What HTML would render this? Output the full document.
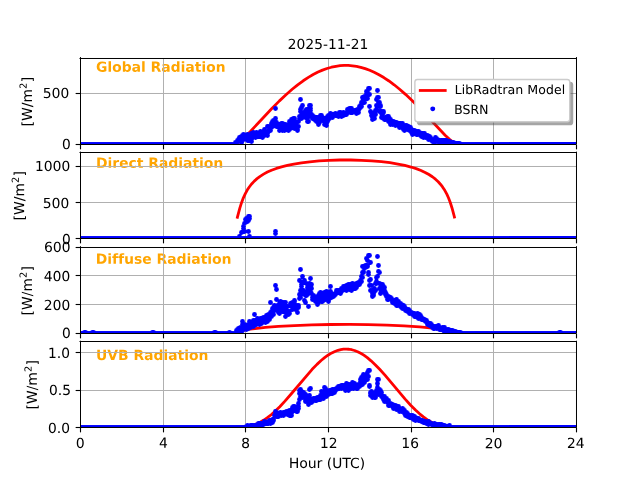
<!DOCTYPE html><html><head><meta charset="utf-8"><style>html,body{margin:0;padding:0;background:#fff;overflow:hidden}svg{display:block}</style></head><body><svg width="640" height="480" viewBox="0 0 460.8 345.6" version="1.1">
 
 <defs>
  <style type="text/css">*{stroke-linejoin: round; stroke-linecap: butt}</style>
 </defs>
 <g id="figure_1">
  <g id="patch_1">
   <path d="M 0 345.6 
L 460.8 345.6 
L 460.8 0 
L 0 0 
z
" style="fill: #ffffff"/>
  </g>
  <g id="axes_1">
   <g id="patch_2">
    <path d="M 57.6 103.358512 
L 414.72 103.358512 
L 414.72 41.472 
L 57.6 41.472 
z
" style="fill: #ffffff"/>
   </g>
   <g id="text_1">
    <!-- Global Radiation -->
    <g style="fill: #ffa500" transform="translate(69.1200 51.6600) scale(0.1 -0.1)">
     <defs>
      <path id="DejaVuSans-Bold-47" d="M 4781 347 
Q 4331 128 3847 18 
Q 3363 -91 2847 -91 
Q 1681 -91 1000 561 
Q 319 1213 319 2328 
Q 319 3456 1012 4103 
Q 1706 4750 2913 4750 
Q 3378 4750 3804 4662 
Q 4231 4575 4609 4403 
L 4609 3438 
Q 4219 3659 3833 3768 
Q 3447 3878 3059 3878 
Q 2341 3878 1952 3476 
Q 1563 3075 1563 2328 
Q 1563 1588 1938 1184 
Q 2313 781 3003 781 
Q 3191 781 3352 804 
Q 3513 828 3641 878 
L 3641 1784 
L 2906 1784 
L 2906 2591 
L 4781 2591 
L 4781 347 
z
" transform="scale(0.015625)"/>
      <path id="DejaVuSans-Bold-6c" d="M 538 4863 
L 1656 4863 
L 1656 0 
L 538 0 
L 538 4863 
z
" transform="scale(0.015625)"/>
      <path id="DejaVuSans-Bold-6f" d="M 2203 2784 
Q 1831 2784 1636 2517 
Q 1441 2250 1441 1747 
Q 1441 1244 1636 976 
Q 1831 709 2203 709 
Q 2569 709 2762 976 
Q 2956 1244 2956 1747 
Q 2956 2250 2762 2517 
Q 2569 2784 2203 2784 
z
M 2203 3584 
Q 3106 3584 3614 3096 
Q 4122 2609 4122 1747 
Q 4122 884 3614 396 
Q 3106 -91 2203 -91 
Q 1297 -91 786 396 
Q 275 884 275 1747 
Q 275 2609 786 3096 
Q 1297 3584 2203 3584 
z
" transform="scale(0.015625)"/>
      <path id="DejaVuSans-Bold-62" d="M 2400 722 
Q 2759 722 2948 984 
Q 3138 1247 3138 1747 
Q 3138 2247 2948 2509 
Q 2759 2772 2400 2772 
Q 2041 2772 1848 2508 
Q 1656 2244 1656 1747 
Q 1656 1250 1848 986 
Q 2041 722 2400 722 
z
M 1656 2988 
Q 1888 3294 2169 3439 
Q 2450 3584 2816 3584 
Q 3463 3584 3878 3070 
Q 4294 2556 4294 1747 
Q 4294 938 3878 423 
Q 3463 -91 2816 -91 
Q 2450 -91 2169 54 
Q 1888 200 1656 506 
L 1656 0 
L 538 0 
L 538 4863 
L 1656 4863 
L 1656 2988 
z
" transform="scale(0.015625)"/>
      <path id="DejaVuSans-Bold-61" d="M 2106 1575 
Q 1756 1575 1579 1456 
Q 1403 1338 1403 1106 
Q 1403 894 1545 773 
Q 1688 653 1941 653 
Q 2256 653 2472 879 
Q 2688 1106 2688 1447 
L 2688 1575 
L 2106 1575 
z
M 3816 1997 
L 3816 0 
L 2688 0 
L 2688 519 
Q 2463 200 2181 54 
Q 1900 -91 1497 -91 
Q 953 -91 614 226 
Q 275 544 275 1050 
Q 275 1666 698 1953 
Q 1122 2241 2028 2241 
L 2688 2241 
L 2688 2328 
Q 2688 2594 2478 2717 
Q 2269 2841 1825 2841 
Q 1466 2841 1156 2769 
Q 847 2697 581 2553 
L 581 3406 
Q 941 3494 1303 3539 
Q 1666 3584 2028 3584 
Q 2975 3584 3395 3211 
Q 3816 2838 3816 1997 
z
" transform="scale(0.015625)"/>
      <path id="DejaVuSans-Bold-20" transform="scale(0.015625)"/>
      <path id="DejaVuSans-Bold-52" d="M 2297 2597 
Q 2675 2597 2839 2737 
Q 3003 2878 3003 3200 
Q 3003 3519 2839 3656 
Q 2675 3794 2297 3794 
L 1791 3794 
L 1791 2597 
L 2297 2597 
z
M 1791 1766 
L 1791 0 
L 588 0 
L 588 4666 
L 2425 4666 
Q 3347 4666 3776 4356 
Q 4206 4047 4206 3378 
Q 4206 2916 3982 2619 
Q 3759 2322 3309 2181 
Q 3556 2125 3751 1926 
Q 3947 1728 4147 1325 
L 4800 0 
L 3519 0 
L 2950 1159 
Q 2778 1509 2601 1637 
Q 2425 1766 2131 1766 
L 1791 1766 
z
" transform="scale(0.015625)"/>
      <path id="DejaVuSans-Bold-64" d="M 2919 2988 
L 2919 4863 
L 4044 4863 
L 4044 0 
L 2919 0 
L 2919 506 
Q 2688 197 2409 53 
Q 2131 -91 1766 -91 
Q 1119 -91 703 423 
Q 288 938 288 1747 
Q 288 2556 703 3070 
Q 1119 3584 1766 3584 
Q 2128 3584 2408 3439 
Q 2688 3294 2919 2988 
z
M 2181 722 
Q 2541 722 2730 984 
Q 2919 1247 2919 1747 
Q 2919 2247 2730 2509 
Q 2541 2772 2181 2772 
Q 1825 2772 1636 2509 
Q 1447 2247 1447 1747 
Q 1447 1247 1636 984 
Q 1825 722 2181 722 
z
" transform="scale(0.015625)"/>
      <path id="DejaVuSans-Bold-69" d="M 538 3500 
L 1656 3500 
L 1656 0 
L 538 0 
L 538 3500 
z
M 538 4863 
L 1656 4863 
L 1656 3950 
L 538 3950 
L 538 4863 
z
" transform="scale(0.015625)"/>
      <path id="DejaVuSans-Bold-74" d="M 1759 4494 
L 1759 3500 
L 2913 3500 
L 2913 2700 
L 1759 2700 
L 1759 1216 
Q 1759 972 1856 886 
Q 1953 800 2241 800 
L 2816 800 
L 2816 0 
L 1856 0 
Q 1194 0 917 276 
Q 641 553 641 1216 
L 641 2700 
L 84 2700 
L 84 3500 
L 641 3500 
L 641 4494 
L 1759 4494 
z
" transform="scale(0.015625)"/>
      <path id="DejaVuSans-Bold-6e" d="M 4056 2131 
L 4056 0 
L 2931 0 
L 2931 347 
L 2931 1631 
Q 2931 2084 2911 2256 
Q 2891 2428 2841 2509 
Q 2775 2619 2662 2680 
Q 2550 2741 2406 2741 
Q 2056 2741 1856 2470 
Q 1656 2200 1656 1722 
L 1656 0 
L 538 0 
L 538 3500 
L 1656 3500 
L 1656 2988 
Q 1909 3294 2193 3439 
Q 2478 3584 2822 3584 
Q 3428 3584 3742 3212 
Q 4056 2841 4056 2131 
z
" transform="scale(0.015625)"/>
     </defs>
     <use href="#DejaVuSans-Bold-47"/>
     <use href="#DejaVuSans-Bold-6c" transform="translate(82.080078 0)"/>
     <use href="#DejaVuSans-Bold-6f" transform="translate(116.357422 0)"/>
     <use href="#DejaVuSans-Bold-62" transform="translate(185.058594 0)"/>
     <use href="#DejaVuSans-Bold-61" transform="translate(256.640625 0)"/>
     <use href="#DejaVuSans-Bold-6c" transform="translate(324.121094 0)"/>
     <use href="#DejaVuSans-Bold-20" transform="translate(358.398438 0)"/>
     <use href="#DejaVuSans-Bold-52" transform="translate(393.212891 0)"/>
     <use href="#DejaVuSans-Bold-61" transform="translate(470.214844 0)"/>
     <use href="#DejaVuSans-Bold-64" transform="translate(537.695312 0)"/>
     <use href="#DejaVuSans-Bold-69" transform="translate(609.277344 0)"/>
     <use href="#DejaVuSans-Bold-61" transform="translate(643.554688 0)"/>
     <use href="#DejaVuSans-Bold-74" transform="translate(711.035156 0)"/>
     <use href="#DejaVuSans-Bold-69" transform="translate(758.837891 0)"/>
     <use href="#DejaVuSans-Bold-6f" transform="translate(793.115234 0)"/>
     <use href="#DejaVuSans-Bold-6e" transform="translate(861.816406 0)"/>
    </g>
   </g>
   <g id="matplotlib.axis_1">
    <g id="xtick_1">
     <g id="line2d_1">
      <path d="M 57.9600 103.3585 L 57.9600 41.4720" clip-path="url(#p2f8685d507)" style="fill: none; stroke: #b0b0b0; stroke-width: 0.72; stroke-linecap: square"/>
     </g>
     <g id="line2d_2">
      <defs>
       <path id="m7a908d2771" d="M 0 0 
L 0 3.5 
" style="stroke: #000000; stroke-width: 0.8"/>
      </defs>
      <g>
       <use href="#m7a908d2771" x="57.9600" y="104.0400" style="stroke: #000000; stroke-width: 0.72"/>
      </g>
     </g>
    </g>
    <g id="xtick_2">
     <g id="line2d_3">
      <path d="M 117.7200 103.3585 L 117.7200 41.4720" clip-path="url(#p2f8685d507)" style="fill: none; stroke: #b0b0b0; stroke-width: 0.72; stroke-linecap: square"/>
     </g>
     <g id="line2d_4">
      <g>
       <use href="#m7a908d2771" x="117.7200" y="104.0400" style="stroke: #000000; stroke-width: 0.72"/>
      </g>
     </g>
    </g>
    <g id="xtick_3">
     <g id="line2d_5">
      <path d="M 176.7600 103.3585 L 176.7600 41.4720" clip-path="url(#p2f8685d507)" style="fill: none; stroke: #b0b0b0; stroke-width: 0.72; stroke-linecap: square"/>
     </g>
     <g id="line2d_6">
      <g>
       <use href="#m7a908d2771" x="176.7600" y="104.0400" style="stroke: #000000; stroke-width: 0.72"/>
      </g>
     </g>
    </g>
    <g id="xtick_4">
     <g id="line2d_7">
      <path d="M 236.5200 103.3585 L 236.5200 41.4720" clip-path="url(#p2f8685d507)" style="fill: none; stroke: #b0b0b0; stroke-width: 0.72; stroke-linecap: square"/>
     </g>
     <g id="line2d_8">
      <g>
       <use href="#m7a908d2771" x="236.5200" y="104.0400" style="stroke: #000000; stroke-width: 0.72"/>
      </g>
     </g>
    </g>
    <g id="xtick_5">
     <g id="line2d_9">
      <path d="M 296.2800 103.3585 L 296.2800 41.4720" clip-path="url(#p2f8685d507)" style="fill: none; stroke: #b0b0b0; stroke-width: 0.72; stroke-linecap: square"/>
     </g>
     <g id="line2d_10">
      <g>
       <use href="#m7a908d2771" x="296.2800" y="104.0400" style="stroke: #000000; stroke-width: 0.72"/>
      </g>
     </g>
    </g>
    <g id="xtick_6">
     <g id="line2d_11">
      <path d="M 355.3200 103.3585 L 355.3200 41.4720" clip-path="url(#p2f8685d507)" style="fill: none; stroke: #b0b0b0; stroke-width: 0.72; stroke-linecap: square"/>
     </g>
     <g id="line2d_12">
      <g>
       <use href="#m7a908d2771" x="355.3200" y="104.0400" style="stroke: #000000; stroke-width: 0.72"/>
      </g>
     </g>
    </g>
    <g id="xtick_7">
     <g id="line2d_13">
      <path d="M 415.0800 103.3585 L 415.0800 41.4720" clip-path="url(#p2f8685d507)" style="fill: none; stroke: #b0b0b0; stroke-width: 0.72; stroke-linecap: square"/>
     </g>
     <g id="line2d_14">
      <g>
       <use href="#m7a908d2771" x="415.0800" y="104.0400" style="stroke: #000000; stroke-width: 0.72"/>
      </g>
     </g>
    </g>
   </g>
   <g id="matplotlib.axis_2">
    <g id="ytick_1">
     <g id="line2d_15">
      <path d="M 57.6000 104.0400 L 414.7200 104.0400" clip-path="url(#p2f8685d507)" style="fill: none; stroke: #b0b0b0; stroke-width: 0.72; stroke-linecap: square"/>
     </g>
     <g id="line2d_16">
      <defs>
       <path id="m9e7ff585a2" d="M 0 0 
L -3.5 0 
" style="stroke: #000000; stroke-width: 0.8"/>
      </defs>
      <g>
       <use href="#m9e7ff585a2" x="57.9600" y="104.0400" style="stroke: #000000; stroke-width: 0.72"/>
      </g>
     </g>
     <g id="text_2">
      <!-- 0 -->
      <g transform="translate(44.5975 107.3377) scale(0.1 -0.1)">
       <defs>
        <path id="DejaVuSans-30" d="M 2034 4250 
Q 1547 4250 1301 3770 
Q 1056 3291 1056 2328 
Q 1056 1369 1301 889 
Q 1547 409 2034 409 
Q 2525 409 2770 889 
Q 3016 1369 3016 2328 
Q 3016 3291 2770 3770 
Q 2525 4250 2034 4250 
z
M 2034 4750 
Q 2819 4750 3233 4129 
Q 3647 3509 3647 2328 
Q 3647 1150 3233 529 
Q 2819 -91 2034 -91 
Q 1250 -91 836 529 
Q 422 1150 422 2328 
Q 422 3509 836 4129 
Q 1250 4750 2034 4750 
z
" transform="scale(0.015625)"/>
       </defs>
       <use href="#DejaVuSans-30"/>
      </g>
     </g>
    </g>
    <g id="ytick_2">
     <g id="line2d_17">
      <path d="M 57.6000 67.3200 L 414.7200 67.3200" clip-path="url(#p2f8685d507)" style="fill: none; stroke: #b0b0b0; stroke-width: 0.72; stroke-linecap: square"/>
     </g>
     <g id="line2d_18">
      <g>
       <use href="#m9e7ff585a2" x="57.9600" y="67.3200" style="stroke: #000000; stroke-width: 0.72"/>
      </g>
     </g>
     <g id="text_3">
      <!-- 500 -->
      <g transform="translate(30.7925 70.5739) scale(0.1 -0.1)">
       <defs>
        <path id="DejaVuSans-35" d="M 691 4666 
L 3169 4666 
L 3169 4134 
L 1269 4134 
L 1269 2991 
Q 1406 3038 1543 3061 
Q 1681 3084 1819 3084 
Q 2600 3084 3056 2656 
Q 3513 2228 3513 1497 
Q 3513 744 3044 326 
Q 2575 -91 1722 -91 
Q 1428 -91 1123 -41 
Q 819 9 494 109 
L 494 744 
Q 775 591 1075 516 
Q 1375 441 1709 441 
Q 2250 441 2565 725 
Q 2881 1009 2881 1497 
Q 2881 1984 2565 2268 
Q 2250 2553 1709 2553 
Q 1456 2553 1204 2497 
Q 953 2441 691 2322 
L 691 4666 
z
" transform="scale(0.015625)"/>
       </defs>
       <use href="#DejaVuSans-35"/>
       <use href="#DejaVuSans-30" transform="translate(63.623047 0)"/>
       <use href="#DejaVuSans-30" transform="translate(127.246094 0)"/>
      </g>
     </g>
    </g>
    <g id="text_4">
     <!-- [W/m$^2$] -->
     <g transform="translate(23.0928 90.9853) rotate(-90) scale(0.1 -0.1)">
      <defs>
       <path id="DejaVuSans-5b" d="M 550 4863 
L 1875 4863 
L 1875 4416 
L 1125 4416 
L 1125 -397 
L 1875 -397 
L 1875 -844 
L 550 -844 
L 550 4863 
z
" transform="scale(0.015625)"/>
       <path id="DejaVuSans-57" d="M 213 4666 
L 850 4666 
L 1831 722 
L 2809 4666 
L 3519 4666 
L 4500 722 
L 5478 4666 
L 6119 4666 
L 4947 0 
L 4153 0 
L 3169 4050 
L 2175 0 
L 1381 0 
L 213 4666 
z
" transform="scale(0.015625)"/>
       <path id="DejaVuSans-2f" d="M 1625 4666 
L 2156 4666 
L 531 -594 
L 0 -594 
L 1625 4666 
z
" transform="scale(0.015625)"/>
       <path id="DejaVuSans-6d" d="M 3328 2828 
Q 3544 3216 3844 3400 
Q 4144 3584 4550 3584 
Q 5097 3584 5394 3201 
Q 5691 2819 5691 2113 
L 5691 0 
L 5113 0 
L 5113 2094 
Q 5113 2597 4934 2840 
Q 4756 3084 4391 3084 
Q 3944 3084 3684 2787 
Q 3425 2491 3425 1978 
L 3425 0 
L 2847 0 
L 2847 2094 
Q 2847 2600 2669 2842 
Q 2491 3084 2119 3084 
Q 1678 3084 1418 2786 
Q 1159 2488 1159 1978 
L 1159 0 
L 581 0 
L 581 3500 
L 1159 3500 
L 1159 2956 
Q 1356 3278 1631 3431 
Q 1906 3584 2284 3584 
Q 2666 3584 2933 3390 
Q 3200 3197 3328 2828 
z
" transform="scale(0.015625)"/>
       <path id="DejaVuSans-32" d="M 1228 531 
L 3431 531 
L 3431 0 
L 469 0 
L 469 531 
Q 828 903 1448 1529 
Q 2069 2156 2228 2338 
Q 2531 2678 2651 2914 
Q 2772 3150 2772 3378 
Q 2772 3750 2511 3984 
Q 2250 4219 1831 4219 
Q 1534 4219 1204 4116 
Q 875 4013 500 3803 
L 500 4441 
Q 881 4594 1212 4672 
Q 1544 4750 1819 4750 
Q 2544 4750 2975 4387 
Q 3406 4025 3406 3419 
Q 3406 3131 3298 2873 
Q 3191 2616 2906 2266 
Q 2828 2175 2409 1742 
Q 1991 1309 1228 531 
z
" transform="scale(0.015625)"/>
       <path id="DejaVuSans-5d" d="M 1947 4863 
L 1947 -844 
L 622 -844 
L 622 -397 
L 1369 -397 
L 1369 4416 
L 622 4416 
L 622 4863 
L 1947 4863 
z
" transform="scale(0.015625)"/>
      </defs>
      <use href="#DejaVuSans-5b" transform="translate(0 0.765625)"/>
      <use href="#DejaVuSans-57" transform="translate(39.013672 0.765625)"/>
      <use href="#DejaVuSans-2f" transform="translate(137.890625 0.765625)"/>
      <use href="#DejaVuSans-6d" transform="translate(171.582031 0.765625)"/>
      <use href="#DejaVuSans-32" transform="translate(269.951172 39.046875) scale(0.7)"/>
      <use href="#DejaVuSans-5d" transform="translate(317.22168 0.765625)"/>
     </g>
    </g>
   </g>
   <g id="line2d_19">
    <path d="M 170.936 103.176347 
L 171.68 102.557696 
L 174.16 100.612525 
L 176.64 98.33925 
L 180.112 94.829046 
L 186.312 88.186726 
L 195.736 78.133249 
L 201.192 72.636111 
L 205.904 68.18443 
L 210.368 64.270851 
L 214.336 61.071815 
L 218.304 58.160273 
L 222.024 55.709861 
L 225.496 53.679732 
L 228.968 51.90821 
L 232.192 50.502513 
L 235.416 49.333373 
L 238.64 48.4057 
L 241.864 47.723361 
L 244.84 47.313724 
L 247.816 47.116992 
L 250.792 47.133854 
L 253.768 47.36425 
L 256.744 47.807369 
L 259.72 48.461647 
L 262.944 49.406034 
L 266.168 50.59157 
L 269.392 52.013272 
L 272.864 53.801506 
L 276.336 55.847712 
L 280.056 58.314534 
L 283.776 61.050907 
L 287.744 64.247898 
L 291.96 67.933874 
L 296.672 72.367361 
L 301.88 77.591679 
L 308.328 84.402733 
L 320.48 97.336294 
L 323.456 100.154672 
L 325.688 101.986572 
L 327.176 103.141476 
L 327.176 103.141476 
" clip-path="url(#p2f8685d507)" style="fill: none; stroke: #ff0000; stroke-width: 2; stroke-linecap: square"/>
   </g>
   <g id="line2d_20">
    <defs>
     <path id="m066507d8de" d="M 0 1.25 
C 0.331504 1.25 0.649475 1.118292 0.883883 0.883883 
C 1.118292 0.649475 1.25 0.331504 1.25 0 
C 1.25 -0.331504 1.118292 -0.649475 0.883883 -0.883883 
C 0.649475 -1.118292 0.331504 -1.25 0 -1.25 
C -0.331504 -1.25 -0.649475 -1.118292 -0.883883 -0.883883 
C -1.118292 -0.649475 -1.25 -0.331504 -1.25 0 
C -1.25 0.331504 -1.118292 0.649475 -0.883883 0.883883 
C -0.649475 1.118292 -0.331504 1.25 0 1.25 
z
" style="stroke: #0000ff"/>
    </defs>
    <g clip-path="url(#p2f8685d507)">
     <path d="M57.960 104.040h0M57.960 104.040h0M58.680 104.040h0M58.680 104.040h0M58.680 104.040h0M59.400 104.040h0M59.400 104.040h0M59.400 104.040h0M60.120 104.040h0M60.120 104.040h0M60.120 104.040h0M60.840 104.040h0M60.840 104.040h0M60.840 104.040h0M61.560 104.040h0M61.560 104.040h0M62.280 104.040h0M62.280 104.040h0M62.280 104.040h0M63.000 104.040h0M63.000 104.040h0M63.000 104.040h0M63.720 104.040h0M63.720 104.040h0M63.720 104.040h0M64.440 104.040h0M64.440 104.040h0M64.440 104.040h0M65.160 104.040h0M65.160 104.040h0M65.160 104.040h0M65.880 104.040h0M65.880 104.040h0M65.880 104.040h0M66.600 104.040h0M66.600 104.040h0M66.600 104.040h0M67.320 104.040h0M67.320 104.040h0M67.320 104.040h0M68.040 104.040h0M68.040 104.040h0M68.040 104.040h0M68.760 104.040h0M68.760 104.040h0M69.480 104.040h0M69.480 104.040h0M69.480 104.040h0M70.200 104.040h0M70.200 104.040h0M70.200 104.040h0M70.920 104.040h0M70.920 104.040h0M70.920 104.040h0M71.640 104.040h0M71.640 104.040h0M71.640 104.040h0M72.360 104.040h0M72.360 104.040h0M72.360 104.040h0M73.080 104.040h0M73.080 104.040h0M73.080 104.040h0M73.800 104.040h0M73.800 104.040h0M73.800 104.040h0M74.520 104.040h0M74.520 104.040h0M74.520 104.040h0M75.240 104.040h0M75.240 104.040h0M75.240 104.040h0M75.960 104.040h0M75.960 104.040h0M75.960 104.040h0M76.680 104.040h0M76.680 104.040h0M77.400 104.040h0M77.400 104.040h0M77.400 104.040h0M78.120 104.040h0M78.120 104.040h0M78.120 104.040h0M78.840 104.040h0M78.840 104.040h0M78.840 104.040h0M79.560 104.040h0M79.560 104.040h0M79.560 104.040h0M80.280 104.040h0M80.280 104.040h0M80.280 104.040h0M81.000 104.040h0M81.000 104.040h0M81.000 104.040h0M81.720 104.040h0M81.720 104.040h0M81.720 104.040h0M82.440 104.040h0M82.440 104.040h0M82.440 104.040h0M83.160 104.040h0M83.160 104.040h0M83.160 104.040h0M83.880 104.040h0M83.880 104.040h0M84.600 104.040h0M84.600 104.040h0M84.600 104.040h0M85.320 104.040h0M85.320 104.040h0M85.320 104.040h0M86.040 104.040h0M86.040 104.040h0M86.040 104.040h0M86.760 104.040h0M86.760 104.040h0M86.760 104.040h0M87.480 104.040h0M87.480 104.040h0M87.480 104.040h0M88.200 104.040h0M88.200 104.040h0M88.200 104.040h0M88.920 104.040h0M88.920 104.040h0M88.920 104.040h0M89.640 104.040h0M89.640 104.040h0M89.640 104.040h0M90.360 104.040h0M90.360 104.040h0M90.360 104.040h0M91.080 104.040h0M91.080 104.040h0M91.800 104.040h0M91.800 104.040h0M91.800 104.040h0M92.520 104.040h0M92.520 104.040h0M92.520 104.040h0M93.240 104.040h0M93.240 104.040h0M93.240 104.040h0M93.960 104.040h0M93.960 104.040h0M93.960 104.040h0M94.680 104.040h0M94.680 104.040h0M94.680 104.040h0M95.400 104.040h0M95.400 104.040h0M95.400 104.040h0M96.120 104.040h0M96.120 104.040h0M96.120 104.040h0M96.840 104.040h0M96.840 104.040h0M96.840 104.040h0M97.560 104.040h0M97.560 104.040h0M97.560 104.040h0M98.280 104.040h0M98.280 104.040h0M98.280 104.040h0M99.000 104.040h0M99.000 104.040h0M99.720 104.040h0M99.720 104.040h0M99.720 104.040h0M100.440 104.040h0M100.440 104.040h0M100.440 104.040h0M101.160 104.040h0M101.160 104.040h0M101.160 104.040h0M101.880 104.040h0M101.880 104.040h0M101.880 104.040h0M102.600 104.040h0M102.600 104.040h0M102.600 104.040h0M103.320 104.040h0M103.320 104.040h0M103.320 104.040h0M104.040 104.040h0M104.040 104.040h0M104.040 104.040h0M104.760 104.040h0M104.760 104.040h0M104.760 104.040h0M105.480 104.040h0M105.480 104.040h0M105.480 104.040h0M106.200 104.040h0M106.200 104.040h0M106.920 104.040h0M106.920 104.040h0M106.920 104.040h0M107.640 104.040h0M107.640 104.040h0M107.640 104.040h0M108.360 104.040h0M108.360 104.040h0M108.360 104.040h0M109.080 104.040h0M109.080 104.040h0M109.080 104.040h0M109.800 104.040h0M109.800 104.040h0M109.800 104.040h0M110.520 104.040h0M110.520 104.040h0M110.520 104.040h0M111.240 104.040h0M111.240 104.040h0M111.240 104.040h0M111.960 104.040h0M111.960 104.040h0M111.960 104.040h0M112.680 104.040h0M112.680 104.040h0M112.680 104.040h0M113.400 104.040h0M113.400 104.040h0M114.120 104.040h0M114.120 104.040h0M114.120 104.040h0M114.840 104.040h0M114.840 104.040h0M114.840 104.040h0M115.560 104.040h0M115.560 104.040h0M115.560 104.040h0M116.280 104.040h0M116.280 104.040h0M116.280 104.040h0M117.000 104.040h0M117.000 104.040h0M117.000 104.040h0M117.720 104.040h0M117.720 104.040h0M117.720 104.040h0M118.440 104.040h0M118.440 104.040h0M118.440 104.040h0M119.160 104.040h0M119.160 104.040h0M119.160 104.040h0M119.880 104.040h0M119.880 104.040h0M119.880 104.040h0M120.600 104.040h0M120.600 104.040h0M120.600 104.040h0M121.320 104.040h0M121.320 104.040h0M122.040 104.040h0M122.040 104.040h0M122.040 104.040h0M122.760 104.040h0M122.760 104.040h0M122.760 104.040h0M123.480 104.040h0M123.480 104.040h0M123.480 104.040h0M124.200 104.040h0M124.200 104.040h0M124.200 104.040h0M124.920 104.040h0M124.920 104.040h0M124.920 104.040h0M125.640 104.040h0M125.640 104.040h0M125.640 104.040h0M126.360 104.040h0M126.360 104.040h0M126.360 104.040h0M127.080 104.040h0M127.080 104.040h0M127.080 104.040h0M127.800 104.040h0M127.800 104.040h0M127.800 104.040h0M128.520 104.040h0M128.520 104.040h0M129.240 104.040h0M129.240 104.040h0M129.240 104.040h0M129.960 104.040h0M129.960 104.040h0M129.960 104.040h0M130.680 104.040h0M130.680 104.040h0M130.680 104.040h0M131.400 104.040h0M131.400 104.040h0M131.400 104.040h0M132.120 104.040h0M132.120 104.040h0M132.120 104.040h0M132.840 104.040h0M132.840 104.040h0M132.840 104.040h0M133.560 104.040h0M133.560 104.040h0M133.560 104.040h0M134.280 104.040h0M134.280 104.040h0M134.280 104.040h0M135.000 104.040h0M135.000 104.040h0M135.000 104.040h0M135.720 104.040h0M135.720 104.040h0M136.440 104.040h0M136.440 104.040h0M136.440 104.040h0M137.160 104.040h0M137.160 104.040h0M137.160 104.040h0M137.880 104.040h0M137.880 104.040h0M137.880 104.040h0M138.600 104.040h0M138.600 104.040h0M138.600 104.040h0M139.320 104.040h0M139.320 104.040h0M139.320 104.040h0M140.040 104.040h0M140.040 104.040h0M140.040 104.040h0M140.760 104.040h0M140.760 104.040h0M140.760 104.040h0M141.480 104.040h0M141.480 104.040h0M141.480 104.040h0M142.200 104.040h0M142.200 104.040h0M142.200 104.040h0M142.920 104.040h0M142.920 104.040h0M142.920 104.040h0M143.640 104.040h0M143.640 104.040h0M144.360 104.040h0M144.360 104.040h0M144.360 104.040h0M145.080 104.040h0M145.080 104.040h0M145.080 104.040h0M145.800 104.040h0M145.800 104.040h0M145.800 104.040h0M146.520 104.040h0M146.520 104.040h0M146.520 104.040h0M147.240 104.040h0M147.240 104.040h0M147.240 104.040h0M147.960 104.040h0M147.960 104.040h0M147.960 104.040h0M148.680 104.040h0M148.680 104.040h0M148.680 104.040h0M149.400 104.040h0M149.400 104.040h0M149.400 104.040h0M150.120 104.040h0M150.120 104.040h0M150.120 104.040h0M150.840 104.040h0M150.840 104.040h0M151.560 104.040h0M151.560 104.040h0M151.560 104.040h0M152.280 104.040h0M152.280 104.040h0M152.280 104.040h0M153.000 104.040h0M153.000 104.040h0M153.000 104.040h0M153.720 104.040h0M153.720 104.040h0M153.720 104.040h0M154.440 104.040h0M154.440 104.040h0M154.440 104.040h0M155.160 104.040h0M155.160 104.040h0M155.160 104.040h0M155.880 104.040h0M155.880 104.040h0M155.880 104.040h0M156.600 104.040h0M156.600 104.040h0M156.600 104.040h0M157.320 104.040h0M157.320 104.040h0M157.320 104.040h0M158.040 104.040h0M158.040 104.040h0M158.040 104.040h0M158.760 104.040h0M158.760 104.040h0M159.480 104.040h0M159.480 104.040h0M159.480 104.040h0M160.200 104.040h0M160.200 104.040h0M160.200 104.040h0M160.920 104.040h0M160.920 104.040h0M160.920 104.040h0M161.640 104.040h0M161.640 104.040h0M161.640 104.040h0M162.360 104.040h0M162.360 104.040h0M162.360 104.040h0M163.080 104.040h0M163.080 104.040h0M163.080 104.040h0M163.800 104.040h0M163.800 104.040h0M163.800 104.040h0M164.520 104.040h0M164.520 104.040h0M164.520 104.040h0M165.240 104.040h0M165.240 104.040h0M165.240 104.040h0M165.960 104.040h0M165.960 104.040h0M166.680 104.040h0M166.680 104.040h0M166.680 104.040h0M167.400 104.040h0M167.400 104.040h0M167.400 104.040h0M168.120 104.040h0M168.120 104.040h0M168.120 104.040h0M168.840 104.040h0M168.840 104.040h0M168.840 104.040h0M169.560 104.040h0M169.560 104.040h0M169.560 102.600h0M170.280 102.600h0M170.280 102.600h0M170.280 102.600h0M171.000 101.160h0M171.000 101.880h0M171.000 101.160h0M171.720 100.440h0M171.720 100.440h0M171.720 100.440h0M172.440 99.720h0M172.440 101.160h0M172.440 99.000h0M173.160 101.880h0M173.160 99.720h0M173.880 99.720h0M173.880 102.600h0M173.880 98.280h0M174.600 101.160h0M174.600 97.560h0M174.600 100.440h0M175.320 100.440h0M175.320 100.440h0M175.320 96.840h0M176.040 97.560h0M176.040 97.560h0M176.040 98.280h0M176.760 98.280h0M176.760 98.280h0M176.760 98.280h0M177.480 97.560h0M177.480 97.560h0M177.480 98.280h0M178.200 101.160h0M178.200 99.000h0M178.200 96.840h0M178.920 99.720h0M178.920 97.560h0M178.920 98.280h0M179.640 101.160h0M179.640 100.440h0M179.640 100.440h0M180.360 99.720h0M180.360 99.000h0M181.080 96.120h0M181.080 100.440h0M181.080 101.880h0M181.800 97.560h0M181.800 99.000h0M181.800 98.280h0M182.520 96.120h0M182.520 95.400h0M182.520 97.560h0M183.240 96.840h0M183.240 97.560h0M183.240 96.840h0M183.960 99.000h0M183.960 98.280h0M183.960 98.280h0M184.680 95.400h0M184.680 96.120h0M184.680 98.280h0M185.400 96.840h0M185.400 98.280h0M185.400 96.840h0M186.120 98.280h0M186.120 96.120h0M186.120 98.280h0M186.840 98.280h0M186.840 97.560h0M186.840 97.560h0M187.560 97.560h0M187.560 98.280h0M187.560 94.680h0M188.280 96.840h0M188.280 98.280h0M189.000 99.000h0M189.000 99.000h0M189.000 97.560h0M189.720 94.680h0M189.720 97.560h0M189.720 96.120h0M190.440 97.560h0M190.440 93.240h0M190.440 95.400h0M191.160 96.120h0M191.160 94.680h0M191.160 94.680h0M191.880 94.680h0M191.880 96.120h0M191.880 96.840h0M192.600 96.120h0M192.600 97.560h0M192.600 91.080h0M193.320 94.680h0M193.320 94.680h0M193.320 94.680h0M194.040 91.080h0M194.040 93.960h0M194.040 91.080h0M194.760 91.800h0M194.760 91.800h0M194.760 93.960h0M195.480 88.920h0M195.480 91.800h0M196.200 91.080h0M196.200 87.480h0M196.200 88.200h0M196.920 86.760h0M196.920 88.920h0M196.920 88.200h0M197.640 86.760h0M197.640 88.920h0M197.640 86.760h0M198.360 89.640h0M198.360 85.320h0M198.360 78.120h0M199.080 91.080h0M199.080 89.640h0M199.080 88.200h0M199.800 91.080h0M199.800 91.080h0M199.800 91.080h0M200.520 90.360h0M200.520 91.080h0M200.520 91.080h0M201.240 93.960h0M201.240 89.640h0M201.240 90.360h0M201.960 91.800h0M201.960 89.640h0M201.960 90.360h0M202.680 88.920h0M202.680 93.240h0M203.400 88.920h0M203.400 90.360h0M203.400 93.960h0M204.120 90.360h0M204.120 92.520h0M204.120 93.240h0M204.840 91.800h0M204.840 93.960h0M204.840 91.080h0M205.560 91.800h0M205.560 91.800h0M205.560 89.640h0M206.280 91.800h0M206.280 93.240h0M206.280 92.520h0M207.000 91.800h0M207.000 90.360h0M207.000 92.520h0M207.720 93.960h0M207.720 89.640h0M207.720 90.360h0M208.440 91.080h0M208.440 87.480h0M208.440 93.240h0M209.160 90.360h0M209.160 92.520h0M209.160 87.480h0M209.880 87.480h0M209.880 86.040h0M209.880 91.080h0M210.600 86.040h0M210.600 87.480h0M211.320 88.200h0M211.320 85.320h0M211.320 88.200h0M212.040 88.920h0M212.040 85.320h0M212.040 92.520h0M212.760 87.480h0M212.760 87.480h0M212.760 91.800h0M213.480 90.360h0M213.480 90.360h0M213.480 88.920h0M214.200 91.800h0M214.200 93.240h0M214.200 93.960h0M214.920 91.080h0M214.920 91.080h0M214.920 87.480h0M215.640 85.320h0M215.640 85.320h0M215.640 83.880h0M216.360 78.840h0M216.360 80.280h0M216.360 71.640h0M217.080 77.400h0M217.080 82.440h0M217.080 85.320h0M217.800 75.960h0M217.800 81.720h0M218.520 83.160h0M218.520 81.000h0M218.520 81.720h0M219.240 83.160h0M219.240 82.440h0M219.240 81.000h0M219.960 81.000h0M219.960 79.560h0M219.960 84.600h0M220.680 83.880h0M220.680 78.840h0M220.680 82.440h0M221.400 79.560h0M221.400 85.320h0M221.400 87.480h0M222.120 82.440h0M222.120 87.480h0M222.120 81.000h0M222.840 75.960h0M222.840 77.400h0M222.840 81.720h0M223.560 78.120h0M223.560 79.560h0M223.560 75.960h0M224.280 83.880h0M224.280 82.440h0M224.280 82.440h0M225.000 83.160h0M225.000 85.320h0M225.720 83.880h0M225.720 83.880h0M225.720 84.600h0M226.440 85.320h0M226.440 86.040h0M226.440 85.320h0M227.160 84.600h0M227.160 85.320h0M227.160 86.760h0M227.880 87.480h0M227.880 87.480h0M227.880 84.600h0M228.600 86.040h0M228.600 84.600h0M228.600 85.320h0M229.320 86.040h0M229.320 87.480h0M229.320 89.640h0M230.040 88.200h0M230.040 86.760h0M230.040 86.040h0M230.760 86.040h0M230.760 85.320h0M230.760 83.160h0M231.480 83.160h0M231.480 83.880h0M231.480 84.600h0M232.200 84.600h0M232.200 86.760h0M232.200 85.320h0M232.920 86.760h0M232.920 85.320h0M233.640 89.640h0M233.640 87.480h0M233.640 85.320h0M234.360 86.040h0M234.360 85.320h0M234.360 85.320h0M235.080 90.360h0M235.080 86.760h0M235.080 88.920h0M235.800 83.880h0M235.800 87.480h0M235.800 85.320h0M236.520 83.160h0M236.520 86.040h0M236.520 85.320h0M237.240 84.600h0M237.240 85.320h0M237.240 83.160h0M237.960 83.160h0M237.960 81.720h0M237.960 83.160h0M238.680 83.160h0M238.680 83.880h0M238.680 83.880h0M239.400 84.600h0M239.400 83.160h0M239.400 82.440h0M240.120 82.440h0M240.120 83.160h0M240.840 82.440h0M240.840 82.440h0M240.840 82.440h0M241.560 81.720h0M241.560 83.160h0M241.560 82.440h0M242.280 82.440h0M242.280 82.440h0M242.280 83.160h0M243.000 83.160h0M243.000 83.160h0M243.000 82.440h0M243.720 81.720h0M243.720 83.880h0M243.720 82.440h0M244.440 81.000h0M244.440 81.000h0M244.440 81.720h0M245.160 81.000h0M245.160 81.000h0M245.160 82.440h0M245.880 81.720h0M245.880 83.880h0M245.880 83.160h0M246.600 82.440h0M246.600 82.440h0M246.600 81.720h0M247.320 81.000h0M247.320 83.160h0M248.040 81.720h0M248.040 81.720h0M248.040 81.720h0M248.760 81.720h0M248.760 81.720h0M248.760 82.440h0M249.480 82.440h0M249.480 82.440h0M249.480 81.000h0M250.200 81.000h0M250.200 78.840h0M250.200 80.280h0M250.920 78.840h0M250.920 81.000h0M250.920 81.000h0M251.640 79.560h0M251.640 78.120h0M251.640 80.280h0M252.360 78.120h0M252.360 81.000h0M252.360 81.000h0M253.080 81.000h0M253.080 78.120h0M253.080 78.840h0M253.800 80.280h0M253.800 81.000h0M253.800 79.560h0M254.520 80.280h0M254.520 79.560h0M254.520 79.560h0M255.240 80.280h0M255.240 80.280h0M255.960 79.560h0M255.960 80.280h0M255.960 80.280h0M256.680 81.000h0M256.680 81.720h0M256.680 81.000h0M257.400 79.560h0M257.400 78.840h0M257.400 80.280h0M258.120 78.840h0M258.120 79.560h0M258.120 81.000h0M258.840 77.400h0M258.840 76.680h0M258.840 78.120h0M259.560 77.400h0M259.560 75.960h0M259.560 75.960h0M260.280 76.680h0M260.280 75.240h0M260.280 73.800h0M261.000 73.080h0M261.000 70.200h0M261.000 70.200h0M261.720 71.640h0M261.720 70.920h0M261.720 73.800h0M262.440 69.480h0M262.440 73.800h0M263.160 71.640h0M263.160 70.200h0M263.160 69.480h0M263.880 68.760h0M263.880 67.320h0M263.880 65.880h0M264.600 70.920h0M264.600 66.600h0M264.600 67.320h0M265.320 68.040h0M265.320 64.440h0M265.320 63.720h0M266.040 63.720h0M266.040 68.040h0M266.040 76.680h0M266.760 80.280h0M266.760 80.280h0M266.760 80.280h0M267.480 83.160h0M267.480 81.720h0M267.480 81.720h0M268.200 84.600h0M268.200 81.720h0M268.200 86.040h0M268.920 82.440h0M268.920 82.440h0M268.920 82.440h0M269.640 85.320h0M269.640 81.000h0M269.640 83.160h0M270.360 82.440h0M270.360 79.560h0M271.080 78.840h0M271.080 75.960h0M271.080 71.640h0M271.800 70.200h0M271.800 65.160h0M271.800 65.160h0M272.520 70.200h0M272.520 73.800h0M272.520 74.520h0M273.240 73.800h0M273.240 76.680h0M273.240 80.280h0M273.960 75.960h0M273.960 76.680h0M273.960 80.280h0M274.680 84.600h0M274.680 80.280h0M274.680 81.720h0M275.400 83.880h0M275.400 82.440h0M275.400 81.000h0M276.120 81.000h0M276.120 85.320h0M276.120 80.280h0M276.840 86.040h0M276.840 85.320h0M276.840 84.600h0M277.560 85.320h0M277.560 86.040h0M278.280 84.600h0M278.280 84.600h0M278.280 84.600h0M279.000 83.880h0M279.000 84.600h0M279.000 85.320h0M279.720 83.880h0M279.720 87.480h0M279.720 85.320h0M280.440 85.320h0M280.440 85.320h0M280.440 86.040h0M281.160 86.040h0M281.160 89.640h0M281.160 88.200h0M281.880 88.200h0M281.880 87.480h0M281.880 88.200h0M282.600 88.920h0M282.600 89.640h0M282.600 88.920h0M283.320 88.920h0M283.320 87.480h0M283.320 88.920h0M284.040 88.920h0M284.040 88.200h0M284.040 88.920h0M284.760 88.200h0M284.760 90.360h0M285.480 89.640h0M285.480 88.920h0M285.480 88.200h0M286.200 88.920h0M286.200 89.640h0M286.200 88.920h0M286.920 90.360h0M286.920 88.920h0M286.920 89.640h0M287.640 90.360h0M287.640 88.920h0M287.640 91.800h0M288.360 91.080h0M288.360 90.360h0M288.360 88.920h0M289.080 90.360h0M289.080 91.800h0M289.080 90.360h0M289.800 90.360h0M289.800 88.920h0M289.800 89.640h0M290.520 91.080h0M290.520 93.240h0M290.520 91.800h0M291.240 93.960h0M291.240 91.800h0M291.240 90.360h0M291.960 91.800h0M291.960 91.080h0M291.960 91.800h0M292.680 91.800h0M292.680 90.360h0M293.400 91.800h0M293.400 93.240h0M293.400 93.240h0M294.120 92.520h0M294.120 92.520h0M294.120 91.080h0M294.840 91.800h0M294.840 91.800h0M294.840 93.960h0M295.560 91.800h0M295.560 93.240h0M295.560 93.240h0M296.280 93.240h0M296.280 95.400h0M296.280 94.680h0M297.000 95.400h0M297.000 93.960h0M297.000 96.840h0M297.720 96.120h0M297.720 93.960h0M297.720 94.680h0M298.440 95.400h0M298.440 93.960h0M298.440 96.120h0M299.160 94.680h0M299.160 95.400h0M299.160 94.680h0M299.880 96.120h0M299.880 96.840h0M300.600 95.400h0M300.600 96.840h0M300.600 94.680h0M301.320 96.120h0M301.320 94.680h0M301.320 95.400h0M302.040 96.120h0M302.040 96.120h0M302.040 95.400h0M302.760 97.560h0M302.760 96.120h0M302.760 96.120h0M303.480 98.280h0M303.480 98.280h0M303.480 96.120h0M304.200 96.840h0M304.200 96.120h0M304.200 96.120h0M304.920 97.560h0M304.920 98.280h0M304.920 99.000h0M305.640 98.280h0M305.640 98.280h0M305.640 96.120h0M306.360 97.560h0M306.360 99.000h0M306.360 97.560h0M307.080 98.280h0M307.080 98.280h0M307.800 97.560h0M307.800 98.280h0M307.800 99.000h0M308.520 100.440h0M308.520 99.720h0M308.520 99.720h0M309.240 99.720h0M309.240 99.720h0M309.240 98.280h0M309.960 99.720h0M309.960 99.000h0M309.960 100.440h0M310.680 100.440h0M310.680 101.160h0M310.680 100.440h0M311.400 101.160h0M311.400 101.880h0M311.400 101.160h0M312.120 101.160h0M312.120 100.440h0M312.120 100.440h0M312.840 101.160h0M312.840 101.160h0M312.840 102.600h0M313.560 101.160h0M313.560 99.720h0M313.560 99.000h0M314.280 99.720h0M314.280 100.440h0M314.280 100.440h0M315.000 100.440h0M315.000 101.880h0M315.720 101.880h0M315.720 101.160h0M315.720 101.160h0M316.440 101.880h0M316.440 101.880h0M316.440 101.880h0M317.160 101.160h0M317.160 101.880h0M317.160 102.600h0M317.880 101.160h0M317.880 102.600h0M317.880 102.600h0M318.600 101.160h0M318.600 101.880h0M318.600 102.600h0M319.320 101.880h0M319.320 102.600h0M319.320 101.160h0M320.040 101.160h0M320.040 101.880h0M320.040 101.160h0M320.760 101.160h0M320.760 101.880h0M320.760 102.600h0M321.480 101.160h0M321.480 101.880h0M321.480 101.880h0M322.200 102.600h0M322.200 101.880h0M322.920 102.600h0M322.920 101.880h0M322.920 102.600h0M323.640 102.600h0M323.640 101.880h0M323.640 102.600h0M324.360 103.320h0M324.360 103.320h0M324.360 103.320h0M325.080 103.320h0M325.080 103.320h0M325.080 103.320h0M325.800 102.600h0M325.800 102.600h0M325.800 103.320h0M326.520 102.600h0M326.520 102.600h0M326.520 103.320h0M327.240 103.320h0M327.240 103.320h0M327.240 103.320h0M327.960 103.320h0M327.960 103.320h0M327.960 103.320h0M328.680 103.320h0M328.680 103.320h0M328.680 103.320h0M329.400 103.320h0M329.400 103.320h0M330.120 103.320h0M330.120 103.320h0M330.120 104.040h0M330.840 103.320h0M330.840 104.040h0M330.840 104.040h0M331.560 104.040h0M331.560 104.040h0M331.560 104.040h0M332.280 104.040h0M332.280 104.040h0M332.280 104.040h0M333.000 104.040h0M333.000 104.040h0M333.000 104.040h0M333.720 104.040h0M333.720 104.040h0M333.720 104.040h0M334.440 104.040h0M334.440 104.040h0M334.440 104.040h0M335.160 104.040h0M335.160 104.040h0M335.160 104.040h0M335.880 104.040h0M335.880 104.040h0M335.880 104.040h0M336.600 104.040h0M336.600 104.040h0M337.320 104.040h0M337.320 104.040h0M337.320 104.040h0M338.040 104.040h0M338.040 104.040h0M338.040 104.040h0M338.760 104.040h0M338.760 104.040h0M338.760 104.040h0M339.480 104.040h0M339.480 104.040h0M339.480 104.040h0M340.200 104.040h0M340.200 104.040h0M340.200 104.040h0M340.920 104.040h0M340.920 104.040h0M340.920 104.040h0M341.640 104.040h0M341.640 104.040h0M341.640 104.040h0M342.360 104.040h0M342.360 104.040h0M342.360 104.040h0M343.080 104.040h0M343.080 104.040h0M343.080 104.040h0M343.800 104.040h0M343.800 104.040h0M343.800 104.040h0M344.520 104.040h0M344.520 104.040h0M345.240 104.040h0M345.240 104.040h0M345.240 104.040h0M345.960 104.040h0M345.960 104.040h0M345.960 104.040h0M346.680 104.040h0M346.680 104.040h0M346.680 104.040h0M347.400 104.040h0M347.400 104.040h0M347.400 104.040h0M348.120 104.040h0M348.120 104.040h0M348.120 104.040h0M348.840 104.040h0M348.840 104.040h0M348.840 104.040h0M349.560 104.040h0M349.560 104.040h0M349.560 104.040h0M350.280 104.040h0M350.280 104.040h0M350.280 104.040h0M351.000 104.040h0M351.000 104.040h0M351.000 104.040h0M351.720 104.040h0M351.720 104.040h0M352.440 104.040h0M352.440 104.040h0M352.440 104.040h0M353.160 104.040h0M353.160 104.040h0M353.160 104.040h0M353.880 104.040h0M353.880 104.040h0M353.880 104.040h0M354.600 104.040h0M354.600 104.040h0M354.600 104.040h0M355.320 104.040h0M355.320 104.040h0M355.320 104.040h0M356.040 104.040h0M356.040 104.040h0M356.040 104.040h0M356.760 104.040h0M356.760 104.040h0M356.760 104.040h0M357.480 104.040h0M357.480 104.040h0M357.480 104.040h0M358.200 104.040h0M358.200 104.040h0M358.200 104.040h0M358.920 104.040h0M358.920 104.040h0M359.640 104.040h0M359.640 104.040h0M359.640 104.040h0M360.360 104.040h0M360.360 104.040h0M360.360 104.040h0M361.080 104.040h0M361.080 104.040h0M361.080 104.040h0M361.800 104.040h0M361.800 104.040h0M361.800 104.040h0M362.520 104.040h0M362.520 104.040h0M362.520 104.040h0M363.240 104.040h0M363.240 104.040h0M363.240 104.040h0M363.960 104.040h0M363.960 104.040h0M363.960 104.040h0M364.680 104.040h0M364.680 104.040h0M364.680 104.040h0M365.400 104.040h0M365.400 104.040h0M365.400 104.040h0M366.120 104.040h0M366.120 104.040h0M366.120 104.040h0M366.840 104.040h0M366.840 104.040h0M367.560 104.040h0M367.560 104.040h0M367.560 104.040h0M368.280 104.040h0M368.280 104.040h0M368.280 104.040h0M369.000 104.040h0M369.000 104.040h0M369.000 104.040h0M369.720 104.040h0M369.720 104.040h0M369.720 104.040h0M370.440 104.040h0M370.440 104.040h0M370.440 104.040h0M371.160 104.040h0M371.160 104.040h0M371.160 104.040h0M371.880 104.040h0M371.880 104.040h0M371.880 104.040h0M372.600 104.040h0M372.600 104.040h0M372.600 104.040h0M373.320 104.040h0M373.320 104.040h0M373.320 104.040h0M374.040 104.040h0M374.040 104.040h0M374.760 104.040h0M374.760 104.040h0M374.760 104.040h0M375.480 104.040h0M375.480 104.040h0M375.480 104.040h0M376.200 104.040h0M376.200 104.040h0M376.200 104.040h0M376.920 104.040h0M376.920 104.040h0M376.920 104.040h0M377.640 104.040h0M377.640 104.040h0M377.640 104.040h0M378.360 104.040h0M378.360 104.040h0M378.360 104.040h0M379.080 104.040h0M379.080 104.040h0M379.080 104.040h0M379.800 104.040h0M379.800 104.040h0M379.800 104.040h0M380.520 104.040h0M380.520 104.040h0M380.520 104.040h0M381.240 104.040h0M381.240 104.040h0M381.960 104.040h0M381.960 104.040h0M381.960 104.040h0M382.680 104.040h0M382.680 104.040h0M382.680 104.040h0M383.400 104.040h0M383.400 104.040h0M383.400 104.040h0M384.120 104.040h0M384.120 104.040h0M384.120 104.040h0M384.840 104.040h0M384.840 104.040h0M384.840 104.040h0M385.560 104.040h0M385.560 104.040h0M385.560 104.040h0M386.280 104.040h0M386.280 104.040h0M386.280 104.040h0M387.000 104.040h0M387.000 104.040h0M387.000 104.040h0M387.720 104.040h0M387.720 104.040h0M387.720 104.040h0M388.440 104.040h0M388.440 104.040h0M388.440 104.040h0M389.160 104.040h0M389.160 104.040h0M389.880 104.040h0M389.880 104.040h0M389.880 104.040h0M390.600 104.040h0M390.600 104.040h0M390.600 104.040h0M391.320 104.040h0M391.320 104.040h0M391.320 104.040h0M392.040 104.040h0M392.040 104.040h0M392.040 104.040h0M392.760 104.040h0M392.760 104.040h0M392.760 104.040h0M393.480 104.040h0M393.480 104.040h0M393.480 104.040h0M394.200 104.040h0M394.200 104.040h0M394.200 104.040h0M394.920 104.040h0M394.920 104.040h0M394.920 104.040h0M395.640 104.040h0M395.640 104.040h0M395.640 104.040h0M396.360 104.040h0M396.360 104.040h0M397.080 104.040h0M397.080 104.040h0M397.080 104.040h0M397.800 104.040h0M397.800 104.040h0M397.800 104.040h0M398.520 104.040h0M398.520 104.040h0M398.520 104.040h0M399.240 104.040h0M399.240 104.040h0M399.240 104.040h0M399.960 104.040h0M399.960 104.040h0M399.960 104.040h0M400.680 104.040h0M400.680 104.040h0M400.680 104.040h0M401.400 104.040h0M401.400 104.040h0M401.400 104.040h0M402.120 104.040h0M402.120 104.040h0M402.120 104.040h0M402.840 104.040h0M402.840 104.040h0M402.840 104.040h0M403.560 104.040h0M403.560 104.040h0M404.280 104.040h0M404.280 104.040h0M404.280 104.040h0M405.000 104.040h0M405.000 104.040h0M405.000 104.040h0M405.720 104.040h0M405.720 104.040h0M405.720 104.040h0M406.440 104.040h0M406.440 104.040h0M406.440 104.040h0M407.160 104.040h0M407.160 104.040h0M407.160 104.040h0M407.880 104.040h0M407.880 104.040h0M407.880 104.040h0M408.600 104.040h0M408.600 104.040h0M408.600 104.040h0M409.320 104.040h0M409.320 104.040h0M409.320 104.040h0M410.040 104.040h0M410.040 104.040h0M410.040 104.040h0M410.760 104.040h0M410.760 104.040h0M410.760 104.040h0M411.480 104.040h0M411.480 104.040h0M412.200 104.040h0M412.200 104.040h0M412.200 104.040h0M412.920 104.040h0M412.920 104.040h0M412.920 104.040h0M413.640 104.040h0M413.640 104.040h0M413.640 104.040h0M414.360 104.040h0M414.360 104.040h0M414.360 104.040h0M415.080 104.040h0" style="fill:none;stroke:#0000ff;stroke-width:3.500;stroke-linecap:round"/></g>
   </g>
   <g id="patch_3">
    <path d="M 57.9600 103.3585 L 57.9600 41.4720" style="fill: none; stroke: #000000; stroke-width: 0.72; stroke-linejoin: miter; stroke-linecap: square"/>
   </g>
   <g id="patch_4">
    <path d="M 415.0800 103.3585 L 415.0800 41.4720" style="fill: none; stroke: #000000; stroke-width: 0.72; stroke-linejoin: miter; stroke-linecap: square"/>
   </g>
   <g id="patch_5">
    <path d="M 57.6000 104.0400 L 414.7200 104.0400" style="fill: none; stroke: #000000; stroke-width: 0.72; stroke-linejoin: miter; stroke-linecap: square"/>
   </g>
   <g id="patch_6">
    <path d="M 57.6000 42.1200 L 414.7200 42.1200" style="fill: none; stroke: #000000; stroke-width: 0.72; stroke-linejoin: miter; stroke-linecap: square"/>
   </g>
   <g id="text_5">
    <!-- 2025-11-21 -->
    <g transform="translate(207.1022 35.2920) scale(0.1 -0.1)">
     <defs>
      <path id="DejaVuSans-2d" d="M 313 2009 
L 1997 2009 
L 1997 1497 
L 313 1497 
L 313 2009 
z
" transform="scale(0.015625)"/>
      <path id="DejaVuSans-31" d="M 794 531 
L 1825 531 
L 1825 4091 
L 703 3866 
L 703 4441 
L 1819 4666 
L 2450 4666 
L 2450 531 
L 3481 531 
L 3481 0 
L 794 0 
L 794 531 
z
" transform="scale(0.015625)"/>
     </defs>
     <use href="#DejaVuSans-32"/>
     <use href="#DejaVuSans-30" transform="translate(63.623047 0)"/>
     <use href="#DejaVuSans-32" transform="translate(127.246094 0)"/>
     <use href="#DejaVuSans-35" transform="translate(190.869141 0)"/>
     <use href="#DejaVuSans-2d" transform="translate(254.492188 0)"/>
     <use href="#DejaVuSans-31" transform="translate(290.576172 0)"/>
     <use href="#DejaVuSans-31" transform="translate(354.199219 0)"/>
     <use href="#DejaVuSans-2d" transform="translate(417.822266 0)"/>
     <use href="#DejaVuSans-32" transform="translate(453.90625 0)"/>
     <use href="#DejaVuSans-31" transform="translate(517.529297 0)"/>
    </g>
   </g>
   <g id="legend_1">
    <g id="patch_7" transform="matrix(1.00243 0 0 1.04462 -0.9957 -3.2312)">
     <path d="M 302.78 88.975568 
L 410.42 88.975568 
Q 412.22 88.975568 412.22 87.175568 
L 412.22 61.654943 
Q 412.22 59.854943 410.42 59.854943 
L 302.78 59.854943 
Q 300.98 59.854943 300.98 61.654943 
L 300.98 87.175568 
Q 300.98 88.975568 302.78 88.975568 
z
" style="fill: #4d4d4d; opacity: 0.5; stroke: #4d4d4d; stroke-linejoin: miter"/>
    </g>
    <g id="patch_8" transform="matrix(1.00243 0 0 1.04462 -0.9957 -3.2312)">
     <path d="M 300.78 86.975568 
L 408.42 86.975568 
Q 410.22 86.975568 410.22 85.175568 
L 410.22 59.654943 
Q 410.22 57.854943 408.42 57.854943 
L 300.78 57.854943 
Q 298.98 57.854943 298.98 59.654943 
L 298.98 85.175568 
Q 298.98 86.975568 300.78 86.975568 
z
" style="fill: #ffffff; stroke: #cccccc; stroke-linejoin: miter"/>
    </g>
    <g id="line2d_21">
     <path d="M 302.58 65.143537 
L 311.58 65.143537 
L 320.58 65.143537 
" style="fill: none; stroke: #ff0000; stroke-width: 2; stroke-linecap: square"/>
    </g>
    <g id="text_6">
     <!-- LibRadtran Model -->
     <g transform="translate(327.3480 67.6815) scale(0.09 -0.09)">
      <defs>
       <path id="DejaVuSans-4c" d="M 628 4666 
L 1259 4666 
L 1259 531 
L 3531 531 
L 3531 0 
L 628 0 
L 628 4666 
z
" transform="scale(0.015625)"/>
       <path id="DejaVuSans-69" d="M 603 3500 
L 1178 3500 
L 1178 0 
L 603 0 
L 603 3500 
z
M 603 4863 
L 1178 4863 
L 1178 4134 
L 603 4134 
L 603 4863 
z
" transform="scale(0.015625)"/>
       <path id="DejaVuSans-62" d="M 3116 1747 
Q 3116 2381 2855 2742 
Q 2594 3103 2138 3103 
Q 1681 3103 1420 2742 
Q 1159 2381 1159 1747 
Q 1159 1113 1420 752 
Q 1681 391 2138 391 
Q 2594 391 2855 752 
Q 3116 1113 3116 1747 
z
M 1159 2969 
Q 1341 3281 1617 3432 
Q 1894 3584 2278 3584 
Q 2916 3584 3314 3078 
Q 3713 2572 3713 1747 
Q 3713 922 3314 415 
Q 2916 -91 2278 -91 
Q 1894 -91 1617 61 
Q 1341 213 1159 525 
L 1159 0 
L 581 0 
L 581 4863 
L 1159 4863 
L 1159 2969 
z
" transform="scale(0.015625)"/>
       <path id="DejaVuSans-52" d="M 2841 2188 
Q 3044 2119 3236 1894 
Q 3428 1669 3622 1275 
L 4263 0 
L 3584 0 
L 2988 1197 
Q 2756 1666 2539 1819 
Q 2322 1972 1947 1972 
L 1259 1972 
L 1259 0 
L 628 0 
L 628 4666 
L 2053 4666 
Q 2853 4666 3247 4331 
Q 3641 3997 3641 3322 
Q 3641 2881 3436 2590 
Q 3231 2300 2841 2188 
z
M 1259 4147 
L 1259 2491 
L 2053 2491 
Q 2509 2491 2742 2702 
Q 2975 2913 2975 3322 
Q 2975 3731 2742 3939 
Q 2509 4147 2053 4147 
L 1259 4147 
z
" transform="scale(0.015625)"/>
       <path id="DejaVuSans-61" d="M 2194 1759 
Q 1497 1759 1228 1600 
Q 959 1441 959 1056 
Q 959 750 1161 570 
Q 1363 391 1709 391 
Q 2188 391 2477 730 
Q 2766 1069 2766 1631 
L 2766 1759 
L 2194 1759 
z
M 3341 1997 
L 3341 0 
L 2766 0 
L 2766 531 
Q 2569 213 2275 61 
Q 1981 -91 1556 -91 
Q 1019 -91 701 211 
Q 384 513 384 1019 
Q 384 1609 779 1909 
Q 1175 2209 1959 2209 
L 2766 2209 
L 2766 2266 
Q 2766 2663 2505 2880 
Q 2244 3097 1772 3097 
Q 1472 3097 1187 3025 
Q 903 2953 641 2809 
L 641 3341 
Q 956 3463 1253 3523 
Q 1550 3584 1831 3584 
Q 2591 3584 2966 3190 
Q 3341 2797 3341 1997 
z
" transform="scale(0.015625)"/>
       <path id="DejaVuSans-64" d="M 2906 2969 
L 2906 4863 
L 3481 4863 
L 3481 0 
L 2906 0 
L 2906 525 
Q 2725 213 2448 61 
Q 2172 -91 1784 -91 
Q 1150 -91 751 415 
Q 353 922 353 1747 
Q 353 2572 751 3078 
Q 1150 3584 1784 3584 
Q 2172 3584 2448 3432 
Q 2725 3281 2906 2969 
z
M 947 1747 
Q 947 1113 1208 752 
Q 1469 391 1925 391 
Q 2381 391 2643 752 
Q 2906 1113 2906 1747 
Q 2906 2381 2643 2742 
Q 2381 3103 1925 3103 
Q 1469 3103 1208 2742 
Q 947 2381 947 1747 
z
" transform="scale(0.015625)"/>
       <path id="DejaVuSans-74" d="M 1172 4494 
L 1172 3500 
L 2356 3500 
L 2356 3053 
L 1172 3053 
L 1172 1153 
Q 1172 725 1289 603 
Q 1406 481 1766 481 
L 2356 481 
L 2356 0 
L 1766 0 
Q 1100 0 847 248 
Q 594 497 594 1153 
L 594 3053 
L 172 3053 
L 172 3500 
L 594 3500 
L 594 4494 
L 1172 4494 
z
" transform="scale(0.015625)"/>
       <path id="DejaVuSans-72" d="M 2631 2963 
Q 2534 3019 2420 3045 
Q 2306 3072 2169 3072 
Q 1681 3072 1420 2755 
Q 1159 2438 1159 1844 
L 1159 0 
L 581 0 
L 581 3500 
L 1159 3500 
L 1159 2956 
Q 1341 3275 1631 3429 
Q 1922 3584 2338 3584 
Q 2397 3584 2469 3576 
Q 2541 3569 2628 3553 
L 2631 2963 
z
" transform="scale(0.015625)"/>
       <path id="DejaVuSans-6e" d="M 3513 2113 
L 3513 0 
L 2938 0 
L 2938 2094 
Q 2938 2591 2744 2837 
Q 2550 3084 2163 3084 
Q 1697 3084 1428 2787 
Q 1159 2491 1159 1978 
L 1159 0 
L 581 0 
L 581 3500 
L 1159 3500 
L 1159 2956 
Q 1366 3272 1645 3428 
Q 1925 3584 2291 3584 
Q 2894 3584 3203 3211 
Q 3513 2838 3513 2113 
z
" transform="scale(0.015625)"/>
       <path id="DejaVuSans-20" transform="scale(0.015625)"/>
       <path id="DejaVuSans-4d" d="M 628 4666 
L 1569 4666 
L 2759 1491 
L 3956 4666 
L 4897 4666 
L 4897 0 
L 4281 0 
L 4281 4097 
L 3078 897 
L 2444 897 
L 1241 4097 
L 1241 0 
L 628 0 
L 628 4666 
z
" transform="scale(0.015625)"/>
       <path id="DejaVuSans-6f" d="M 1959 3097 
Q 1497 3097 1228 2736 
Q 959 2375 959 1747 
Q 959 1119 1226 758 
Q 1494 397 1959 397 
Q 2419 397 2687 759 
Q 2956 1122 2956 1747 
Q 2956 2369 2687 2733 
Q 2419 3097 1959 3097 
z
M 1959 3584 
Q 2709 3584 3137 3096 
Q 3566 2609 3566 1747 
Q 3566 888 3137 398 
Q 2709 -91 1959 -91 
Q 1206 -91 779 398 
Q 353 888 353 1747 
Q 353 2609 779 3096 
Q 1206 3584 1959 3584 
z
" transform="scale(0.015625)"/>
       <path id="DejaVuSans-65" d="M 3597 1894 
L 3597 1613 
L 953 1613 
Q 991 1019 1311 708 
Q 1631 397 2203 397 
Q 2534 397 2845 478 
Q 3156 559 3463 722 
L 3463 178 
Q 3153 47 2828 -22 
Q 2503 -91 2169 -91 
Q 1331 -91 842 396 
Q 353 884 353 1716 
Q 353 2575 817 3079 
Q 1281 3584 2069 3584 
Q 2775 3584 3186 3129 
Q 3597 2675 3597 1894 
z
M 3022 2063 
Q 3016 2534 2758 2815 
Q 2500 3097 2075 3097 
Q 1594 3097 1305 2825 
Q 1016 2553 972 2059 
L 3022 2063 
z
" transform="scale(0.015625)"/>
       <path id="DejaVuSans-6c" d="M 603 4863 
L 1178 4863 
L 1178 0 
L 603 0 
L 603 4863 
z
" transform="scale(0.015625)"/>
      </defs>
      <use href="#DejaVuSans-4c"/>
      <use href="#DejaVuSans-69" transform="translate(56.2700 0)"/>
      <use href="#DejaVuSans-62" transform="translate(84.3311 0)"/>
      <use href="#DejaVuSans-52" transform="translate(148.4424 0)"/>
      <use href="#DejaVuSans-61" transform="translate(216.3471 0)"/>
      <use href="#DejaVuSans-64" transform="translate(278.2392 0)"/>
      <use href="#DejaVuSans-74" transform="translate(342.3505 0)"/>
      <use href="#DejaVuSans-72" transform="translate(381.9516 0)"/>
      <use href="#DejaVuSans-61" transform="translate(423.4760 0)"/>
      <use href="#DejaVuSans-6e" transform="translate(485.3681 0)"/>
      <use href="#DejaVuSans-20" transform="translate(549.3808 0)"/>
      <use href="#DejaVuSans-4d" transform="translate(581.4858 0)"/>
      <use href="#DejaVuSans-6f" transform="translate(668.6279 0)"/>
      <use href="#DejaVuSans-64" transform="translate(730.4213 0)"/>
      <use href="#DejaVuSans-65" transform="translate(794.5327 0)"/>
      <use href="#DejaVuSans-6c" transform="translate(856.6713 0)"/>
     </g>
    </g>
    <g id="line2d_22">
     <g>
      <use href="#m066507d8de" x="311.58" y="78.35385" style="fill: #0000ff; stroke: #0000ff"/>
     </g>
    </g>
    <g id="text_7">
     <!-- BSRN -->
     <g transform="translate(326.9880 82.0438) scale(0.09 -0.09)">
      <defs>
       <path id="DejaVuSans-42" d="M 1259 2228 
L 1259 519 
L 2272 519 
Q 2781 519 3026 730 
Q 3272 941 3272 1375 
Q 3272 1813 3026 2020 
Q 2781 2228 2272 2228 
L 1259 2228 
z
M 1259 4147 
L 1259 2741 
L 2194 2741 
Q 2656 2741 2882 2914 
Q 3109 3088 3109 3444 
Q 3109 3797 2882 3972 
Q 2656 4147 2194 4147 
L 1259 4147 
z
M 628 4666 
L 2241 4666 
Q 2963 4666 3353 4366 
Q 3744 4066 3744 3513 
Q 3744 3084 3544 2831 
Q 3344 2578 2956 2516 
Q 3422 2416 3680 2098 
Q 3938 1781 3938 1306 
Q 3938 681 3513 340 
Q 3088 0 2303 0 
L 628 0 
L 628 4666 
z
" transform="scale(0.015625)"/>
       <path id="DejaVuSans-53" d="M 3425 4513 
L 3425 3897 
Q 3066 4069 2747 4153 
Q 2428 4238 2131 4238 
Q 1616 4238 1336 4038 
Q 1056 3838 1056 3469 
Q 1056 3159 1242 3001 
Q 1428 2844 1947 2747 
L 2328 2669 
Q 3034 2534 3370 2195 
Q 3706 1856 3706 1288 
Q 3706 609 3251 259 
Q 2797 -91 1919 -91 
Q 1588 -91 1214 -16 
Q 841 59 441 206 
L 441 856 
Q 825 641 1194 531 
Q 1563 422 1919 422 
Q 2459 422 2753 634 
Q 3047 847 3047 1241 
Q 3047 1584 2836 1778 
Q 2625 1972 2144 2069 
L 1759 2144 
Q 1053 2284 737 2584 
Q 422 2884 422 3419 
Q 422 4038 858 4394 
Q 1294 4750 2059 4750 
Q 2388 4750 2728 4690 
Q 3069 4631 3425 4513 
z
" transform="scale(0.015625)"/>
       <path id="DejaVuSans-4e" d="M 628 4666 
L 1478 4666 
L 3547 763 
L 3547 4666 
L 4159 4666 
L 4159 0 
L 3309 0 
L 1241 3903 
L 1241 0 
L 628 0 
L 628 4666 
z
" transform="scale(0.015625)"/>
      </defs>
      <use href="#DejaVuSans-42"/>
      <use href="#DejaVuSans-53" transform="translate(66.853516 0)"/>
      <use href="#DejaVuSans-52" transform="translate(130.330078 0)"/>
      <use href="#DejaVuSans-4e" transform="translate(199.8125 0)"/>
     </g>
    </g>
   </g>
  </g>
  <g id="axes_2">
   <g id="patch_9">
    <path d="M 57.6 171.433674 
L 414.72 171.433674 
L 414.72 109.547163 
L 57.6 109.547163 
z
" style="fill: #ffffff"/>
   </g>
   <g id="text_8">
    <!-- Direct Radiation -->
    <g style="fill: #ffa500" transform="translate(69.1200 120.7800) scale(0.1 -0.1)">
     <defs>
      <path id="DejaVuSans-Bold-44" d="M 1791 3756 
L 1791 909 
L 2222 909 
Q 2959 909 3348 1275 
Q 3738 1641 3738 2338 
Q 3738 3031 3350 3393 
Q 2963 3756 2222 3756 
L 1791 3756 
z
M 588 4666 
L 1856 4666 
Q 2919 4666 3439 4514 
Q 3959 4363 4331 4000 
Q 4659 3684 4818 3271 
Q 4978 2859 4978 2338 
Q 4978 1809 4818 1395 
Q 4659 981 4331 666 
Q 3956 303 3431 151 
Q 2906 0 1856 0 
L 588 0 
L 588 4666 
z
" transform="scale(0.015625)"/>
      <path id="DejaVuSans-Bold-72" d="M 3138 2547 
Q 2991 2616 2845 2648 
Q 2700 2681 2553 2681 
Q 2122 2681 1889 2404 
Q 1656 2128 1656 1613 
L 1656 0 
L 538 0 
L 538 3500 
L 1656 3500 
L 1656 2925 
Q 1872 3269 2151 3426 
Q 2431 3584 2822 3584 
Q 2878 3584 2943 3579 
Q 3009 3575 3134 3559 
L 3138 2547 
z
" transform="scale(0.015625)"/>
      <path id="DejaVuSans-Bold-65" d="M 4031 1759 
L 4031 1441 
L 1416 1441 
Q 1456 1047 1700 850 
Q 1944 653 2381 653 
Q 2734 653 3104 758 
Q 3475 863 3866 1075 
L 3866 213 
Q 3469 63 3072 -14 
Q 2675 -91 2278 -91 
Q 1328 -91 801 392 
Q 275 875 275 1747 
Q 275 2603 792 3093 
Q 1309 3584 2216 3584 
Q 3041 3584 3536 3087 
Q 4031 2591 4031 1759 
z
M 2881 2131 
Q 2881 2450 2695 2645 
Q 2509 2841 2209 2841 
Q 1884 2841 1681 2658 
Q 1478 2475 1428 2131 
L 2881 2131 
z
" transform="scale(0.015625)"/>
      <path id="DejaVuSans-Bold-63" d="M 3366 3391 
L 3366 2478 
Q 3138 2634 2908 2709 
Q 2678 2784 2431 2784 
Q 1963 2784 1702 2511 
Q 1441 2238 1441 1747 
Q 1441 1256 1702 982 
Q 1963 709 2431 709 
Q 2694 709 2930 787 
Q 3166 866 3366 1019 
L 3366 103 
Q 3103 6 2833 -42 
Q 2563 -91 2291 -91 
Q 1344 -91 809 395 
Q 275 881 275 1747 
Q 275 2613 809 3098 
Q 1344 3584 2291 3584 
Q 2566 3584 2833 3536 
Q 3100 3488 3366 3391 
z
" transform="scale(0.015625)"/>
     </defs>
     <use href="#DejaVuSans-Bold-44"/>
     <use href="#DejaVuSans-Bold-69" transform="translate(83.007812 0)"/>
     <use href="#DejaVuSans-Bold-72" transform="translate(117.285156 0)"/>
     <use href="#DejaVuSans-Bold-65" transform="translate(166.601562 0)"/>
     <use href="#DejaVuSans-Bold-63" transform="translate(234.423828 0)"/>
     <use href="#DejaVuSans-Bold-74" transform="translate(293.701172 0)"/>
     <use href="#DejaVuSans-Bold-20" transform="translate(341.503906 0)"/>
     <use href="#DejaVuSans-Bold-52" transform="translate(376.318359 0)"/>
     <use href="#DejaVuSans-Bold-61" transform="translate(453.320312 0)"/>
     <use href="#DejaVuSans-Bold-64" transform="translate(520.800781 0)"/>
     <use href="#DejaVuSans-Bold-69" transform="translate(592.382812 0)"/>
     <use href="#DejaVuSans-Bold-61" transform="translate(626.660156 0)"/>
     <use href="#DejaVuSans-Bold-74" transform="translate(694.140625 0)"/>
     <use href="#DejaVuSans-Bold-69" transform="translate(741.943359 0)"/>
     <use href="#DejaVuSans-Bold-6f" transform="translate(776.220703 0)"/>
     <use href="#DejaVuSans-Bold-6e" transform="translate(844.921875 0)"/>
    </g>
   </g>
   <g id="matplotlib.axis_3">
    <g id="xtick_8">
     <g id="line2d_23">
      <path d="M 57.9600 171.4337 L 57.9600 109.5472" clip-path="url(#p28a8ff1680)" style="fill: none; stroke: #b0b0b0; stroke-width: 0.72; stroke-linecap: square"/>
     </g>
     <g id="line2d_24">
      <g>
       <use href="#m7a908d2771" x="57.9600" y="171.7200" style="stroke: #000000; stroke-width: 0.72"/>
      </g>
     </g>
    </g>
    <g id="xtick_9">
     <g id="line2d_25">
      <path d="M 117.7200 171.4337 L 117.7200 109.5472" clip-path="url(#p28a8ff1680)" style="fill: none; stroke: #b0b0b0; stroke-width: 0.72; stroke-linecap: square"/>
     </g>
     <g id="line2d_26">
      <g>
       <use href="#m7a908d2771" x="117.7200" y="171.7200" style="stroke: #000000; stroke-width: 0.72"/>
      </g>
     </g>
    </g>
    <g id="xtick_10">
     <g id="line2d_27">
      <path d="M 176.7600 171.4337 L 176.7600 109.5472" clip-path="url(#p28a8ff1680)" style="fill: none; stroke: #b0b0b0; stroke-width: 0.72; stroke-linecap: square"/>
     </g>
     <g id="line2d_28">
      <g>
       <use href="#m7a908d2771" x="176.7600" y="171.7200" style="stroke: #000000; stroke-width: 0.72"/>
      </g>
     </g>
    </g>
    <g id="xtick_11">
     <g id="line2d_29">
      <path d="M 236.5200 171.4337 L 236.5200 109.5472" clip-path="url(#p28a8ff1680)" style="fill: none; stroke: #b0b0b0; stroke-width: 0.72; stroke-linecap: square"/>
     </g>
     <g id="line2d_30">
      <g>
       <use href="#m7a908d2771" x="236.5200" y="171.7200" style="stroke: #000000; stroke-width: 0.72"/>
      </g>
     </g>
    </g>
    <g id="xtick_12">
     <g id="line2d_31">
      <path d="M 296.2800 171.4337 L 296.2800 109.5472" clip-path="url(#p28a8ff1680)" style="fill: none; stroke: #b0b0b0; stroke-width: 0.72; stroke-linecap: square"/>
     </g>
     <g id="line2d_32">
      <g>
       <use href="#m7a908d2771" x="296.2800" y="171.7200" style="stroke: #000000; stroke-width: 0.72"/>
      </g>
     </g>
    </g>
    <g id="xtick_13">
     <g id="line2d_33">
      <path d="M 355.3200 171.4337 L 355.3200 109.5472" clip-path="url(#p28a8ff1680)" style="fill: none; stroke: #b0b0b0; stroke-width: 0.72; stroke-linecap: square"/>
     </g>
     <g id="line2d_34">
      <g>
       <use href="#m7a908d2771" x="355.3200" y="171.7200" style="stroke: #000000; stroke-width: 0.72"/>
      </g>
     </g>
    </g>
    <g id="xtick_14">
     <g id="line2d_35">
      <path d="M 415.0800 171.4337 L 415.0800 109.5472" clip-path="url(#p28a8ff1680)" style="fill: none; stroke: #b0b0b0; stroke-width: 0.72; stroke-linecap: square"/>
     </g>
     <g id="line2d_36">
      <g>
       <use href="#m7a908d2771" x="415.0800" y="171.7200" style="stroke: #000000; stroke-width: 0.72"/>
      </g>
     </g>
    </g>
   </g>
   <g id="matplotlib.axis_4">
    <g id="ytick_3">
     <g id="line2d_37">
      <path d="M 57.6000 171.7200 L 414.7200 171.7200" clip-path="url(#p28a8ff1680)" style="fill: none; stroke: #b0b0b0; stroke-width: 0.72; stroke-linecap: square"/>
     </g>
     <g id="line2d_38">
      <g>
       <use href="#m9e7ff585a2" x="57.9600" y="171.7200" style="stroke: #000000; stroke-width: 0.72"/>
      </g>
     </g>
     <g id="text_9">
      <!-- 0 -->
      <g transform="translate(44.5975 175.7729) scale(0.1 -0.1)">
       <use href="#DejaVuSans-30"/>
      </g>
     </g>
    </g>
    <g id="ytick_4">
     <g id="line2d_39">
      <path d="M 57.6000 145.8000 L 414.7200 145.8000" clip-path="url(#p28a8ff1680)" style="fill: none; stroke: #b0b0b0; stroke-width: 0.72; stroke-linecap: square"/>
     </g>
     <g id="line2d_40">
      <g>
       <use href="#m9e7ff585a2" x="57.9600" y="145.8000" style="stroke: #000000; stroke-width: 0.72"/>
      </g>
     </g>
     <g id="text_10">
      <!-- 500 -->
      <g transform="translate(30.7925 149.8138) scale(0.1 -0.1)">
       <use href="#DejaVuSans-35"/>
       <use href="#DejaVuSans-30" transform="translate(63.623047 0)"/>
       <use href="#DejaVuSans-30" transform="translate(127.246094 0)"/>
      </g>
     </g>
    </g>
    <g id="ytick_5">
     <g id="line2d_41">
      <path d="M 57.6000 119.8800 L 414.7200 119.8800" clip-path="url(#p28a8ff1680)" style="fill: none; stroke: #b0b0b0; stroke-width: 0.72; stroke-linecap: square"/>
     </g>
     <g id="line2d_42">
      <g>
       <use href="#m9e7ff585a2" x="57.9600" y="119.8800" style="stroke: #000000; stroke-width: 0.72"/>
      </g>
     </g>
     <g id="text_11">
      <!-- 1000 -->
      <g transform="translate(25.1500 123.1347) scale(0.1 -0.1)">
       <use href="#DejaVuSans-31"/>
       <use href="#DejaVuSans-30" transform="translate(63.623047 0)"/>
       <use href="#DejaVuSans-30" transform="translate(127.246094 0)"/>
       <use href="#DejaVuSans-30" transform="translate(190.869141 0)"/>
      </g>
     </g>
    </g>
    <g id="text_12">
     <!-- [W/m$^2$] -->
     <g transform="translate(17.4503 158.7004) rotate(-90) scale(0.1 -0.1)">
      <use href="#DejaVuSans-5b" transform="translate(0 0.765625)"/>
      <use href="#DejaVuSans-57" transform="translate(39.013672 0.765625)"/>
      <use href="#DejaVuSans-2f" transform="translate(137.890625 0.765625)"/>
      <use href="#DejaVuSans-6d" transform="translate(171.582031 0.765625)"/>
      <use href="#DejaVuSans-32" transform="translate(269.951172 39.046875) scale(0.7)"/>
      <use href="#DejaVuSans-5d" transform="translate(317.22168 0.765625)"/>
     </g>
    </g>
   </g>
   <g id="line2d_43">
    <path d="M 170.936 156.387563 
L 172.672 149.832484 
L 173.912 145.908223 
L 175.152 142.624139 
L 176.64 139.369459 
L 178.128 136.6919 
L 179.616 134.452194 
L 181.352 132.259793 
L 183.088 130.414156 
L 185.072 128.629388 
L 187.304 126.938909 
L 189.784 125.361633 
L 192.512 123.906313 
L 195.488 122.575103 
L 198.96 121.281675 
L 202.68 120.135107 
L 206.896 119.066895 
L 211.608 118.099474 
L 217.064 117.21293 
L 223.016 116.472251 
L 229.712 115.866874 
L 236.904 115.440719 
L 244.592 115.20897 
L 252.528 115.194534 
L 260.216 115.397254 
L 267.656 115.810754 
L 274.6 116.416895 
L 280.8 117.173894 
L 286.504 118.094469 
L 291.464 119.117585 
L 295.928 120.267849 
L 299.648 121.442176 
L 303.12 122.769278 
L 306.096 124.138114 
L 308.824 125.638363 
L 311.304 127.269161 
L 313.536 129.022945 
L 315.52 130.881568 
L 317.256 132.811437 
L 318.744 134.758401 
L 320.232 137.055224 
L 321.72 139.80765 
L 322.96 142.553106 
L 324.2 145.823097 
L 325.44 149.730869 
L 326.928 155.284658 
L 327.176 156.269616 
L 327.176 156.269616 
" clip-path="url(#p28a8ff1680)" style="fill: none; stroke: #ff0000; stroke-width: 2; stroke-linecap: square"/>
   </g>
   <g id="line2d_44">
    <g clip-path="url(#p28a8ff1680)">
     <path d="M57.960 171.720h0M57.960 171.720h0M58.680 171.720h0M58.680 171.720h0M58.680 171.720h0M59.400 171.720h0M59.400 171.720h0M59.400 171.720h0M60.120 171.720h0M60.120 171.720h0M60.120 171.720h0M60.840 171.720h0M60.840 171.720h0M60.840 171.720h0M61.560 171.720h0M61.560 171.720h0M62.280 171.720h0M62.280 171.720h0M62.280 171.720h0M63.000 171.720h0M63.000 171.720h0M63.000 171.720h0M63.720 171.720h0M63.720 171.720h0M63.720 171.720h0M64.440 171.720h0M64.440 171.720h0M64.440 171.720h0M65.160 171.720h0M65.160 171.720h0M65.160 171.720h0M65.880 171.720h0M65.880 171.720h0M65.880 171.720h0M66.600 171.720h0M66.600 171.720h0M66.600 171.720h0M67.320 171.720h0M67.320 171.720h0M67.320 171.720h0M68.040 171.720h0M68.040 171.720h0M68.040 171.720h0M68.760 171.720h0M68.760 171.720h0M69.480 171.720h0M69.480 171.720h0M69.480 171.720h0M70.200 171.720h0M70.200 171.720h0M70.200 171.720h0M70.920 171.720h0M70.920 171.720h0M70.920 171.720h0M71.640 171.720h0M71.640 171.720h0M71.640 171.720h0M72.360 171.720h0M72.360 171.720h0M72.360 171.720h0M73.080 171.720h0M73.080 171.720h0M73.080 171.720h0M73.800 171.720h0M73.800 171.720h0M73.800 171.720h0M74.520 171.720h0M74.520 171.720h0M74.520 171.720h0M75.240 171.720h0M75.240 171.720h0M75.240 171.720h0M75.960 171.720h0M75.960 171.720h0M75.960 171.720h0M76.680 171.720h0M76.680 171.720h0M77.400 171.720h0M77.400 171.720h0M77.400 171.720h0M78.120 171.720h0M78.120 171.720h0M78.120 171.720h0M78.840 171.720h0M78.840 171.720h0M78.840 171.720h0M79.560 171.720h0M79.560 171.720h0M79.560 171.720h0M80.280 171.720h0M80.280 171.720h0M80.280 171.720h0M81.000 171.720h0M81.000 171.720h0M81.000 171.720h0M81.720 171.720h0M81.720 171.720h0M81.720 171.720h0M82.440 171.720h0M82.440 171.720h0M82.440 171.720h0M83.160 171.720h0M83.160 171.720h0M83.160 171.720h0M83.880 171.720h0M83.880 171.720h0M84.600 171.720h0M84.600 171.720h0M84.600 171.720h0M85.320 171.720h0M85.320 171.720h0M85.320 171.720h0M86.040 171.720h0M86.040 171.720h0M86.040 171.720h0M86.760 171.720h0M86.760 171.720h0M86.760 171.720h0M87.480 171.720h0M87.480 171.720h0M87.480 171.720h0M88.200 171.720h0M88.200 171.720h0M88.200 171.720h0M88.920 171.720h0M88.920 171.720h0M88.920 171.720h0M89.640 171.720h0M89.640 171.720h0M89.640 171.720h0M90.360 171.720h0M90.360 171.720h0M90.360 171.720h0M91.080 171.720h0M91.080 171.720h0M91.800 171.720h0M91.800 171.720h0M91.800 171.720h0M92.520 171.720h0M92.520 171.720h0M92.520 171.720h0M93.240 171.720h0M93.240 171.720h0M93.240 171.720h0M93.960 171.720h0M93.960 171.720h0M93.960 171.720h0M94.680 171.720h0M94.680 171.720h0M94.680 171.720h0M95.400 171.720h0M95.400 171.720h0M95.400 171.720h0M96.120 171.720h0M96.120 171.720h0M96.120 171.720h0M96.840 171.720h0M96.840 171.720h0M96.840 171.720h0M97.560 171.720h0M97.560 171.720h0M97.560 171.720h0M98.280 171.720h0M98.280 171.720h0M98.280 171.720h0M99.000 171.720h0M99.000 171.720h0M99.720 171.720h0M99.720 171.720h0M99.720 171.720h0M100.440 171.720h0M100.440 171.720h0M100.440 171.720h0M101.160 171.720h0M101.160 171.720h0M101.160 171.720h0M101.880 171.720h0M101.880 171.720h0M101.880 171.720h0M102.600 171.720h0M102.600 171.720h0M102.600 171.720h0M103.320 171.720h0M103.320 171.720h0M103.320 171.720h0M104.040 171.720h0M104.040 171.720h0M104.040 171.720h0M104.760 171.720h0M104.760 171.720h0M104.760 171.720h0M105.480 171.720h0M105.480 171.720h0M105.480 171.720h0M106.200 171.720h0M106.200 171.720h0M106.920 171.720h0M106.920 171.720h0M106.920 171.720h0M107.640 171.720h0M107.640 171.720h0M107.640 171.720h0M108.360 171.720h0M108.360 171.720h0M108.360 171.720h0M109.080 171.720h0M109.080 171.720h0M109.080 171.720h0M109.800 171.720h0M109.800 171.720h0M109.800 171.720h0M110.520 171.720h0M110.520 171.720h0M110.520 171.720h0M111.240 171.720h0M111.240 171.720h0M111.240 171.720h0M111.960 171.720h0M111.960 171.720h0M111.960 171.720h0M112.680 171.720h0M112.680 171.720h0M112.680 171.720h0M113.400 171.720h0M113.400 171.720h0M114.120 171.720h0M114.120 171.720h0M114.120 171.720h0M114.840 171.720h0M114.840 171.720h0M114.840 171.720h0M115.560 171.720h0M115.560 171.720h0M115.560 171.720h0M116.280 171.720h0M116.280 171.720h0M116.280 171.720h0M117.000 171.720h0M117.000 171.720h0M117.000 171.720h0M117.720 171.720h0M117.720 171.720h0M117.720 171.720h0M118.440 171.720h0M118.440 171.720h0M118.440 171.720h0M119.160 171.720h0M119.160 171.720h0M119.160 171.720h0M119.880 171.720h0M119.880 171.720h0M119.880 171.720h0M120.600 171.720h0M120.600 171.720h0M120.600 171.720h0M121.320 171.720h0M121.320 171.720h0M122.040 171.720h0M122.040 171.720h0M122.040 171.720h0M122.760 171.720h0M122.760 171.720h0M122.760 171.720h0M123.480 171.720h0M123.480 171.720h0M123.480 171.720h0M124.200 171.720h0M124.200 171.720h0M124.200 171.720h0M124.920 171.720h0M124.920 171.720h0M124.920 171.720h0M125.640 171.720h0M125.640 171.720h0M125.640 171.720h0M126.360 171.720h0M126.360 171.720h0M126.360 171.720h0M127.080 171.720h0M127.080 171.720h0M127.080 171.720h0M127.800 171.720h0M127.800 171.720h0M127.800 171.720h0M128.520 171.720h0M128.520 171.720h0M129.240 171.720h0M129.240 171.720h0M129.240 171.720h0M129.960 171.720h0M129.960 171.720h0M129.960 171.720h0M130.680 171.720h0M130.680 171.720h0M130.680 171.720h0M131.400 171.720h0M131.400 171.720h0M131.400 171.720h0M132.120 171.720h0M132.120 171.720h0M132.120 171.720h0M132.840 171.720h0M132.840 171.720h0M132.840 171.720h0M133.560 171.720h0M133.560 171.720h0M133.560 171.720h0M134.280 171.720h0M134.280 171.720h0M134.280 171.720h0M135.000 171.720h0M135.000 171.720h0M135.000 171.720h0M135.720 171.720h0M135.720 171.720h0M136.440 171.720h0M136.440 171.720h0M136.440 171.720h0M137.160 171.720h0M137.160 171.720h0M137.160 171.720h0M137.880 171.720h0M137.880 171.720h0M137.880 171.720h0M138.600 171.720h0M138.600 171.720h0M138.600 171.720h0M139.320 171.720h0M139.320 171.720h0M139.320 171.720h0M140.040 171.720h0M140.040 171.720h0M140.040 171.720h0M140.760 171.720h0M140.760 171.720h0M140.760 171.720h0M141.480 171.720h0M141.480 171.720h0M141.480 171.720h0M142.200 171.720h0M142.200 171.720h0M142.200 171.720h0M142.920 171.720h0M142.920 171.720h0M142.920 171.720h0M143.640 171.720h0M143.640 171.720h0M144.360 171.720h0M144.360 171.720h0M144.360 171.720h0M145.080 171.720h0M145.080 171.720h0M145.080 171.720h0M145.800 171.720h0M145.800 171.720h0M145.800 171.720h0M146.520 171.720h0M146.520 171.720h0M146.520 171.720h0M147.240 171.720h0M147.240 171.720h0M147.240 171.720h0M147.960 171.720h0M147.960 171.720h0M147.960 171.720h0M148.680 171.720h0M148.680 171.720h0M148.680 171.720h0M149.400 171.720h0M149.400 171.720h0M149.400 171.720h0M150.120 171.720h0M150.120 171.720h0M150.120 171.720h0M150.840 171.720h0M150.840 171.720h0M151.560 171.720h0M151.560 171.720h0M151.560 171.720h0M152.280 171.720h0M152.280 171.720h0M152.280 171.720h0M153.000 171.720h0M153.000 171.720h0M153.000 171.720h0M153.720 171.720h0M153.720 171.720h0M153.720 171.720h0M154.440 171.720h0M154.440 171.720h0M154.440 171.720h0M155.160 171.720h0M155.160 171.720h0M155.160 171.720h0M155.880 171.720h0M155.880 171.720h0M155.880 171.720h0M156.600 171.720h0M156.600 171.720h0M156.600 171.720h0M157.320 171.720h0M157.320 171.720h0M157.320 171.720h0M158.040 171.720h0M158.040 171.720h0M158.040 171.720h0M158.760 171.720h0M158.760 171.720h0M159.480 171.720h0M159.480 171.720h0M159.480 171.720h0M160.200 171.720h0M160.200 171.720h0M160.200 171.720h0M160.920 171.720h0M160.920 171.720h0M160.920 171.720h0M161.640 171.720h0M161.640 171.720h0M161.640 171.720h0M162.360 171.720h0M162.360 171.720h0M162.360 171.720h0M163.080 171.720h0M163.080 171.720h0M163.080 171.720h0M163.800 171.720h0M163.800 171.720h0M163.800 171.720h0M164.520 171.720h0M164.520 171.720h0M164.520 171.720h0M165.240 171.720h0M165.240 171.720h0M165.240 171.720h0M165.960 171.720h0M165.960 171.720h0M166.680 171.720h0M166.680 171.720h0M166.680 171.720h0M167.400 171.720h0M167.400 171.720h0M167.400 171.720h0M168.120 171.720h0M168.120 171.720h0M168.120 171.720h0M168.840 171.720h0M168.840 171.720h0M168.840 171.720h0M169.560 171.720h0M169.560 171.720h0M169.560 171.720h0M170.280 171.720h0M170.280 171.720h0M170.280 171.720h0M171.000 171.720h0M171.000 171.720h0M171.000 171.720h0M171.720 171.720h0M171.720 171.720h0M171.720 171.720h0M172.440 171.720h0M172.440 170.280h0M172.440 171.720h0M173.160 171.720h0M173.160 171.720h0M173.880 171.720h0M173.880 171.720h0M173.880 167.400h0M174.600 171.720h0M174.600 171.720h0M174.600 171.720h0M175.320 171.720h0M175.320 164.520h0M175.320 163.080h0M176.040 171.720h0M176.040 166.680h0M176.040 160.920h0M176.760 160.200h0M176.760 171.720h0M176.760 158.040h0M177.480 171.720h0M177.480 171.720h0M177.480 157.320h0M178.200 171.720h0M178.200 159.480h0M178.200 171.720h0M178.920 155.880h0M178.920 158.760h0M178.920 166.680h0M179.640 155.880h0M179.640 157.320h0M179.640 170.280h0M180.360 171.720h0M180.360 171.720h0M181.080 171.720h0M181.080 171.720h0M181.080 171.720h0M181.800 171.720h0M181.800 171.720h0M181.800 171.720h0M182.520 171.720h0M182.520 171.720h0M182.520 171.720h0M183.240 171.720h0M183.240 171.720h0M183.240 171.720h0M183.960 171.720h0M183.960 171.720h0M183.960 171.720h0M184.680 171.720h0M184.680 171.720h0M184.680 171.720h0M185.400 171.720h0M185.400 171.720h0M185.400 171.720h0M186.120 171.720h0M186.120 171.720h0M186.120 171.720h0M186.840 171.720h0M186.840 171.720h0M186.840 171.720h0M187.560 171.720h0M187.560 171.720h0M187.560 171.720h0M188.280 171.720h0M188.280 171.720h0M189.000 171.720h0M189.000 171.720h0M189.000 171.720h0M189.720 171.720h0M189.720 171.720h0M189.720 171.720h0M190.440 171.720h0M190.440 171.720h0M190.440 171.720h0M191.160 171.720h0M191.160 171.720h0M191.160 171.720h0M191.880 171.720h0M191.880 171.720h0M191.880 171.720h0M192.600 171.720h0M192.600 171.720h0M192.600 171.720h0M193.320 171.720h0M193.320 171.720h0M193.320 171.720h0M194.040 171.720h0M194.040 171.720h0M194.040 171.720h0M194.760 171.720h0M194.760 171.720h0M194.760 171.720h0M195.480 171.720h0M195.480 171.720h0M196.200 171.720h0M196.200 171.720h0M196.200 171.720h0M196.920 171.720h0M196.920 171.720h0M196.920 171.720h0M197.640 171.720h0M197.640 171.720h0M197.640 171.720h0M198.360 166.680h0M198.360 168.120h0M198.360 171.720h0M199.080 171.720h0M199.080 171.720h0M199.080 171.720h0M199.800 171.720h0M199.800 171.720h0M199.800 171.720h0M200.520 171.720h0M200.520 171.720h0M200.520 171.720h0M201.240 171.720h0M201.240 171.720h0M201.240 171.720h0M201.960 171.720h0M201.960 171.720h0M201.960 171.720h0M202.680 171.720h0M202.680 171.720h0M203.400 171.720h0M203.400 171.720h0M203.400 171.720h0M204.120 171.720h0M204.120 171.720h0M204.120 171.720h0M204.840 171.720h0M204.840 171.720h0M204.840 171.720h0M205.560 171.720h0M205.560 171.720h0M205.560 171.720h0M206.280 171.720h0M206.280 171.720h0M206.280 171.720h0M207.000 171.720h0M207.000 171.720h0M207.000 171.720h0M207.720 171.720h0M207.720 171.720h0M207.720 171.720h0M208.440 171.720h0M208.440 171.720h0M208.440 171.720h0M209.160 171.720h0M209.160 171.720h0M209.160 171.720h0M209.880 171.720h0M209.880 171.720h0M209.880 171.720h0M210.600 171.720h0M210.600 171.720h0M211.320 171.720h0M211.320 171.720h0M211.320 171.720h0M212.040 171.720h0M212.040 171.720h0M212.040 171.720h0M212.760 171.720h0M212.760 171.720h0M212.760 171.720h0M213.480 171.720h0M213.480 171.720h0M213.480 171.720h0M214.200 171.720h0M214.200 171.720h0M214.200 171.720h0M214.920 171.720h0M214.920 171.720h0M214.920 171.720h0M215.640 171.720h0M215.640 171.720h0M215.640 171.720h0M216.360 171.720h0M216.360 171.720h0M216.360 171.720h0M217.080 171.720h0M217.080 171.720h0M217.080 171.720h0M217.800 171.720h0M217.800 171.720h0M218.520 171.720h0M218.520 171.720h0M218.520 171.720h0M219.240 171.720h0M219.240 171.720h0M219.240 171.720h0M219.960 171.720h0M219.960 171.720h0M219.960 171.720h0M220.680 171.720h0M220.680 171.720h0M220.680 171.720h0M221.400 171.720h0M221.400 171.720h0M221.400 171.720h0M222.120 171.720h0M222.120 171.720h0M222.120 171.720h0M222.840 171.720h0M222.840 171.720h0M222.840 171.720h0M223.560 171.720h0M223.560 171.720h0M223.560 171.720h0M224.280 171.720h0M224.280 171.720h0M224.280 171.720h0M225.000 171.720h0M225.000 171.720h0M225.720 171.720h0M225.720 171.720h0M225.720 171.720h0M226.440 171.720h0M226.440 171.720h0M226.440 171.720h0M227.160 171.720h0M227.160 171.720h0M227.160 171.720h0M227.880 171.720h0M227.880 171.720h0M227.880 171.720h0M228.600 171.720h0M228.600 171.720h0M228.600 171.720h0M229.320 171.720h0M229.320 171.720h0M229.320 171.720h0M230.040 171.720h0M230.040 171.720h0M230.040 171.720h0M230.760 171.720h0M230.760 171.720h0M230.760 171.720h0M231.480 171.720h0M231.480 171.720h0M231.480 171.720h0M232.200 171.720h0M232.200 171.720h0M232.200 171.720h0M232.920 171.720h0M232.920 171.720h0M233.640 171.720h0M233.640 171.720h0M233.640 171.720h0M234.360 171.720h0M234.360 171.720h0M234.360 171.720h0M235.080 171.720h0M235.080 171.720h0M235.080 171.720h0M235.800 171.720h0M235.800 171.720h0M235.800 171.720h0M236.520 171.720h0M236.520 171.720h0M236.520 171.720h0M237.240 171.720h0M237.240 171.720h0M237.240 171.720h0M237.960 171.720h0M237.960 171.720h0M237.960 171.720h0M238.680 171.720h0M238.680 171.720h0M238.680 171.720h0M239.400 171.720h0M239.400 171.720h0M239.400 171.720h0M240.120 171.720h0M240.120 171.720h0M240.840 171.720h0M240.840 171.720h0M240.840 171.720h0M241.560 171.720h0M241.560 171.720h0M241.560 171.720h0M242.280 171.720h0M242.280 171.720h0M242.280 171.720h0M243.000 171.720h0M243.000 171.720h0M243.000 171.720h0M243.720 171.720h0M243.720 171.720h0M243.720 171.720h0M244.440 171.720h0M244.440 171.720h0M244.440 171.720h0M245.160 171.720h0M245.160 171.720h0M245.160 171.720h0M245.880 171.720h0M245.880 171.720h0M245.880 171.720h0M246.600 171.720h0M246.600 171.720h0M246.600 171.720h0M247.320 171.720h0M247.320 171.720h0M248.040 171.720h0M248.040 171.720h0M248.040 171.720h0M248.760 171.720h0M248.760 171.720h0M248.760 171.720h0M249.480 171.720h0M249.480 171.720h0M249.480 171.720h0M250.200 171.720h0M250.200 171.720h0M250.200 171.720h0M250.920 171.720h0M250.920 171.720h0M250.920 171.720h0M251.640 171.720h0M251.640 171.720h0M251.640 171.720h0M252.360 171.720h0M252.360 171.720h0M252.360 171.720h0M253.080 171.720h0M253.080 171.720h0M253.080 171.720h0M253.800 171.720h0M253.800 171.720h0M253.800 171.720h0M254.520 171.720h0M254.520 171.720h0M254.520 171.720h0M255.240 171.720h0M255.240 171.720h0M255.960 171.720h0M255.960 171.720h0M255.960 171.720h0M256.680 171.720h0M256.680 171.720h0M256.680 171.720h0M257.400 171.720h0M257.400 171.720h0M257.400 171.720h0M258.120 171.720h0M258.120 171.720h0M258.120 171.720h0M258.840 171.720h0M258.840 171.720h0M258.840 171.720h0M259.560 171.720h0M259.560 171.720h0M259.560 171.720h0M260.280 171.720h0M260.280 171.720h0M260.280 171.720h0M261.000 171.720h0M261.000 171.720h0M261.000 171.720h0M261.720 171.720h0M261.720 171.720h0M261.720 171.720h0M262.440 171.720h0M262.440 171.720h0M263.160 171.720h0M263.160 171.720h0M263.160 171.720h0M263.880 171.720h0M263.880 171.720h0M263.880 171.720h0M264.600 171.720h0M264.600 171.720h0M264.600 171.720h0M265.320 171.720h0M265.320 171.720h0M265.320 171.720h0M266.040 171.720h0M266.040 171.720h0M266.040 171.720h0M266.760 171.720h0M266.760 171.720h0M266.760 171.720h0M267.480 171.720h0M267.480 171.720h0M267.480 171.720h0M268.200 171.720h0M268.200 171.720h0M268.200 171.720h0M268.920 171.720h0M268.920 171.720h0M268.920 171.720h0M269.640 171.720h0M269.640 171.720h0M269.640 171.720h0M270.360 171.720h0M270.360 171.720h0M271.080 171.720h0M271.080 171.720h0M271.080 171.720h0M271.800 171.720h0M271.800 171.720h0M271.800 171.720h0M272.520 171.720h0M272.520 171.720h0M272.520 171.720h0M273.240 171.720h0M273.240 171.720h0M273.240 171.720h0M273.960 171.720h0M273.960 171.720h0M273.960 171.720h0M274.680 171.720h0M274.680 171.720h0M274.680 171.720h0M275.400 171.720h0M275.400 171.720h0M275.400 171.720h0M276.120 171.720h0M276.120 171.720h0M276.120 171.720h0M276.840 171.720h0M276.840 171.720h0M276.840 171.720h0M277.560 171.720h0M277.560 171.720h0M278.280 171.720h0M278.280 171.720h0M278.280 171.720h0M279.000 171.720h0M279.000 171.720h0M279.000 171.720h0M279.720 171.720h0M279.720 171.720h0M279.720 171.720h0M280.440 171.720h0M280.440 171.720h0M280.440 171.720h0M281.160 171.720h0M281.160 171.720h0M281.160 171.720h0M281.880 171.720h0M281.880 171.720h0M281.880 171.720h0M282.600 171.720h0M282.600 171.720h0M282.600 171.720h0M283.320 171.720h0M283.320 171.720h0M283.320 171.720h0M284.040 171.720h0M284.040 171.720h0M284.040 171.720h0M284.760 171.720h0M284.760 171.720h0M285.480 171.720h0M285.480 171.720h0M285.480 171.720h0M286.200 171.720h0M286.200 171.720h0M286.200 171.720h0M286.920 171.720h0M286.920 171.720h0M286.920 171.720h0M287.640 171.720h0M287.640 171.720h0M287.640 171.720h0M288.360 171.720h0M288.360 171.720h0M288.360 171.720h0M289.080 171.720h0M289.080 171.720h0M289.080 171.720h0M289.800 171.720h0M289.800 171.720h0M289.800 171.720h0M290.520 171.720h0M290.520 171.720h0M290.520 171.720h0M291.240 171.720h0M291.240 171.720h0M291.240 171.720h0M291.960 171.720h0M291.960 171.720h0M291.960 171.720h0M292.680 171.720h0M292.680 171.720h0M293.400 171.720h0M293.400 171.720h0M293.400 171.720h0M294.120 171.720h0M294.120 171.720h0M294.120 171.720h0M294.840 171.720h0M294.840 171.720h0M294.840 171.720h0M295.560 171.720h0M295.560 171.720h0M295.560 171.720h0M296.280 171.720h0M296.280 171.720h0M296.280 171.720h0M297.000 171.720h0M297.000 171.720h0M297.000 171.720h0M297.720 171.720h0M297.720 171.720h0M297.720 171.720h0M298.440 171.720h0M298.440 171.720h0M298.440 171.720h0M299.160 171.720h0M299.160 171.720h0M299.160 171.720h0M299.880 171.720h0M299.880 171.720h0M300.600 171.720h0M300.600 171.720h0M300.600 171.720h0M301.320 171.720h0M301.320 171.720h0M301.320 171.720h0M302.040 171.720h0M302.040 171.720h0M302.040 171.720h0M302.760 171.720h0M302.760 171.720h0M302.760 171.720h0M303.480 171.720h0M303.480 171.720h0M303.480 171.720h0M304.200 171.720h0M304.200 171.720h0M304.200 171.720h0M304.920 171.720h0M304.920 171.720h0M304.920 171.720h0M305.640 171.720h0M305.640 171.720h0M305.640 171.720h0M306.360 171.720h0M306.360 171.720h0M306.360 171.720h0M307.080 171.720h0M307.080 171.720h0M307.800 171.720h0M307.800 171.720h0M307.800 171.720h0M308.520 171.720h0M308.520 171.720h0M308.520 171.720h0M309.240 171.720h0M309.240 171.720h0M309.240 171.720h0M309.960 171.720h0M309.960 171.720h0M309.960 171.720h0M310.680 171.720h0M310.680 171.720h0M310.680 171.720h0M311.400 171.720h0M311.400 171.720h0M311.400 171.720h0M312.120 171.720h0M312.120 171.720h0M312.120 171.720h0M312.840 171.720h0M312.840 171.720h0M312.840 171.720h0M313.560 171.720h0M313.560 171.720h0M313.560 171.720h0M314.280 171.720h0M314.280 171.720h0M314.280 171.720h0M315.000 171.720h0M315.000 171.720h0M315.720 171.720h0M315.720 171.720h0M315.720 171.720h0M316.440 171.720h0M316.440 171.720h0M316.440 171.720h0M317.160 171.720h0M317.160 171.720h0M317.160 171.720h0M317.880 171.720h0M317.880 171.720h0M317.880 171.720h0M318.600 171.720h0M318.600 171.720h0M318.600 171.720h0M319.320 171.720h0M319.320 171.720h0M319.320 171.720h0M320.040 171.720h0M320.040 171.720h0M320.040 171.720h0M320.760 171.720h0M320.760 171.720h0M320.760 171.720h0M321.480 171.720h0M321.480 171.720h0M321.480 171.720h0M322.200 171.720h0M322.200 171.720h0M322.920 171.720h0M322.920 171.720h0M322.920 171.720h0M323.640 171.720h0M323.640 171.720h0M323.640 171.720h0M324.360 171.720h0M324.360 171.720h0M324.360 171.720h0M325.080 171.720h0M325.080 171.720h0M325.080 171.720h0M325.800 171.720h0M325.800 171.720h0M325.800 171.720h0M326.520 171.720h0M326.520 171.720h0M326.520 171.720h0M327.240 171.720h0M327.240 171.720h0M327.240 171.720h0M327.960 171.720h0M327.960 171.720h0M327.960 171.720h0M328.680 171.720h0M328.680 171.720h0M328.680 171.720h0M329.400 171.720h0M329.400 171.720h0M330.120 171.720h0M330.120 171.720h0M330.120 171.720h0M330.840 171.720h0M330.840 171.720h0M330.840 171.720h0M331.560 171.720h0M331.560 171.720h0M331.560 171.720h0M332.280 171.720h0M332.280 171.720h0M332.280 171.720h0M333.000 171.720h0M333.000 171.720h0M333.000 171.720h0M333.720 171.720h0M333.720 171.720h0M333.720 171.720h0M334.440 171.720h0M334.440 171.720h0M334.440 171.720h0M335.160 171.720h0M335.160 171.720h0M335.160 171.720h0M335.880 171.720h0M335.880 171.720h0M335.880 171.720h0M336.600 171.720h0M336.600 171.720h0M337.320 171.720h0M337.320 171.720h0M337.320 171.720h0M338.040 171.720h0M338.040 171.720h0M338.040 171.720h0M338.760 171.720h0M338.760 171.720h0M338.760 171.720h0M339.480 171.720h0M339.480 171.720h0M339.480 171.720h0M340.200 171.720h0M340.200 171.720h0M340.200 171.720h0M340.920 171.720h0M340.920 171.720h0M340.920 171.720h0M341.640 171.720h0M341.640 171.720h0M341.640 171.720h0M342.360 171.720h0M342.360 171.720h0M342.360 171.720h0M343.080 171.720h0M343.080 171.720h0M343.080 171.720h0M343.800 171.720h0M343.800 171.720h0M343.800 171.720h0M344.520 171.720h0M344.520 171.720h0M345.240 171.720h0M345.240 171.720h0M345.240 171.720h0M345.960 171.720h0M345.960 171.720h0M345.960 171.720h0M346.680 171.720h0M346.680 171.720h0M346.680 171.720h0M347.400 171.720h0M347.400 171.720h0M347.400 171.720h0M348.120 171.720h0M348.120 171.720h0M348.120 171.720h0M348.840 171.720h0M348.840 171.720h0M348.840 171.720h0M349.560 171.720h0M349.560 171.720h0M349.560 171.720h0M350.280 171.720h0M350.280 171.720h0M350.280 171.720h0M351.000 171.720h0M351.000 171.720h0M351.000 171.720h0M351.720 171.720h0M351.720 171.720h0M352.440 171.720h0M352.440 171.720h0M352.440 171.720h0M353.160 171.720h0M353.160 171.720h0M353.160 171.720h0M353.880 171.720h0M353.880 171.720h0M353.880 171.720h0M354.600 171.720h0M354.600 171.720h0M354.600 171.720h0M355.320 171.720h0M355.320 171.720h0M355.320 171.720h0M356.040 171.720h0M356.040 171.720h0M356.040 171.720h0M356.760 171.720h0M356.760 171.720h0M356.760 171.720h0M357.480 171.720h0M357.480 171.720h0M357.480 171.720h0M358.200 171.720h0M358.200 171.720h0M358.200 171.720h0M358.920 171.720h0M358.920 171.720h0M359.640 171.720h0M359.640 171.720h0M359.640 171.720h0M360.360 171.720h0M360.360 171.720h0M360.360 171.720h0M361.080 171.720h0M361.080 171.720h0M361.080 171.720h0M361.800 171.720h0M361.800 171.720h0M361.800 171.720h0M362.520 171.720h0M362.520 171.720h0M362.520 171.720h0M363.240 171.720h0M363.240 171.720h0M363.240 171.720h0M363.960 171.720h0M363.960 171.720h0M363.960 171.720h0M364.680 171.720h0M364.680 171.720h0M364.680 171.720h0M365.400 171.720h0M365.400 171.720h0M365.400 171.720h0M366.120 171.720h0M366.120 171.720h0M366.120 171.720h0M366.840 171.720h0M366.840 171.720h0M367.560 171.720h0M367.560 171.720h0M367.560 171.720h0M368.280 171.720h0M368.280 171.720h0M368.280 171.720h0M369.000 171.720h0M369.000 171.720h0M369.000 171.720h0M369.720 171.720h0M369.720 171.720h0M369.720 171.720h0M370.440 171.720h0M370.440 171.720h0M370.440 171.720h0M371.160 171.720h0M371.160 171.720h0M371.160 171.720h0M371.880 171.720h0M371.880 171.720h0M371.880 171.720h0M372.600 171.720h0M372.600 171.720h0M372.600 171.720h0M373.320 171.720h0M373.320 171.720h0M373.320 171.720h0M374.040 171.720h0M374.040 171.720h0M374.760 171.720h0M374.760 171.720h0M374.760 171.720h0M375.480 171.720h0M375.480 171.720h0M375.480 171.720h0M376.200 171.720h0M376.200 171.720h0M376.200 171.720h0M376.920 171.720h0M376.920 171.720h0M376.920 171.720h0M377.640 171.720h0M377.640 171.720h0M377.640 171.720h0M378.360 171.720h0M378.360 171.720h0M378.360 171.720h0M379.080 171.720h0M379.080 171.720h0M379.080 171.720h0M379.800 171.720h0M379.800 171.720h0M379.800 171.720h0M380.520 171.720h0M380.520 171.720h0M380.520 171.720h0M381.240 171.720h0M381.240 171.720h0M381.960 171.720h0M381.960 171.720h0M381.960 171.720h0M382.680 171.720h0M382.680 171.720h0M382.680 171.720h0M383.400 171.720h0M383.400 171.720h0M383.400 171.720h0M384.120 171.720h0M384.120 171.720h0M384.120 171.720h0M384.840 171.720h0M384.840 171.720h0M384.840 171.720h0M385.560 171.720h0M385.560 171.720h0M385.560 171.720h0M386.280 171.720h0M386.280 171.720h0M386.280 171.720h0M387.000 171.720h0M387.000 171.720h0M387.000 171.720h0M387.720 171.720h0M387.720 171.720h0M387.720 171.720h0M388.440 171.720h0M388.440 171.720h0M388.440 171.720h0M389.160 171.720h0M389.160 171.720h0M389.880 171.720h0M389.880 171.720h0M389.880 171.720h0M390.600 171.720h0M390.600 171.720h0M390.600 171.720h0M391.320 171.720h0M391.320 171.720h0M391.320 171.720h0M392.040 171.720h0M392.040 171.720h0M392.040 171.720h0M392.760 171.720h0M392.760 171.720h0M392.760 171.720h0M393.480 171.720h0M393.480 171.720h0M393.480 171.720h0M394.200 171.720h0M394.200 171.720h0M394.200 171.720h0M394.920 171.720h0M394.920 171.720h0M394.920 171.720h0M395.640 171.720h0M395.640 171.720h0M395.640 171.720h0M396.360 171.720h0M396.360 171.720h0M397.080 171.720h0M397.080 171.720h0M397.080 171.720h0M397.800 171.720h0M397.800 171.720h0M397.800 171.720h0M398.520 171.720h0M398.520 171.720h0M398.520 171.720h0M399.240 171.720h0M399.240 171.720h0M399.240 171.720h0M399.960 171.720h0M399.960 171.720h0M399.960 171.720h0M400.680 171.720h0M400.680 171.720h0M400.680 171.720h0M401.400 171.720h0M401.400 171.720h0M401.400 171.720h0M402.120 171.720h0M402.120 171.720h0M402.120 171.720h0M402.840 171.720h0M402.840 171.720h0M402.840 171.720h0M403.560 171.720h0M403.560 171.720h0M404.280 171.720h0M404.280 171.720h0M404.280 171.720h0M405.000 171.720h0M405.000 171.720h0M405.000 171.720h0M405.720 171.720h0M405.720 171.720h0M405.720 171.720h0M406.440 171.720h0M406.440 171.720h0M406.440 171.720h0M407.160 171.720h0M407.160 171.720h0M407.160 171.720h0M407.880 171.720h0M407.880 171.720h0M407.880 171.720h0M408.600 171.720h0M408.600 171.720h0M408.600 171.720h0M409.320 171.720h0M409.320 171.720h0M409.320 171.720h0M410.040 171.720h0M410.040 171.720h0M410.040 171.720h0M410.760 171.720h0M410.760 171.720h0M410.760 171.720h0M411.480 171.720h0M411.480 171.720h0M412.200 171.720h0M412.200 171.720h0M412.200 171.720h0M412.920 171.720h0M412.920 171.720h0M412.920 171.720h0M413.640 171.720h0M413.640 171.720h0M413.640 171.720h0M414.360 171.720h0M414.360 171.720h0M414.360 171.720h0M415.080 171.720h0" style="fill:none;stroke:#0000ff;stroke-width:3.500;stroke-linecap:round"/></g>
   </g>
   <g id="patch_10">
    <path d="M 57.9600 171.4337 L 57.9600 109.5472" style="fill: none; stroke: #000000; stroke-width: 0.72; stroke-linejoin: miter; stroke-linecap: square"/>
   </g>
   <g id="patch_11">
    <path d="M 415.0800 171.4337 L 415.0800 109.5472" style="fill: none; stroke: #000000; stroke-width: 0.72; stroke-linejoin: miter; stroke-linecap: square"/>
   </g>
   <g id="patch_12">
    <path d="M 57.6000 171.7200 L 414.7200 171.7200" style="fill: none; stroke: #000000; stroke-width: 0.72; stroke-linejoin: miter; stroke-linecap: square"/>
   </g>
   <g id="patch_13">
    <path d="M 57.6000 109.8000 L 414.7200 109.8000" style="fill: none; stroke: #000000; stroke-width: 0.72; stroke-linejoin: miter; stroke-linecap: square"/>
   </g>
  </g>
  <g id="axes_3">
   <g id="patch_14">
    <path d="M 57.6 239.508837 
L 414.72 239.508837 
L 414.72 177.622326 
L 57.6 177.622326 
z
" style="fill: #ffffff"/>
   </g>
   <g id="text_13">
    <!-- Diffuse Radiation -->
    <g style="fill: #ffa500" transform="translate(68.9400 189.9000) scale(0.1 -0.1)">
     <defs>
      <path id="DejaVuSans-Bold-66" d="M 2841 4863 
L 2841 4128 
L 2222 4128 
Q 1984 4128 1890 4042 
Q 1797 3956 1797 3744 
L 1797 3500 
L 2753 3500 
L 2753 2700 
L 1797 2700 
L 1797 0 
L 678 0 
L 678 2700 
L 122 2700 
L 122 3500 
L 678 3500 
L 678 3744 
Q 678 4316 997 4589 
Q 1316 4863 1984 4863 
L 2841 4863 
z
" transform="scale(0.015625)"/>
      <path id="DejaVuSans-Bold-75" d="M 500 1363 
L 500 3500 
L 1625 3500 
L 1625 3150 
Q 1625 2866 1622 2436 
Q 1619 2006 1619 1863 
Q 1619 1441 1641 1255 
Q 1663 1069 1716 984 
Q 1784 875 1895 815 
Q 2006 756 2150 756 
Q 2500 756 2700 1025 
Q 2900 1294 2900 1772 
L 2900 3500 
L 4019 3500 
L 4019 0 
L 2900 0 
L 2900 506 
Q 2647 200 2364 54 
Q 2081 -91 1741 -91 
Q 1134 -91 817 281 
Q 500 653 500 1363 
z
" transform="scale(0.015625)"/>
      <path id="DejaVuSans-Bold-73" d="M 3272 3391 
L 3272 2541 
Q 2913 2691 2578 2766 
Q 2244 2841 1947 2841 
Q 1628 2841 1473 2761 
Q 1319 2681 1319 2516 
Q 1319 2381 1436 2309 
Q 1553 2238 1856 2203 
L 2053 2175 
Q 2913 2066 3209 1816 
Q 3506 1566 3506 1031 
Q 3506 472 3093 190 
Q 2681 -91 1863 -91 
Q 1516 -91 1145 -36 
Q 775 19 384 128 
L 384 978 
Q 719 816 1070 734 
Q 1422 653 1784 653 
Q 2113 653 2278 743 
Q 2444 834 2444 1013 
Q 2444 1163 2330 1236 
Q 2216 1309 1875 1350 
L 1678 1375 
Q 931 1469 631 1722 
Q 331 1975 331 2491 
Q 331 3047 712 3315 
Q 1094 3584 1881 3584 
Q 2191 3584 2531 3537 
Q 2872 3491 3272 3391 
z
" transform="scale(0.015625)"/>
     </defs>
     <use href="#DejaVuSans-Bold-44"/>
     <use href="#DejaVuSans-Bold-69" transform="translate(83.007812 0)"/>
     <use href="#DejaVuSans-Bold-66" transform="translate(117.285156 0)"/>
     <use href="#DejaVuSans-Bold-66" transform="translate(160.791016 0)"/>
     <use href="#DejaVuSans-Bold-75" transform="translate(204.296875 0)"/>
     <use href="#DejaVuSans-Bold-73" transform="translate(275.488281 0)"/>
     <use href="#DejaVuSans-Bold-65" transform="translate(335.009766 0)"/>
     <use href="#DejaVuSans-Bold-20" transform="translate(402.832031 0)"/>
     <use href="#DejaVuSans-Bold-52" transform="translate(437.646484 0)"/>
     <use href="#DejaVuSans-Bold-61" transform="translate(514.648438 0)"/>
     <use href="#DejaVuSans-Bold-64" transform="translate(582.128906 0)"/>
     <use href="#DejaVuSans-Bold-69" transform="translate(653.710938 0)"/>
     <use href="#DejaVuSans-Bold-61" transform="translate(687.988281 0)"/>
     <use href="#DejaVuSans-Bold-74" transform="translate(755.46875 0)"/>
     <use href="#DejaVuSans-Bold-69" transform="translate(803.271484 0)"/>
     <use href="#DejaVuSans-Bold-6f" transform="translate(837.548828 0)"/>
     <use href="#DejaVuSans-Bold-6e" transform="translate(906.25 0)"/>
    </g>
   </g>
   <g id="matplotlib.axis_5">
    <g id="xtick_15">
     <g id="line2d_45">
      <path d="M 57.9600 239.5088 L 57.9600 177.6223" clip-path="url(#p414f6a44b0)" style="fill: none; stroke: #b0b0b0; stroke-width: 0.72; stroke-linecap: square"/>
     </g>
     <g id="line2d_46">
      <g>
       <use href="#m7a908d2771" x="57.9600" y="240.1200" style="stroke: #000000; stroke-width: 0.72"/>
      </g>
     </g>
    </g>
    <g id="xtick_16">
     <g id="line2d_47">
      <path d="M 117.7200 239.5088 L 117.7200 177.6223" clip-path="url(#p414f6a44b0)" style="fill: none; stroke: #b0b0b0; stroke-width: 0.72; stroke-linecap: square"/>
     </g>
     <g id="line2d_48">
      <g>
       <use href="#m7a908d2771" x="117.7200" y="240.1200" style="stroke: #000000; stroke-width: 0.72"/>
      </g>
     </g>
    </g>
    <g id="xtick_17">
     <g id="line2d_49">
      <path d="M 176.7600 239.5088 L 176.7600 177.6223" clip-path="url(#p414f6a44b0)" style="fill: none; stroke: #b0b0b0; stroke-width: 0.72; stroke-linecap: square"/>
     </g>
     <g id="line2d_50">
      <g>
       <use href="#m7a908d2771" x="176.7600" y="240.1200" style="stroke: #000000; stroke-width: 0.72"/>
      </g>
     </g>
    </g>
    <g id="xtick_18">
     <g id="line2d_51">
      <path d="M 236.5200 239.5088 L 236.5200 177.6223" clip-path="url(#p414f6a44b0)" style="fill: none; stroke: #b0b0b0; stroke-width: 0.72; stroke-linecap: square"/>
     </g>
     <g id="line2d_52">
      <g>
       <use href="#m7a908d2771" x="236.5200" y="240.1200" style="stroke: #000000; stroke-width: 0.72"/>
      </g>
     </g>
    </g>
    <g id="xtick_19">
     <g id="line2d_53">
      <path d="M 296.2800 239.5088 L 296.2800 177.6223" clip-path="url(#p414f6a44b0)" style="fill: none; stroke: #b0b0b0; stroke-width: 0.72; stroke-linecap: square"/>
     </g>
     <g id="line2d_54">
      <g>
       <use href="#m7a908d2771" x="296.2800" y="240.1200" style="stroke: #000000; stroke-width: 0.72"/>
      </g>
     </g>
    </g>
    <g id="xtick_20">
     <g id="line2d_55">
      <path d="M 355.3200 239.5088 L 355.3200 177.6223" clip-path="url(#p414f6a44b0)" style="fill: none; stroke: #b0b0b0; stroke-width: 0.72; stroke-linecap: square"/>
     </g>
     <g id="line2d_56">
      <g>
       <use href="#m7a908d2771" x="355.3200" y="240.1200" style="stroke: #000000; stroke-width: 0.72"/>
      </g>
     </g>
    </g>
    <g id="xtick_21">
     <g id="line2d_57">
      <path d="M 415.0800 239.5088 L 415.0800 177.6223" clip-path="url(#p414f6a44b0)" style="fill: none; stroke: #b0b0b0; stroke-width: 0.72; stroke-linecap: square"/>
     </g>
     <g id="line2d_58">
      <g>
       <use href="#m7a908d2771" x="415.0800" y="240.1200" style="stroke: #000000; stroke-width: 0.72"/>
      </g>
     </g>
    </g>
   </g>
   <g id="matplotlib.axis_6">
    <g id="ytick_6">
     <g id="line2d_59">
      <path d="M 57.6000 240.1200 L 414.7200 240.1200" clip-path="url(#p414f6a44b0)" style="fill: none; stroke: #b0b0b0; stroke-width: 0.72; stroke-linecap: square"/>
     </g>
     <g id="line2d_60">
      <g>
       <use href="#m9e7ff585a2" x="57.9600" y="240.1200" style="stroke: #000000; stroke-width: 0.72"/>
      </g>
     </g>
     <g id="text_14">
      <!-- 0 -->
      <g transform="translate(44.5975 243.3081) scale(0.1 -0.1)">
       <use href="#DejaVuSans-30"/>
      </g>
     </g>
    </g>
    <g id="ytick_7">
     <g id="line2d_61">
      <path d="M 57.6000 219.2400 L 414.7200 219.2400" clip-path="url(#p414f6a44b0)" style="fill: none; stroke: #b0b0b0; stroke-width: 0.72; stroke-linecap: square"/>
     </g>
     <g id="line2d_62">
      <g>
       <use href="#m9e7ff585a2" x="57.9600" y="219.2400" style="stroke: #000000; stroke-width: 0.72"/>
      </g>
     </g>
     <g id="text_15">
      <!-- 200 -->
      <g transform="translate(31.5125 223.2192) scale(0.1 -0.1)">
       <use href="#DejaVuSans-32"/>
       <use href="#DejaVuSans-30" transform="translate(63.623047 0)"/>
       <use href="#DejaVuSans-30" transform="translate(127.246094 0)"/>
      </g>
     </g>
    </g>
    <g id="ytick_8">
     <g id="line2d_63">
      <path d="M 57.6000 198.3600 L 414.7200 198.3600" clip-path="url(#p414f6a44b0)" style="fill: none; stroke: #b0b0b0; stroke-width: 0.72; stroke-linecap: square"/>
     </g>
     <g id="line2d_64">
      <g>
       <use href="#m9e7ff585a2" x="57.9600" y="198.3600" style="stroke: #000000; stroke-width: 0.72"/>
      </g>
     </g>
     <g id="text_16">
      <!-- 400 -->
      <g transform="translate(31.5125 202.4104) scale(0.1 -0.1)">
       <defs>
        <path id="DejaVuSans-34" d="M 2419 4116 
L 825 1625 
L 2419 1625 
L 2419 4116 
z
M 2253 4666 
L 3047 4666 
L 3047 1625 
L 3713 1625 
L 3713 1100 
L 3047 1100 
L 3047 0 
L 2419 0 
L 2419 1100 
L 313 1100 
L 313 1709 
L 2253 4666 
z
" transform="scale(0.015625)"/>
       </defs>
       <use href="#DejaVuSans-34"/>
       <use href="#DejaVuSans-30" transform="translate(63.623047 0)"/>
       <use href="#DejaVuSans-30" transform="translate(127.246094 0)"/>
      </g>
     </g>
    </g>
    <g id="ytick_9">
     <g id="line2d_65">
      <path d="M 57.6000 178.2000 L 414.7200 178.2000" clip-path="url(#p414f6a44b0)" style="fill: none; stroke: #b0b0b0; stroke-width: 0.72; stroke-linecap: square"/>
     </g>
     <g id="line2d_66">
      <g>
       <use href="#m9e7ff585a2" x="57.9600" y="178.2000" style="stroke: #000000; stroke-width: 0.72"/>
      </g>
     </g>
     <g id="text_17">
      <!-- 600 -->
      <g transform="translate(31.6925 181.4215) scale(0.1 -0.1)">
       <defs>
        <path id="DejaVuSans-36" d="M 2113 2584 
Q 1688 2584 1439 2293 
Q 1191 2003 1191 1497 
Q 1191 994 1439 701 
Q 1688 409 2113 409 
Q 2538 409 2786 701 
Q 3034 994 3034 1497 
Q 3034 2003 2786 2293 
Q 2538 2584 2113 2584 
z
M 3366 4563 
L 3366 3988 
Q 3128 4100 2886 4159 
Q 2644 4219 2406 4219 
Q 1781 4219 1451 3797 
Q 1122 3375 1075 2522 
Q 1259 2794 1537 2939 
Q 1816 3084 2150 3084 
Q 2853 3084 3261 2657 
Q 3669 2231 3669 1497 
Q 3669 778 3244 343 
Q 2819 -91 2113 -91 
Q 1303 -91 875 529 
Q 447 1150 447 2328 
Q 447 3434 972 4092 
Q 1497 4750 2381 4750 
Q 2619 4750 2861 4703 
Q 3103 4656 3366 4563 
z
" transform="scale(0.015625)"/>
       </defs>
       <use href="#DejaVuSans-36"/>
       <use href="#DejaVuSans-30" transform="translate(63.623047 0)"/>
       <use href="#DejaVuSans-30" transform="translate(127.246094 0)"/>
      </g>
     </g>
    </g>
    <g id="text_18">
     <!-- [W/m$^2$] -->
     <g transform="translate(23.0928 227.1356) rotate(-90) scale(0.1 -0.1)">
      <use href="#DejaVuSans-5b" transform="translate(0 0.765625)"/>
      <use href="#DejaVuSans-57" transform="translate(39.013672 0.765625)"/>
      <use href="#DejaVuSans-2f" transform="translate(137.890625 0.765625)"/>
      <use href="#DejaVuSans-6d" transform="translate(171.582031 0.765625)"/>
      <use href="#DejaVuSans-32" transform="translate(269.951172 39.046875) scale(0.7)"/>
      <use href="#DejaVuSans-5d" transform="translate(317.22168 0.765625)"/>
     </g>
    </g>
   </g>
   <g id="line2d_67">
    <path d="M 170.936 239.283496 
L 171.432 238.902875 
L 172.672 238.41352 
L 174.904 237.852438 
L 178.376 237.233253 
L 183.584 236.53994 
L 191.024 235.788139 
L 200.448 235.066215 
L 211.856 234.422711 
L 224.504 233.937405 
L 237.896 233.649413 
L 251.536 233.578879 
L 265.176 233.729775 
L 278.568 234.100751 
L 290.968 234.660904 
L 302.128 235.380599 
L 311.304 236.185508 
L 318 236.975775 
L 322.464 237.696558 
L 325.192 238.330033 
L 326.68 238.887057 
L 327.176 239.24635 
L 327.176 239.24635 
" clip-path="url(#p414f6a44b0)" style="fill: none; stroke: #ff0000; stroke-width: 2; stroke-linecap: square"/>
   </g>
   <g id="line2d_68">
    <g clip-path="url(#p414f6a44b0)">
     <path d="M57.960 240.120h0M57.960 240.120h0M58.680 240.120h0M58.680 240.120h0M58.680 240.120h0M59.400 240.120h0M59.400 240.120h0M59.400 240.120h0M60.120 240.120h0M60.120 240.120h0M60.120 240.120h0M60.840 240.120h0M60.840 239.400h0M60.840 239.400h0M61.560 239.400h0M61.560 240.120h0M62.280 240.120h0M62.280 240.120h0M62.280 240.120h0M63.000 240.120h0M63.000 240.120h0M63.000 240.120h0M63.720 240.120h0M63.720 240.120h0M63.720 240.120h0M64.440 240.120h0M64.440 240.120h0M64.440 240.120h0M65.160 240.120h0M65.160 240.120h0M65.160 240.120h0M65.880 240.120h0M65.880 240.120h0M65.880 240.120h0M66.600 240.120h0M66.600 240.120h0M66.600 239.400h0M67.320 239.400h0M67.320 239.400h0M67.320 240.120h0M68.040 240.120h0M68.040 240.120h0M68.040 240.120h0M68.760 240.120h0M68.760 240.120h0M69.480 240.120h0M69.480 240.120h0M69.480 240.120h0M70.200 240.120h0M70.200 240.120h0M70.200 240.120h0M70.920 240.120h0M70.920 240.120h0M70.920 240.120h0M71.640 240.120h0M71.640 240.120h0M71.640 240.120h0M72.360 240.120h0M72.360 240.120h0M72.360 240.120h0M73.080 240.120h0M73.080 240.120h0M73.080 240.120h0M73.800 240.120h0M73.800 240.120h0M73.800 240.120h0M74.520 240.120h0M74.520 240.120h0M74.520 240.120h0M75.240 240.120h0M75.240 240.120h0M75.240 240.120h0M75.960 240.120h0M75.960 240.120h0M75.960 240.120h0M76.680 240.120h0M76.680 240.120h0M77.400 240.120h0M77.400 240.120h0M77.400 240.120h0M78.120 240.120h0M78.120 240.120h0M78.120 240.120h0M78.840 240.120h0M78.840 240.120h0M78.840 240.120h0M79.560 240.120h0M79.560 240.120h0M79.560 240.120h0M80.280 240.120h0M80.280 240.120h0M80.280 240.120h0M81.000 240.120h0M81.000 240.120h0M81.000 240.120h0M81.720 240.120h0M81.720 240.120h0M81.720 240.120h0M82.440 240.120h0M82.440 240.120h0M82.440 240.120h0M83.160 240.120h0M83.160 240.120h0M83.160 240.120h0M83.880 240.120h0M83.880 240.120h0M84.600 240.120h0M84.600 240.120h0M84.600 240.120h0M85.320 240.120h0M85.320 240.120h0M85.320 240.120h0M86.040 240.120h0M86.040 240.120h0M86.040 240.120h0M86.760 240.120h0M86.760 240.120h0M86.760 240.120h0M87.480 240.120h0M87.480 240.120h0M87.480 240.120h0M88.200 240.120h0M88.200 240.120h0M88.200 240.120h0M88.920 240.120h0M88.920 240.120h0M88.920 240.120h0M89.640 240.120h0M89.640 240.120h0M89.640 240.120h0M90.360 240.120h0M90.360 240.120h0M90.360 240.120h0M91.080 240.120h0M91.080 240.120h0M91.800 240.120h0M91.800 240.120h0M91.800 240.120h0M92.520 240.120h0M92.520 240.120h0M92.520 240.120h0M93.240 240.120h0M93.240 240.120h0M93.240 240.120h0M93.960 240.120h0M93.960 240.120h0M93.960 240.120h0M94.680 240.120h0M94.680 240.120h0M94.680 240.120h0M95.400 240.120h0M95.400 240.120h0M95.400 240.120h0M96.120 240.120h0M96.120 240.120h0M96.120 240.120h0M96.840 240.120h0M96.840 240.120h0M96.840 240.120h0M97.560 240.120h0M97.560 240.120h0M97.560 240.120h0M98.280 240.120h0M98.280 240.120h0M98.280 240.120h0M99.000 240.120h0M99.000 240.120h0M99.720 240.120h0M99.720 240.120h0M99.720 240.120h0M100.440 240.120h0M100.440 240.120h0M100.440 240.120h0M101.160 240.120h0M101.160 240.120h0M101.160 240.120h0M101.880 240.120h0M101.880 240.120h0M101.880 240.120h0M102.600 240.120h0M102.600 240.120h0M102.600 240.120h0M103.320 240.120h0M103.320 240.120h0M103.320 240.120h0M104.040 240.120h0M104.040 240.120h0M104.040 240.120h0M104.760 240.120h0M104.760 240.120h0M104.760 240.120h0M105.480 240.120h0M105.480 240.120h0M105.480 240.120h0M106.200 240.120h0M106.200 240.120h0M106.920 240.120h0M106.920 240.120h0M106.920 240.120h0M107.640 240.120h0M107.640 240.120h0M107.640 240.120h0M108.360 240.120h0M108.360 240.120h0M108.360 240.120h0M109.080 240.120h0M109.080 240.120h0M109.080 240.120h0M109.800 240.120h0M109.800 240.120h0M109.800 239.400h0M110.520 239.400h0M110.520 239.400h0M110.520 240.120h0M111.240 240.120h0M111.240 240.120h0M111.240 240.120h0M111.960 240.120h0M111.960 240.120h0M111.960 240.120h0M112.680 240.120h0M112.680 240.120h0M112.680 240.120h0M113.400 240.120h0M113.400 240.120h0M114.120 240.120h0M114.120 240.120h0M114.120 240.120h0M114.840 240.120h0M114.840 240.120h0M114.840 240.120h0M115.560 240.120h0M115.560 240.120h0M115.560 240.120h0M116.280 240.120h0M116.280 240.120h0M116.280 240.120h0M117.000 240.120h0M117.000 240.120h0M117.000 240.120h0M117.720 240.120h0M117.720 240.120h0M117.720 240.120h0M118.440 240.120h0M118.440 240.120h0M118.440 240.120h0M119.160 240.120h0M119.160 240.120h0M119.160 240.120h0M119.880 240.120h0M119.880 240.120h0M119.880 240.120h0M120.600 240.120h0M120.600 240.120h0M120.600 240.120h0M121.320 240.120h0M121.320 240.120h0M122.040 240.120h0M122.040 240.120h0M122.040 240.120h0M122.760 240.120h0M122.760 240.120h0M122.760 240.120h0M123.480 240.120h0M123.480 240.120h0M123.480 240.120h0M124.200 240.120h0M124.200 240.120h0M124.200 240.120h0M124.920 240.120h0M124.920 240.120h0M124.920 240.120h0M125.640 240.120h0M125.640 240.120h0M125.640 240.120h0M126.360 240.120h0M126.360 240.120h0M126.360 240.120h0M127.080 240.120h0M127.080 240.120h0M127.080 240.120h0M127.800 240.120h0M127.800 240.120h0M127.800 240.120h0M128.520 240.120h0M128.520 240.120h0M129.240 240.120h0M129.240 240.120h0M129.240 240.120h0M129.960 240.120h0M129.960 240.120h0M129.960 240.120h0M130.680 240.120h0M130.680 240.120h0M130.680 240.120h0M131.400 240.120h0M131.400 240.120h0M131.400 240.120h0M132.120 240.120h0M132.120 240.120h0M132.120 240.120h0M132.840 240.120h0M132.840 240.120h0M132.840 240.120h0M133.560 240.120h0M133.560 240.120h0M133.560 240.120h0M134.280 240.120h0M134.280 240.120h0M134.280 240.120h0M135.000 240.120h0M135.000 240.120h0M135.000 240.120h0M135.720 240.120h0M135.720 240.120h0M136.440 240.120h0M136.440 240.120h0M136.440 240.120h0M137.160 240.120h0M137.160 240.120h0M137.160 240.120h0M137.880 240.120h0M137.880 240.120h0M137.880 240.120h0M138.600 240.120h0M138.600 240.120h0M138.600 240.120h0M139.320 240.120h0M139.320 240.120h0M139.320 240.120h0M140.040 240.120h0M140.040 240.120h0M140.040 240.120h0M140.760 240.120h0M140.760 240.120h0M140.760 240.120h0M141.480 240.120h0M141.480 240.120h0M141.480 240.120h0M142.200 240.120h0M142.200 240.120h0M142.200 240.120h0M142.920 240.120h0M142.920 240.120h0M142.920 240.120h0M143.640 240.120h0M143.640 240.120h0M144.360 240.120h0M144.360 240.120h0M144.360 240.120h0M145.080 240.120h0M145.080 240.120h0M145.080 240.120h0M145.800 240.120h0M145.800 240.120h0M145.800 240.120h0M146.520 240.120h0M146.520 240.120h0M146.520 240.120h0M147.240 240.120h0M147.240 240.120h0M147.240 240.120h0M147.960 240.120h0M147.960 240.120h0M147.960 240.120h0M148.680 240.120h0M148.680 240.120h0M148.680 240.120h0M149.400 240.120h0M149.400 240.120h0M149.400 240.120h0M150.120 240.120h0M150.120 240.120h0M150.120 240.120h0M150.840 240.120h0M150.840 240.120h0M151.560 240.120h0M151.560 240.120h0M151.560 240.120h0M152.280 240.120h0M152.280 240.120h0M152.280 240.120h0M153.000 240.120h0M153.000 240.120h0M153.000 240.120h0M153.720 240.120h0M153.720 240.120h0M153.720 240.120h0M154.440 240.120h0M154.440 240.120h0M154.440 239.400h0M155.160 239.400h0M155.160 239.400h0M155.160 240.120h0M155.880 240.120h0M155.880 240.120h0M155.880 240.120h0M156.600 240.120h0M156.600 240.120h0M156.600 240.120h0M157.320 240.120h0M157.320 240.120h0M157.320 240.120h0M158.040 240.120h0M158.040 240.120h0M158.040 240.120h0M158.760 240.120h0M158.760 240.120h0M159.480 240.120h0M159.480 240.120h0M159.480 240.120h0M160.200 240.120h0M160.200 240.120h0M160.200 240.120h0M160.920 240.120h0M160.920 240.120h0M160.920 240.120h0M161.640 240.120h0M161.640 240.120h0M161.640 240.120h0M162.360 240.120h0M162.360 240.120h0M162.360 240.120h0M163.080 240.120h0M163.080 240.120h0M163.080 240.120h0M163.800 240.120h0M163.800 240.120h0M163.800 240.120h0M164.520 240.120h0M164.520 240.120h0M164.520 240.120h0M165.240 239.400h0M165.240 239.400h0M165.240 239.400h0M165.960 240.120h0M165.960 240.120h0M166.680 240.120h0M166.680 240.120h0M166.680 240.120h0M167.400 240.120h0M167.400 240.120h0M167.400 240.120h0M168.120 240.120h0M168.120 240.120h0M168.120 240.120h0M168.840 240.120h0M168.840 240.120h0M168.840 240.120h0M169.560 240.120h0M169.560 240.120h0M169.560 240.120h0M170.280 240.120h0M170.280 237.960h0M170.280 238.680h0M171.000 237.240h0M171.000 237.960h0M171.000 237.960h0M171.720 237.240h0M171.720 237.240h0M171.720 236.520h0M172.440 238.680h0M172.440 237.240h0M172.440 237.240h0M173.160 235.800h0M173.160 237.240h0M173.880 238.680h0M173.880 236.520h0M173.880 237.240h0M174.600 231.480h0M174.600 237.960h0M174.600 233.640h0M175.320 234.360h0M175.320 235.080h0M175.320 237.240h0M176.040 233.640h0M176.040 236.520h0M176.040 236.520h0M176.760 235.800h0M176.760 235.800h0M176.760 235.800h0M177.480 236.520h0M177.480 235.800h0M177.480 237.240h0M178.200 235.080h0M178.200 236.520h0M178.200 234.360h0M178.920 236.520h0M178.920 235.080h0M178.920 233.640h0M179.640 231.480h0M179.640 235.800h0M179.640 235.080h0M180.360 235.800h0M180.360 234.360h0M181.080 234.360h0M181.080 234.360h0M181.080 234.360h0M181.800 233.640h0M181.800 234.360h0M181.800 232.920h0M182.520 230.760h0M182.520 235.080h0M182.520 231.480h0M183.240 231.480h0M183.240 230.760h0M183.240 226.440h0M183.960 232.920h0M183.960 233.640h0M183.960 231.480h0M184.680 231.480h0M184.680 233.640h0M184.680 231.480h0M185.400 232.200h0M185.400 232.920h0M185.400 229.320h0M186.120 230.040h0M186.120 230.040h0M186.120 230.040h0M186.840 230.040h0M186.840 233.640h0M186.840 232.200h0M187.560 229.320h0M187.560 229.320h0M187.560 231.480h0M188.280 232.920h0M188.280 232.200h0M189.000 230.760h0M189.000 232.200h0M189.000 230.760h0M189.720 231.480h0M189.720 231.480h0M189.720 228.600h0M190.440 230.760h0M190.440 231.480h0M190.440 229.320h0M191.160 230.040h0M191.160 232.200h0M191.160 230.040h0M191.880 230.760h0M191.880 227.160h0M191.880 227.880h0M192.600 231.480h0M192.600 228.600h0M192.600 227.880h0M193.320 228.600h0M193.320 226.440h0M193.320 226.440h0M194.040 230.040h0M194.040 227.880h0M194.040 228.600h0M194.760 225.000h0M194.760 225.000h0M194.760 217.800h0M195.480 224.280h0M195.480 227.880h0M196.200 225.000h0M196.200 222.120h0M196.200 225.000h0M196.920 226.440h0M196.920 223.560h0M196.920 221.400h0M197.640 222.120h0M197.640 223.560h0M197.640 219.960h0M198.360 222.120h0M198.360 220.680h0M198.360 205.560h0M199.080 208.440h0M199.080 215.640h0M199.080 222.840h0M199.800 221.400h0M199.800 219.960h0M199.800 223.560h0M200.520 221.400h0M200.520 225.000h0M200.520 219.960h0M201.240 218.520h0M201.240 220.680h0M201.240 225.720h0M201.960 222.120h0M201.960 217.080h0M201.960 218.520h0M202.680 220.680h0M202.680 220.680h0M203.400 224.280h0M203.400 223.560h0M203.400 222.120h0M204.120 219.240h0M204.120 224.280h0M204.120 217.800h0M204.840 219.240h0M204.840 224.280h0M204.840 224.280h0M205.560 217.800h0M205.560 222.120h0M205.560 227.880h0M206.280 221.400h0M206.280 224.280h0M206.280 225.720h0M207.000 220.680h0M207.000 224.280h0M207.000 225.720h0M207.720 225.720h0M207.720 226.440h0M207.720 226.440h0M208.440 224.280h0M208.440 225.720h0M208.440 225.720h0M209.160 219.960h0M209.160 218.520h0M209.160 219.960h0M209.880 220.680h0M209.880 220.680h0M209.880 219.240h0M210.600 222.840h0M210.600 217.800h0M211.320 222.120h0M211.320 218.520h0M211.320 220.680h0M212.040 218.520h0M212.040 217.080h0M212.040 216.360h0M212.760 222.840h0M212.760 220.680h0M212.760 221.400h0M213.480 220.680h0M213.480 222.840h0M213.480 219.960h0M214.200 225.000h0M214.200 221.400h0M214.200 221.400h0M214.920 221.400h0M214.920 220.680h0M214.920 219.960h0M215.640 212.040h0M215.640 214.920h0M215.640 201.960h0M216.360 209.160h0M216.360 214.200h0M216.360 194.040h0M217.080 206.280h0M217.080 204.840h0M217.080 212.040h0M217.800 209.160h0M217.800 199.080h0M218.520 203.400h0M218.520 202.680h0M218.520 209.160h0M219.240 203.400h0M219.240 216.360h0M219.240 201.960h0M219.960 212.760h0M219.960 217.800h0M219.960 211.320h0M220.680 210.600h0M220.680 204.120h0M220.680 212.760h0M221.400 212.040h0M221.400 209.880h0M221.400 207.000h0M222.120 211.320h0M222.120 207.720h0M222.120 220.680h0M222.840 208.440h0M222.840 204.120h0M222.840 204.120h0M223.560 209.880h0M223.560 204.840h0M223.560 200.520h0M224.280 204.840h0M224.280 207.720h0M224.280 211.320h0M225.000 215.640h0M225.000 214.200h0M225.720 213.480h0M225.720 212.760h0M225.720 213.480h0M226.440 213.480h0M226.440 215.640h0M226.440 215.640h0M227.160 217.080h0M227.160 215.640h0M227.160 216.360h0M227.880 217.080h0M227.880 214.920h0M227.880 214.920h0M228.600 219.240h0M228.600 216.360h0M228.600 218.520h0M229.320 214.920h0M229.320 212.760h0M229.320 217.800h0M230.040 217.080h0M230.040 215.640h0M230.040 211.320h0M230.760 212.760h0M230.760 210.600h0M230.760 215.640h0M231.480 212.040h0M231.480 217.080h0M231.480 214.920h0M232.200 214.200h0M232.200 212.760h0M232.200 217.080h0M232.920 216.360h0M232.920 215.640h0M233.640 214.200h0M233.640 212.040h0M233.640 210.600h0M234.360 215.640h0M234.360 214.920h0M234.360 212.760h0M235.080 214.200h0M235.080 209.880h0M235.080 214.200h0M235.800 214.200h0M235.800 214.200h0M235.800 211.320h0M236.520 217.080h0M236.520 212.040h0M236.520 216.360h0M237.240 213.480h0M237.240 214.920h0M237.240 212.760h0M237.960 209.880h0M237.960 211.320h0M237.960 206.280h0M238.680 214.200h0M238.680 211.320h0M238.680 212.760h0M239.400 212.760h0M239.400 213.480h0M239.400 213.480h0M240.120 213.480h0M240.120 212.760h0M240.840 212.040h0M240.840 212.040h0M240.840 212.760h0M241.560 212.040h0M241.560 212.040h0M241.560 211.320h0M242.280 209.880h0M242.280 209.160h0M242.280 209.880h0M243.000 210.600h0M243.000 210.600h0M243.000 210.600h0M243.720 209.160h0M243.720 210.600h0M243.720 209.880h0M244.440 210.600h0M244.440 209.880h0M244.440 209.160h0M245.160 211.320h0M245.160 209.880h0M245.160 209.880h0M245.880 207.720h0M245.880 209.880h0M245.880 209.160h0M246.600 209.160h0M246.600 209.160h0M246.600 207.720h0M247.320 206.280h0M247.320 208.440h0M248.040 207.000h0M248.040 206.280h0M248.040 208.440h0M248.760 207.000h0M248.760 207.720h0M248.760 207.720h0M249.480 205.560h0M249.480 209.160h0M249.480 207.720h0M250.200 207.720h0M250.200 208.440h0M250.200 206.280h0M250.920 204.840h0M250.920 206.280h0M250.920 205.560h0M251.640 206.280h0M251.640 208.440h0M251.640 205.560h0M252.360 204.840h0M252.360 207.000h0M252.360 207.000h0M253.080 209.160h0M253.080 207.720h0M253.080 207.720h0M253.800 207.000h0M253.800 204.120h0M253.800 207.000h0M254.520 207.000h0M254.520 207.720h0M254.520 207.000h0M255.240 207.000h0M255.240 207.720h0M255.960 207.720h0M255.960 205.560h0M255.960 207.000h0M256.680 207.000h0M256.680 206.280h0M256.680 204.120h0M257.400 204.120h0M257.400 204.840h0M257.400 204.840h0M258.120 204.840h0M258.120 203.400h0M258.120 204.840h0M258.840 203.400h0M258.840 203.400h0M258.840 204.840h0M259.560 203.400h0M259.560 201.960h0M259.560 201.960h0M260.280 202.680h0M260.280 199.080h0M260.280 202.680h0M261.000 199.800h0M261.000 196.200h0M261.000 191.880h0M261.720 196.200h0M261.720 196.200h0M261.720 195.480h0M262.440 192.600h0M262.440 191.880h0M263.160 191.160h0M263.160 191.160h0M263.160 192.600h0M263.880 191.160h0M263.880 191.160h0M263.880 186.120h0M264.600 187.560h0M264.600 191.160h0M264.600 191.880h0M265.320 196.200h0M265.320 197.640h0M265.320 183.960h0M266.040 183.960h0M266.040 201.960h0M266.040 205.560h0M266.760 189.000h0M266.760 201.240h0M266.760 209.160h0M267.480 205.560h0M267.480 209.160h0M267.480 209.160h0M268.200 211.320h0M268.200 212.760h0M268.200 213.480h0M268.920 212.760h0M268.920 211.320h0M268.920 212.040h0M269.640 209.880h0M269.640 207.720h0M269.640 209.160h0M270.360 209.160h0M270.360 204.120h0M271.080 204.120h0M271.080 202.680h0M271.080 199.800h0M271.800 184.680h0M271.800 199.080h0M271.800 184.680h0M272.520 191.160h0M272.520 195.480h0M272.520 191.160h0M273.240 196.200h0M273.240 204.120h0M273.240 207.720h0M273.960 208.440h0M273.960 211.320h0M273.960 207.000h0M274.680 209.160h0M274.680 206.280h0M274.680 209.160h0M275.400 207.000h0M275.400 206.280h0M275.400 204.840h0M276.120 206.280h0M276.120 208.440h0M276.120 209.880h0M276.840 210.600h0M276.840 209.160h0M276.840 207.000h0M277.560 210.600h0M277.560 212.040h0M278.280 212.760h0M278.280 212.040h0M278.280 213.480h0M279.000 213.480h0M279.000 214.200h0M279.000 215.640h0M279.720 214.920h0M279.720 213.480h0M279.720 215.640h0M280.440 214.200h0M280.440 214.200h0M280.440 214.920h0M281.160 214.920h0M281.160 214.920h0M281.160 214.200h0M281.880 214.920h0M281.880 214.920h0M281.880 215.640h0M282.600 217.080h0M282.600 217.800h0M282.600 216.360h0M283.320 216.360h0M283.320 217.080h0M283.320 217.800h0M284.040 218.520h0M284.040 217.080h0M284.040 218.520h0M284.760 216.360h0M284.760 217.080h0M285.480 215.640h0M285.480 217.800h0M285.480 219.960h0M286.200 219.240h0M286.200 219.960h0M286.200 218.520h0M286.920 218.520h0M286.920 217.080h0M286.920 217.800h0M287.640 218.520h0M287.640 219.240h0M287.640 218.520h0M288.360 218.520h0M288.360 220.680h0M288.360 220.680h0M289.080 221.400h0M289.080 219.240h0M289.080 219.240h0M289.800 219.960h0M289.800 222.120h0M289.800 220.680h0M290.520 220.680h0M290.520 219.960h0M290.520 221.400h0M291.240 220.680h0M291.240 222.120h0M291.240 220.680h0M291.960 222.120h0M291.960 223.560h0M291.960 222.840h0M292.680 223.560h0M292.680 222.840h0M293.400 223.560h0M293.400 223.560h0M293.400 224.280h0M294.120 224.280h0M294.120 222.840h0M294.120 224.280h0M294.840 223.560h0M294.840 223.560h0M294.840 225.720h0M295.560 225.000h0M295.560 225.000h0M295.560 225.000h0M296.280 225.720h0M296.280 225.000h0M296.280 225.720h0M297.000 225.720h0M297.000 226.440h0M297.000 225.720h0M297.720 226.440h0M297.720 225.720h0M297.720 225.720h0M298.440 225.720h0M298.440 227.160h0M298.440 227.880h0M299.160 227.160h0M299.160 227.160h0M299.160 227.880h0M299.880 227.880h0M299.880 226.440h0M300.600 225.720h0M300.600 228.600h0M300.600 227.880h0M301.320 227.880h0M301.320 229.320h0M301.320 227.880h0M302.040 228.600h0M302.040 226.440h0M302.040 227.880h0M302.760 228.600h0M302.760 227.880h0M302.760 227.160h0M303.480 228.600h0M303.480 228.600h0M303.480 230.040h0M304.200 230.040h0M304.200 229.320h0M304.200 229.320h0M304.920 230.040h0M304.920 230.040h0M304.920 230.040h0M305.640 230.760h0M305.640 230.040h0M305.640 230.040h0M306.360 231.480h0M306.360 230.760h0M306.360 230.760h0M307.080 230.760h0M307.080 231.480h0M307.800 232.200h0M307.800 233.640h0M307.800 232.920h0M308.520 233.640h0M308.520 232.920h0M308.520 232.920h0M309.240 234.360h0M309.240 233.640h0M309.240 233.640h0M309.960 234.360h0M309.960 232.920h0M309.960 233.640h0M310.680 235.080h0M310.680 233.640h0M310.680 234.360h0M311.400 235.080h0M311.400 235.080h0M311.400 235.800h0M312.120 235.800h0M312.120 235.800h0M312.120 236.520h0M312.840 235.080h0M312.840 236.520h0M312.840 235.800h0M313.560 235.080h0M313.560 235.800h0M313.560 235.080h0M314.280 236.520h0M314.280 235.800h0M314.280 235.800h0M315.000 235.800h0M315.000 235.800h0M315.720 234.360h0M315.720 235.800h0M315.720 235.800h0M316.440 235.800h0M316.440 236.520h0M316.440 237.240h0M317.160 236.520h0M317.160 236.520h0M317.160 237.240h0M317.880 237.240h0M317.880 237.240h0M317.880 236.520h0M318.600 236.520h0M318.600 236.520h0M318.600 235.800h0M319.320 237.240h0M319.320 236.520h0M319.320 237.960h0M320.040 238.680h0M320.040 235.800h0M320.040 237.240h0M320.760 237.960h0M320.760 237.240h0M320.760 238.680h0M321.480 237.240h0M321.480 237.960h0M321.480 238.680h0M322.200 237.960h0M322.200 238.680h0M322.920 237.240h0M322.920 237.960h0M322.920 238.680h0M323.640 237.960h0M323.640 237.960h0M323.640 237.960h0M324.360 238.680h0M324.360 237.960h0M324.360 237.960h0M325.080 239.400h0M325.080 237.960h0M325.080 238.680h0M325.800 237.960h0M325.800 239.400h0M325.800 239.400h0M326.520 238.680h0M326.520 238.680h0M326.520 238.680h0M327.240 238.680h0M327.240 239.400h0M327.240 239.400h0M327.960 238.680h0M327.960 239.400h0M327.960 239.400h0M328.680 239.400h0M328.680 239.400h0M328.680 239.400h0M329.400 239.400h0M329.400 239.400h0M330.120 239.400h0M330.120 239.400h0M330.120 239.400h0M330.840 239.400h0M330.840 239.400h0M330.840 239.400h0M331.560 239.400h0M331.560 239.400h0M331.560 240.120h0M332.280 240.120h0M332.280 240.120h0M332.280 240.120h0M333.000 240.120h0M333.000 240.120h0M333.000 240.120h0M333.720 240.120h0M333.720 240.120h0M333.720 240.120h0M334.440 240.120h0M334.440 240.120h0M334.440 240.120h0M335.160 240.120h0M335.160 240.120h0M335.160 240.120h0M335.880 240.120h0M335.880 240.120h0M335.880 240.120h0M336.600 240.120h0M336.600 240.120h0M337.320 240.120h0M337.320 240.120h0M337.320 240.120h0M338.040 240.120h0M338.040 240.120h0M338.040 240.120h0M338.760 240.120h0M338.760 240.120h0M338.760 240.120h0M339.480 240.120h0M339.480 240.120h0M339.480 240.120h0M340.200 240.120h0M340.200 240.120h0M340.200 240.120h0M340.920 240.120h0M340.920 240.120h0M340.920 240.120h0M341.640 240.120h0M341.640 240.120h0M341.640 240.120h0M342.360 240.120h0M342.360 240.120h0M342.360 240.120h0M343.080 240.120h0M343.080 240.120h0M343.080 240.120h0M343.800 240.120h0M343.800 240.120h0M343.800 240.120h0M344.520 240.120h0M344.520 240.120h0M345.240 240.120h0M345.240 240.120h0M345.240 240.120h0M345.960 240.120h0M345.960 240.120h0M345.960 240.120h0M346.680 240.120h0M346.680 240.120h0M346.680 240.120h0M347.400 240.120h0M347.400 240.120h0M347.400 240.120h0M348.120 240.120h0M348.120 240.120h0M348.120 240.120h0M348.840 240.120h0M348.840 240.120h0M348.840 240.120h0M349.560 240.120h0M349.560 240.120h0M349.560 240.120h0M350.280 240.120h0M350.280 240.120h0M350.280 240.120h0M351.000 240.120h0M351.000 240.120h0M351.000 240.120h0M351.720 240.120h0M351.720 240.120h0M352.440 240.120h0M352.440 240.120h0M352.440 240.120h0M353.160 240.120h0M353.160 240.120h0M353.160 240.120h0M353.880 240.120h0M353.880 240.120h0M353.880 240.120h0M354.600 240.120h0M354.600 240.120h0M354.600 240.120h0M355.320 240.120h0M355.320 240.120h0M355.320 240.120h0M356.040 240.120h0M356.040 240.120h0M356.040 240.120h0M356.760 240.120h0M356.760 240.120h0M356.760 240.120h0M357.480 240.120h0M357.480 240.120h0M357.480 240.120h0M358.200 240.120h0M358.200 240.120h0M358.200 240.120h0M358.920 240.120h0M358.920 240.120h0M359.640 240.120h0M359.640 240.120h0M359.640 240.120h0M360.360 240.120h0M360.360 240.120h0M360.360 240.120h0M361.080 240.120h0M361.080 240.120h0M361.080 240.120h0M361.800 240.120h0M361.800 240.120h0M361.800 240.120h0M362.520 240.120h0M362.520 240.120h0M362.520 240.120h0M363.240 240.120h0M363.240 240.120h0M363.240 240.120h0M363.960 240.120h0M363.960 240.120h0M363.960 240.120h0M364.680 240.120h0M364.680 240.120h0M364.680 240.120h0M365.400 240.120h0M365.400 240.120h0M365.400 240.120h0M366.120 240.120h0M366.120 240.120h0M366.120 240.120h0M366.840 240.120h0M366.840 240.120h0M367.560 240.120h0M367.560 240.120h0M367.560 240.120h0M368.280 240.120h0M368.280 240.120h0M368.280 240.120h0M369.000 240.120h0M369.000 240.120h0M369.000 240.120h0M369.720 240.120h0M369.720 240.120h0M369.720 240.120h0M370.440 240.120h0M370.440 240.120h0M370.440 240.120h0M371.160 240.120h0M371.160 240.120h0M371.160 240.120h0M371.880 240.120h0M371.880 240.120h0M371.880 240.120h0M372.600 240.120h0M372.600 240.120h0M372.600 240.120h0M373.320 240.120h0M373.320 240.120h0M373.320 240.120h0M374.040 240.120h0M374.040 240.120h0M374.760 240.120h0M374.760 240.120h0M374.760 240.120h0M375.480 240.120h0M375.480 240.120h0M375.480 240.120h0M376.200 240.120h0M376.200 240.120h0M376.200 240.120h0M376.920 240.120h0M376.920 240.120h0M376.920 240.120h0M377.640 240.120h0M377.640 240.120h0M377.640 240.120h0M378.360 240.120h0M378.360 240.120h0M378.360 240.120h0M379.080 240.120h0M379.080 240.120h0M379.080 240.120h0M379.800 240.120h0M379.800 240.120h0M379.800 240.120h0M380.520 240.120h0M380.520 240.120h0M380.520 240.120h0M381.240 240.120h0M381.240 240.120h0M381.960 240.120h0M381.960 240.120h0M381.960 240.120h0M382.680 240.120h0M382.680 240.120h0M382.680 240.120h0M383.400 240.120h0M383.400 240.120h0M383.400 240.120h0M384.120 240.120h0M384.120 240.120h0M384.120 240.120h0M384.840 240.120h0M384.840 240.120h0M384.840 240.120h0M385.560 240.120h0M385.560 240.120h0M385.560 240.120h0M386.280 240.120h0M386.280 240.120h0M386.280 240.120h0M387.000 240.120h0M387.000 240.120h0M387.000 240.120h0M387.720 240.120h0M387.720 240.120h0M387.720 240.120h0M388.440 240.120h0M388.440 240.120h0M388.440 240.120h0M389.160 240.120h0M389.160 240.120h0M389.880 240.120h0M389.880 240.120h0M389.880 240.120h0M390.600 240.120h0M390.600 240.120h0M390.600 240.120h0M391.320 240.120h0M391.320 240.120h0M391.320 240.120h0M392.040 240.120h0M392.040 240.120h0M392.040 240.120h0M392.760 240.120h0M392.760 240.120h0M392.760 240.120h0M393.480 240.120h0M393.480 240.120h0M393.480 240.120h0M394.200 240.120h0M394.200 240.120h0M394.200 240.120h0M394.920 240.120h0M394.920 240.120h0M394.920 240.120h0M395.640 240.120h0M395.640 240.120h0M395.640 240.120h0M396.360 240.120h0M396.360 240.120h0M397.080 240.120h0M397.080 240.120h0M397.080 240.120h0M397.800 240.120h0M397.800 240.120h0M397.800 240.120h0M398.520 240.120h0M398.520 240.120h0M398.520 240.120h0M399.240 240.120h0M399.240 240.120h0M399.240 240.120h0M399.960 240.120h0M399.960 240.120h0M399.960 240.120h0M400.680 240.120h0M400.680 240.120h0M400.680 240.120h0M401.400 240.120h0M401.400 240.120h0M401.400 240.120h0M402.120 240.120h0M402.120 240.120h0M402.120 240.120h0M402.840 240.120h0M402.840 240.120h0M402.840 239.400h0M403.560 239.400h0M403.560 239.400h0M404.280 240.120h0M404.280 240.120h0M404.280 240.120h0M405.000 240.120h0M405.000 240.120h0M405.000 240.120h0M405.720 240.120h0M405.720 240.120h0M405.720 240.120h0M406.440 240.120h0M406.440 240.120h0M406.440 240.120h0M407.160 240.120h0M407.160 240.120h0M407.160 240.120h0M407.880 240.120h0M407.880 240.120h0M407.880 240.120h0M408.600 240.120h0M408.600 240.120h0M408.600 240.120h0M409.320 240.120h0M409.320 240.120h0M409.320 240.120h0M410.040 240.120h0M410.040 240.120h0M410.040 240.120h0M410.760 240.120h0M410.760 240.120h0M410.760 240.120h0M411.480 240.120h0M411.480 240.120h0M412.200 240.120h0M412.200 240.120h0M412.200 240.120h0M412.920 240.120h0M412.920 240.120h0M412.920 240.120h0M413.640 240.120h0M413.640 240.120h0M413.640 240.120h0M414.360 240.120h0M414.360 240.120h0M414.360 240.120h0M415.080 240.120h0" style="fill:none;stroke:#0000ff;stroke-width:3.500;stroke-linecap:round"/></g>
   </g>
   <g id="patch_15">
    <path d="M 57.9600 239.5088 L 57.9600 177.6223" style="fill: none; stroke: #000000; stroke-width: 0.72; stroke-linejoin: miter; stroke-linecap: square"/>
   </g>
   <g id="patch_16">
    <path d="M 415.0800 239.5088 L 415.0800 177.6223" style="fill: none; stroke: #000000; stroke-width: 0.72; stroke-linejoin: miter; stroke-linecap: square"/>
   </g>
   <g id="patch_17">
    <path d="M 57.6000 240.1200 L 414.7200 240.1200" style="fill: none; stroke: #000000; stroke-width: 0.72; stroke-linejoin: miter; stroke-linecap: square"/>
   </g>
   <g id="patch_18">
    <path d="M 57.6000 178.2000 L 414.7200 178.2000" style="fill: none; stroke: #000000; stroke-width: 0.72; stroke-linejoin: miter; stroke-linecap: square"/>
   </g>
  </g>
  <g id="axes_4">
   <g id="patch_19">
    <path d="M 57.6 307.584 
L 414.72 307.584 
L 414.72 245.697488 
L 57.6 245.697488 
z
" style="fill: #ffffff"/>
   </g>
   <g id="text_19">
    <!-- UVB Radiation -->
    <g style="fill: #ffa500" transform="translate(69.1200 259.2000) scale(0.1 -0.1)">
     <defs>
      <path id="DejaVuSans-Bold-55" d="M 588 4666 
L 1791 4666 
L 1791 1869 
Q 1791 1291 1980 1042 
Q 2169 794 2597 794 
Q 3028 794 3217 1042 
Q 3406 1291 3406 1869 
L 3406 4666 
L 4609 4666 
L 4609 1869 
Q 4609 878 4112 393 
Q 3616 -91 2597 -91 
Q 1581 -91 1084 393 
Q 588 878 588 1869 
L 588 4666 
z
" transform="scale(0.015625)"/>
      <path id="DejaVuSans-Bold-56" d="M 31 4666 
L 1241 4666 
L 2478 1222 
L 3713 4666 
L 4922 4666 
L 3194 0 
L 1759 0 
L 31 4666 
z
" transform="scale(0.015625)"/>
      <path id="DejaVuSans-Bold-42" d="M 2456 2859 
Q 2741 2859 2887 2984 
Q 3034 3109 3034 3353 
Q 3034 3594 2887 3720 
Q 2741 3847 2456 3847 
L 1791 3847 
L 1791 2859 
L 2456 2859 
z
M 2497 819 
Q 2859 819 3042 972 
Q 3225 1125 3225 1434 
Q 3225 1738 3044 1889 
Q 2863 2041 2497 2041 
L 1791 2041 
L 1791 819 
L 2497 819 
z
M 3616 2497 
Q 4003 2384 4215 2081 
Q 4428 1778 4428 1338 
Q 4428 663 3972 331 
Q 3516 0 2584 0 
L 588 0 
L 588 4666 
L 2394 4666 
Q 3366 4666 3802 4372 
Q 4238 4078 4238 3431 
Q 4238 3091 4078 2852 
Q 3919 2613 3616 2497 
z
" transform="scale(0.015625)"/>
     </defs>
     <use href="#DejaVuSans-Bold-55"/>
     <use href="#DejaVuSans-Bold-56" transform="translate(81.201172 0)"/>
     <use href="#DejaVuSans-Bold-42" transform="translate(158.59375 0)"/>
     <use href="#DejaVuSans-Bold-20" transform="translate(234.814453 0)"/>
     <use href="#DejaVuSans-Bold-52" transform="translate(269.628906 0)"/>
     <use href="#DejaVuSans-Bold-61" transform="translate(346.630859 0)"/>
     <use href="#DejaVuSans-Bold-64" transform="translate(414.111328 0)"/>
     <use href="#DejaVuSans-Bold-69" transform="translate(485.693359 0)"/>
     <use href="#DejaVuSans-Bold-61" transform="translate(519.970703 0)"/>
     <use href="#DejaVuSans-Bold-74" transform="translate(587.451172 0)"/>
     <use href="#DejaVuSans-Bold-69" transform="translate(635.253906 0)"/>
     <use href="#DejaVuSans-Bold-6f" transform="translate(669.53125 0)"/>
     <use href="#DejaVuSans-Bold-6e" transform="translate(738.232422 0)"/>
    </g>
   </g>
   <g id="matplotlib.axis_7">
    <g id="xtick_22">
     <g id="line2d_69">
      <path d="M 57.9600 307.5840 L 57.9600 245.6975" clip-path="url(#pf45eeb8b34)" style="fill: none; stroke: #b0b0b0; stroke-width: 0.72; stroke-linecap: square"/>
     </g>
     <g id="line2d_70">
      <g>
       <use href="#m7a908d2771" x="57.9600" y="307.8000" style="stroke: #000000; stroke-width: 0.72"/>
      </g>
     </g>
     <g id="text_20">
      <!-- 0 -->
      <g transform="translate(54.5988 322.5424) scale(0.1 -0.1)">
       <use href="#DejaVuSans-30"/>
      </g>
     </g>
    </g>
    <g id="xtick_23">
     <g id="line2d_71">
      <path d="M 117.7200 307.5840 L 117.7200 245.6975" clip-path="url(#pf45eeb8b34)" style="fill: none; stroke: #b0b0b0; stroke-width: 0.72; stroke-linecap: square"/>
     </g>
     <g id="line2d_72">
      <g>
       <use href="#m7a908d2771" x="117.7200" y="307.8000" style="stroke: #000000; stroke-width: 0.72"/>
      </g>
     </g>
     <g id="text_21">
      <!-- 4 -->
      <g transform="translate(114.4788 322.3624) scale(0.1 -0.1)">
       <use href="#DejaVuSans-34"/>
      </g>
     </g>
    </g>
    <g id="xtick_24">
     <g id="line2d_73">
      <path d="M 176.7600 307.5840 L 176.7600 245.6975" clip-path="url(#pf45eeb8b34)" style="fill: none; stroke: #b0b0b0; stroke-width: 0.72; stroke-linecap: square"/>
     </g>
     <g id="line2d_74">
      <g>
       <use href="#m7a908d2771" x="176.7600" y="307.8000" style="stroke: #000000; stroke-width: 0.72"/>
      </g>
     </g>
     <g id="text_22">
      <!-- 8 -->
      <g transform="translate(173.6388 322.5424) scale(0.1 -0.1)">
       <defs>
        <path id="DejaVuSans-38" d="M 2034 2216 
Q 1584 2216 1326 1975 
Q 1069 1734 1069 1313 
Q 1069 891 1326 650 
Q 1584 409 2034 409 
Q 2484 409 2743 651 
Q 3003 894 3003 1313 
Q 3003 1734 2745 1975 
Q 2488 2216 2034 2216 
z
M 1403 2484 
Q 997 2584 770 2862 
Q 544 3141 544 3541 
Q 544 4100 942 4425 
Q 1341 4750 2034 4750 
Q 2731 4750 3128 4425 
Q 3525 4100 3525 3541 
Q 3525 3141 3298 2862 
Q 3072 2584 2669 2484 
Q 3125 2378 3379 2068 
Q 3634 1759 3634 1313 
Q 3634 634 3220 271 
Q 2806 -91 2034 -91 
Q 1263 -91 848 271 
Q 434 634 434 1313 
Q 434 1759 690 2068 
Q 947 2378 1403 2484 
z
M 1172 3481 
Q 1172 3119 1398 2916 
Q 1625 2713 2034 2713 
Q 2441 2713 2670 2916 
Q 2900 3119 2900 3481 
Q 2900 3844 2670 4047 
Q 2441 4250 2034 4250 
Q 1625 4250 1398 4047 
Q 1172 3844 1172 3481 
z
" transform="scale(0.015625)"/>
       </defs>
       <use href="#DejaVuSans-38"/>
      </g>
     </g>
    </g>
    <g id="xtick_25">
     <g id="line2d_75">
      <path d="M 236.5200 307.5840 L 236.5200 245.6975" clip-path="url(#pf45eeb8b34)" style="fill: none; stroke: #b0b0b0; stroke-width: 0.72; stroke-linecap: square"/>
     </g>
     <g id="line2d_76">
      <g>
       <use href="#m7a908d2771" x="236.5200" y="307.8000" style="stroke: #000000; stroke-width: 0.72"/>
      </g>
     </g>
     <g id="text_23">
      <!-- 12 -->
      <g transform="translate(230.3375 322.5424) scale(0.1 -0.1)">
       <use href="#DejaVuSans-31"/>
       <use href="#DejaVuSans-32" transform="translate(63.623047 0)"/>
      </g>
     </g>
    </g>
    <g id="xtick_26">
     <g id="line2d_77">
      <path d="M 296.2800 307.5840 L 296.2800 245.6975" clip-path="url(#pf45eeb8b34)" style="fill: none; stroke: #b0b0b0; stroke-width: 0.72; stroke-linecap: square"/>
     </g>
     <g id="line2d_78">
      <g>
       <use href="#m7a908d2771" x="296.2800" y="307.8000" style="stroke: #000000; stroke-width: 0.72"/>
      </g>
     </g>
     <g id="text_24">
      <!-- 16 -->
      <g transform="translate(288.9575 322.5424) scale(0.1 -0.1)">
       <use href="#DejaVuSans-31"/>
       <use href="#DejaVuSans-36" transform="translate(63.623047 0)"/>
      </g>
     </g>
    </g>
    <g id="xtick_27">
     <g id="line2d_79">
      <path d="M 355.3200 307.5840 L 355.3200 245.6975" clip-path="url(#pf45eeb8b34)" style="fill: none; stroke: #b0b0b0; stroke-width: 0.72; stroke-linecap: square"/>
     </g>
     <g id="line2d_80">
      <g>
       <use href="#m7a908d2771" x="355.3200" y="307.8000" style="stroke: #000000; stroke-width: 0.72"/>
      </g>
     </g>
     <g id="text_25">
      <!-- 20 -->
      <g transform="translate(349.0175 322.7224) scale(0.1 -0.1)">
       <use href="#DejaVuSans-32"/>
       <use href="#DejaVuSans-30" transform="translate(63.623047 0)"/>
      </g>
     </g>
    </g>
    <g id="xtick_28">
     <g id="line2d_81">
      <path d="M 415.0800 307.5840 L 415.0800 245.6975" clip-path="url(#pf45eeb8b34)" style="fill: none; stroke: #b0b0b0; stroke-width: 0.72; stroke-linecap: square"/>
     </g>
     <g id="line2d_82">
      <g>
       <use href="#m7a908d2771" x="415.0800" y="307.8000" style="stroke: #000000; stroke-width: 0.72"/>
      </g>
     </g>
     <g id="text_26">
      <!-- 24 -->
      <g transform="translate(408.1775 322.5424) scale(0.1 -0.1)">
       <use href="#DejaVuSans-32"/>
       <use href="#DejaVuSans-34" transform="translate(63.623047 0)"/>
      </g>
     </g>
    </g>
    <g id="text_27">
     <!-- Hour (UTC) -->
     <g transform="translate(207.9947 336.9406) scale(0.1 -0.1)">
      <defs>
       <path id="DejaVuSans-48" d="M 628 4666 
L 1259 4666 
L 1259 2753 
L 3553 2753 
L 3553 4666 
L 4184 4666 
L 4184 0 
L 3553 0 
L 3553 2222 
L 1259 2222 
L 1259 0 
L 628 0 
L 628 4666 
z
" transform="scale(0.015625)"/>
       <path id="DejaVuSans-75" d="M 544 1381 
L 544 3500 
L 1119 3500 
L 1119 1403 
Q 1119 906 1312 657 
Q 1506 409 1894 409 
Q 2359 409 2629 706 
Q 2900 1003 2900 1516 
L 2900 3500 
L 3475 3500 
L 3475 0 
L 2900 0 
L 2900 538 
Q 2691 219 2414 64 
Q 2138 -91 1772 -91 
Q 1169 -91 856 284 
Q 544 659 544 1381 
z
M 1991 3584 
L 1991 3584 
z
" transform="scale(0.015625)"/>
       <path id="DejaVuSans-28" d="M 1984 4856 
Q 1566 4138 1362 3434 
Q 1159 2731 1159 2009 
Q 1159 1288 1364 580 
Q 1569 -128 1984 -844 
L 1484 -844 
Q 1016 -109 783 600 
Q 550 1309 550 2009 
Q 550 2706 781 3412 
Q 1013 4119 1484 4856 
L 1984 4856 
z
" transform="scale(0.015625)"/>
       <path id="DejaVuSans-55" d="M 556 4666 
L 1191 4666 
L 1191 1831 
Q 1191 1081 1462 751 
Q 1734 422 2344 422 
Q 2950 422 3222 751 
Q 3494 1081 3494 1831 
L 3494 4666 
L 4128 4666 
L 4128 1753 
Q 4128 841 3676 375 
Q 3225 -91 2344 -91 
Q 1459 -91 1007 375 
Q 556 841 556 1753 
L 556 4666 
z
" transform="scale(0.015625)"/>
       <path id="DejaVuSans-54" d="M -19 4666 
L 3928 4666 
L 3928 4134 
L 2272 4134 
L 2272 0 
L 1638 0 
L 1638 4134 
L -19 4134 
L -19 4666 
z
" transform="scale(0.015625)"/>
       <path id="DejaVuSans-43" d="M 4122 4306 
L 4122 3641 
Q 3803 3938 3442 4084 
Q 3081 4231 2675 4231 
Q 1875 4231 1450 3742 
Q 1025 3253 1025 2328 
Q 1025 1406 1450 917 
Q 1875 428 2675 428 
Q 3081 428 3442 575 
Q 3803 722 4122 1019 
L 4122 359 
Q 3791 134 3420 21 
Q 3050 -91 2638 -91 
Q 1578 -91 968 557 
Q 359 1206 359 2328 
Q 359 3453 968 4101 
Q 1578 4750 2638 4750 
Q 3056 4750 3426 4639 
Q 3797 4528 4122 4306 
z
" transform="scale(0.015625)"/>
       <path id="DejaVuSans-29" d="M 513 4856 
L 1013 4856 
Q 1481 4119 1714 3412 
Q 1947 2706 1947 2009 
Q 1947 1309 1714 600 
Q 1481 -109 1013 -844 
L 513 -844 
Q 928 -128 1133 580 
Q 1338 1288 1338 2009 
Q 1338 2731 1133 3434 
Q 928 4138 513 4856 
z
" transform="scale(0.015625)"/>
      </defs>
      <use href="#DejaVuSans-48"/>
      <use href="#DejaVuSans-6f" transform="translate(75.195312 0)"/>
      <use href="#DejaVuSans-75" transform="translate(136.376953 0)"/>
      <use href="#DejaVuSans-72" transform="translate(199.755859 0)"/>
      <use href="#DejaVuSans-20" transform="translate(240.869141 0)"/>
      <use href="#DejaVuSans-28" transform="translate(272.65625 0)"/>
      <use href="#DejaVuSans-55" transform="translate(311.669922 0)"/>
      <use href="#DejaVuSans-54" transform="translate(384.863281 0)"/>
      <use href="#DejaVuSans-43" transform="translate(440.072266 0)"/>
      <use href="#DejaVuSans-29" transform="translate(509.896484 0)"/>
     </g>
    </g>
   </g>
   <g id="matplotlib.axis_8">
    <g id="ytick_10">
     <g id="line2d_83">
      <path d="M 57.6000 307.8000 L 414.7200 307.8000" clip-path="url(#pf45eeb8b34)" style="fill: none; stroke: #b0b0b0; stroke-width: 0.72; stroke-linecap: square"/>
     </g>
     <g id="line2d_84">
      <g>
       <use href="#m9e7ff585a2" x="57.9600" y="307.8000" style="stroke: #000000; stroke-width: 0.72"/>
      </g>
     </g>
     <g id="text_28">
      <!-- 0.0 -->
      <g transform="translate(34.5169 311.7432) scale(0.1 -0.1)">
       <defs>
        <path id="DejaVuSans-2e" d="M 684 794 
L 1344 794 
L 1344 0 
L 684 0 
L 684 794 
z
" transform="scale(0.015625)"/>
       </defs>
       <use href="#DejaVuSans-30"/>
       <use href="#DejaVuSans-2e" transform="translate(63.623047 0)"/>
       <use href="#DejaVuSans-30" transform="translate(95.410156 0)"/>
      </g>
     </g>
    </g>
    <g id="ytick_11">
     <g id="line2d_85">
      <path d="M 57.6000 281.1600 L 414.7200 281.1600" clip-path="url(#pf45eeb8b34)" style="fill: none; stroke: #b0b0b0; stroke-width: 0.72; stroke-linecap: square"/>
     </g>
     <g id="line2d_86">
      <g>
       <use href="#m9e7ff585a2" x="57.9600" y="281.1600" style="stroke: #000000; stroke-width: 0.72"/>
      </g>
     </g>
     <g id="text_29">
      <!-- 0.5 -->
      <g transform="translate(35.2369 284.3585) scale(0.1 -0.1)">
       <use href="#DejaVuSans-30"/>
       <use href="#DejaVuSans-2e" transform="translate(63.623047 0)"/>
       <use href="#DejaVuSans-35" transform="translate(95.410156 0)"/>
      </g>
     </g>
    </g>
    <g id="ytick_12">
     <g id="line2d_87">
      <path d="M 57.6000 253.8000 L 414.7200 253.8000" clip-path="url(#pf45eeb8b34)" style="fill: none; stroke: #b0b0b0; stroke-width: 0.72; stroke-linecap: square"/>
     </g>
     <g id="line2d_88">
      <g>
       <use href="#m9e7ff585a2" x="57.9600" y="253.8000" style="stroke: #000000; stroke-width: 0.72"/>
      </g>
     </g>
     <g id="text_30">
      <!-- 1.0 -->
      <g transform="translate(34.5169 257.6939) scale(0.1 -0.1)">
       <use href="#DejaVuSans-31"/>
       <use href="#DejaVuSans-2e" transform="translate(63.623047 0)"/>
       <use href="#DejaVuSans-30" transform="translate(95.410156 0)"/>
      </g>
     </g>
    </g>
    <g id="text_31">
     <!-- [W/m$^2$] -->
     <g transform="translate(26.6372 294.8507) rotate(-90) scale(0.1 -0.1)">
      <use href="#DejaVuSans-5b" transform="translate(0 0.765625)"/>
      <use href="#DejaVuSans-57" transform="translate(39.013672 0.765625)"/>
      <use href="#DejaVuSans-2f" transform="translate(137.890625 0.765625)"/>
      <use href="#DejaVuSans-6d" transform="translate(171.582031 0.765625)"/>
      <use href="#DejaVuSans-32" transform="translate(269.951172 39.046875) scale(0.7)"/>
      <use href="#DejaVuSans-5d" transform="translate(317.22168 0.765625)"/>
     </g>
    </g>
   </g>
   <g id="line2d_89">
    <path d="M 170.936 307.583993 
L 174.904 307.471379 
L 177.632 307.175857 
L 180.112 306.699632 
L 182.592 305.999609 
L 185.072 305.059739 
L 187.552 303.87144 
L 190.032 302.432705 
L 192.512 300.74746 
L 195.24 298.620254 
L 198.216 295.99528 
L 201.44 292.831571 
L 205.16 288.836295 
L 209.624 283.686398 
L 224.752 265.914482 
L 228.224 262.343639 
L 231.2 259.586059 
L 233.928 257.349537 
L 236.408 255.587951 
L 238.888 254.108208 
L 241.12 253.033025 
L 243.352 252.212484 
L 245.336 251.70379 
L 247.32 251.407168 
L 249.304 251.325038 
L 251.288 251.45807 
L 253.272 251.805176 
L 255.256 252.363523 
L 257.488 253.238426 
L 259.72 254.365846 
L 261.952 255.734165 
L 264.432 257.519857 
L 267.16 259.780374 
L 270.136 262.56071 
L 273.36 265.885738 
L 277.328 270.322812 
L 282.784 276.798512 
L 291.712 287.40657 
L 295.68 291.769695 
L 299.152 295.266357 
L 302.128 297.968598 
L 304.856 300.173673 
L 307.584 302.096647 
L 310.064 303.587941 
L 312.544 304.829185 
L 315.024 305.821083 
L 317.504 306.57076 
L 319.984 307.092588 
L 322.712 307.431095 
L 325.688 307.573113 
L 327.176 307.583986 
L 327.176 307.583986 
" clip-path="url(#pf45eeb8b34)" style="fill: none; stroke: #ff0000; stroke-width: 2; stroke-linecap: square"/>
   </g>
   <g id="line2d_90">
    <g clip-path="url(#pf45eeb8b34)">
     <path d="M57.960 307.800h0M57.960 307.800h0M58.680 307.800h0M58.680 307.800h0M58.680 307.800h0M59.400 307.800h0M59.400 307.800h0M59.400 307.800h0M60.120 307.800h0M60.120 307.800h0M60.120 307.800h0M60.840 307.800h0M60.840 307.800h0M60.840 307.800h0M61.560 307.800h0M61.560 307.800h0M62.280 307.800h0M62.280 307.800h0M62.280 307.800h0M63.000 307.800h0M63.000 307.800h0M63.000 307.800h0M63.720 307.800h0M63.720 307.800h0M63.720 307.800h0M64.440 307.800h0M64.440 307.800h0M64.440 307.800h0M65.160 307.800h0M65.160 307.800h0M65.160 307.800h0M65.880 307.800h0M65.880 307.800h0M65.880 307.800h0M66.600 307.800h0M66.600 307.800h0M66.600 307.800h0M67.320 307.800h0M67.320 307.800h0M67.320 307.800h0M68.040 307.800h0M68.040 307.800h0M68.040 307.800h0M68.760 307.800h0M68.760 307.800h0M69.480 307.800h0M69.480 307.800h0M69.480 307.800h0M70.200 307.800h0M70.200 307.800h0M70.200 307.800h0M70.920 307.800h0M70.920 307.800h0M70.920 307.800h0M71.640 307.800h0M71.640 307.800h0M71.640 307.800h0M72.360 307.800h0M72.360 307.800h0M72.360 307.800h0M73.080 307.800h0M73.080 307.800h0M73.080 307.800h0M73.800 307.800h0M73.800 307.800h0M73.800 307.800h0M74.520 307.800h0M74.520 307.800h0M74.520 307.800h0M75.240 307.800h0M75.240 307.800h0M75.240 307.800h0M75.960 307.800h0M75.960 307.800h0M75.960 307.800h0M76.680 307.800h0M76.680 307.800h0M77.400 307.800h0M77.400 307.800h0M77.400 307.800h0M78.120 307.800h0M78.120 307.800h0M78.120 307.800h0M78.840 307.800h0M78.840 307.800h0M78.840 307.800h0M79.560 307.800h0M79.560 307.800h0M79.560 307.800h0M80.280 307.800h0M80.280 307.800h0M80.280 307.800h0M81.000 307.800h0M81.000 307.800h0M81.000 307.800h0M81.720 307.800h0M81.720 307.800h0M81.720 307.800h0M82.440 307.800h0M82.440 307.800h0M82.440 307.800h0M83.160 307.800h0M83.160 307.800h0M83.160 307.800h0M83.880 307.800h0M83.880 307.800h0M84.600 307.800h0M84.600 307.800h0M84.600 307.800h0M85.320 307.800h0M85.320 307.800h0M85.320 307.800h0M86.040 307.800h0M86.040 307.800h0M86.040 307.800h0M86.760 307.800h0M86.760 307.800h0M86.760 307.800h0M87.480 307.800h0M87.480 307.800h0M87.480 307.800h0M88.200 307.800h0M88.200 307.800h0M88.200 307.800h0M88.920 307.800h0M88.920 307.800h0M88.920 307.800h0M89.640 307.800h0M89.640 307.800h0M89.640 307.800h0M90.360 307.800h0M90.360 307.800h0M90.360 307.800h0M91.080 307.800h0M91.080 307.800h0M91.800 307.800h0M91.800 307.800h0M91.800 307.800h0M92.520 307.800h0M92.520 307.800h0M92.520 307.800h0M93.240 307.800h0M93.240 307.800h0M93.240 307.800h0M93.960 307.800h0M93.960 307.800h0M93.960 307.800h0M94.680 307.800h0M94.680 307.800h0M94.680 307.800h0M95.400 307.800h0M95.400 307.800h0M95.400 307.800h0M96.120 307.800h0M96.120 307.800h0M96.120 307.800h0M96.840 307.800h0M96.840 307.800h0M96.840 307.800h0M97.560 307.800h0M97.560 307.800h0M97.560 307.800h0M98.280 307.800h0M98.280 307.800h0M98.280 307.800h0M99.000 307.800h0M99.000 307.800h0M99.720 307.800h0M99.720 307.800h0M99.720 307.800h0M100.440 307.800h0M100.440 307.800h0M100.440 307.800h0M101.160 307.800h0M101.160 307.800h0M101.160 307.800h0M101.880 307.800h0M101.880 307.800h0M101.880 307.800h0M102.600 307.800h0M102.600 307.800h0M102.600 307.800h0M103.320 307.800h0M103.320 307.800h0M103.320 307.800h0M104.040 307.800h0M104.040 307.800h0M104.040 307.800h0M104.760 307.800h0M104.760 307.800h0M104.760 307.800h0M105.480 307.800h0M105.480 307.800h0M105.480 307.800h0M106.200 307.800h0M106.200 307.800h0M106.920 307.800h0M106.920 307.800h0M106.920 307.800h0M107.640 307.800h0M107.640 307.800h0M107.640 307.800h0M108.360 307.800h0M108.360 307.800h0M108.360 307.800h0M109.080 307.800h0M109.080 307.800h0M109.080 307.800h0M109.800 307.800h0M109.800 307.800h0M109.800 307.800h0M110.520 307.800h0M110.520 307.800h0M110.520 307.800h0M111.240 307.800h0M111.240 307.800h0M111.240 307.800h0M111.960 307.800h0M111.960 307.800h0M111.960 307.800h0M112.680 307.800h0M112.680 307.800h0M112.680 307.800h0M113.400 307.800h0M113.400 307.800h0M114.120 307.800h0M114.120 307.800h0M114.120 307.800h0M114.840 307.800h0M114.840 307.800h0M114.840 307.800h0M115.560 307.800h0M115.560 307.800h0M115.560 307.800h0M116.280 307.800h0M116.280 307.800h0M116.280 307.800h0M117.000 307.800h0M117.000 307.800h0M117.000 307.800h0M117.720 307.800h0M117.720 307.800h0M117.720 307.800h0M118.440 307.800h0M118.440 307.800h0M118.440 307.800h0M119.160 307.800h0M119.160 307.800h0M119.160 307.800h0M119.880 307.800h0M119.880 307.800h0M119.880 307.800h0M120.600 307.800h0M120.600 307.800h0M120.600 307.800h0M121.320 307.800h0M121.320 307.800h0M122.040 307.800h0M122.040 307.800h0M122.040 307.800h0M122.760 307.800h0M122.760 307.800h0M122.760 307.800h0M123.480 307.800h0M123.480 307.800h0M123.480 307.800h0M124.200 307.800h0M124.200 307.800h0M124.200 307.800h0M124.920 307.800h0M124.920 307.800h0M124.920 307.800h0M125.640 307.800h0M125.640 307.800h0M125.640 307.800h0M126.360 307.800h0M126.360 307.800h0M126.360 307.800h0M127.080 307.800h0M127.080 307.800h0M127.080 307.800h0M127.800 307.800h0M127.800 307.800h0M127.800 307.800h0M128.520 307.800h0M128.520 307.800h0M129.240 307.800h0M129.240 307.800h0M129.240 307.800h0M129.960 307.800h0M129.960 307.800h0M129.960 307.800h0M130.680 307.800h0M130.680 307.800h0M130.680 307.800h0M131.400 307.800h0M131.400 307.800h0M131.400 307.800h0M132.120 307.800h0M132.120 307.800h0M132.120 307.800h0M132.840 307.800h0M132.840 307.800h0M132.840 307.800h0M133.560 307.800h0M133.560 307.800h0M133.560 307.800h0M134.280 307.800h0M134.280 307.800h0M134.280 307.800h0M135.000 307.800h0M135.000 307.800h0M135.000 307.800h0M135.720 307.800h0M135.720 307.800h0M136.440 307.800h0M136.440 307.800h0M136.440 307.800h0M137.160 307.800h0M137.160 307.800h0M137.160 307.800h0M137.880 307.800h0M137.880 307.800h0M137.880 307.800h0M138.600 307.800h0M138.600 307.800h0M138.600 307.800h0M139.320 307.800h0M139.320 307.800h0M139.320 307.800h0M140.040 307.800h0M140.040 307.800h0M140.040 307.800h0M140.760 307.800h0M140.760 307.800h0M140.760 307.800h0M141.480 307.800h0M141.480 307.800h0M141.480 307.800h0M142.200 307.800h0M142.200 307.800h0M142.200 307.800h0M142.920 307.800h0M142.920 307.800h0M142.920 307.800h0M143.640 307.800h0M143.640 307.800h0M144.360 307.800h0M144.360 307.800h0M144.360 307.800h0M145.080 307.800h0M145.080 307.800h0M145.080 307.800h0M145.800 307.800h0M145.800 307.800h0M145.800 307.800h0M146.520 307.800h0M146.520 307.800h0M146.520 307.800h0M147.240 307.800h0M147.240 307.800h0M147.240 307.800h0M147.960 307.800h0M147.960 307.800h0M147.960 307.800h0M148.680 307.800h0M148.680 307.800h0M148.680 307.800h0M149.400 307.800h0M149.400 307.800h0M149.400 307.800h0M150.120 307.800h0M150.120 307.800h0M150.120 307.800h0M150.840 307.800h0M150.840 307.800h0M151.560 307.800h0M151.560 307.800h0M151.560 307.800h0M152.280 307.800h0M152.280 307.800h0M152.280 307.800h0M153.000 307.800h0M153.000 307.800h0M153.000 307.800h0M153.720 307.800h0M153.720 307.800h0M153.720 307.800h0M154.440 307.800h0M154.440 307.800h0M154.440 307.800h0M155.160 307.800h0M155.160 307.800h0M155.160 307.800h0M155.880 307.800h0M155.880 307.800h0M155.880 307.800h0M156.600 307.800h0M156.600 307.800h0M156.600 307.800h0M157.320 307.800h0M157.320 307.800h0M157.320 307.800h0M158.040 307.800h0M158.040 307.800h0M158.040 307.800h0M158.760 307.800h0M158.760 307.800h0M159.480 307.800h0M159.480 307.800h0M159.480 307.800h0M160.200 307.800h0M160.200 307.800h0M160.200 307.800h0M160.920 307.800h0M160.920 307.800h0M160.920 307.800h0M161.640 307.800h0M161.640 307.800h0M161.640 307.800h0M162.360 307.800h0M162.360 307.800h0M162.360 307.800h0M163.080 307.800h0M163.080 307.800h0M163.080 307.800h0M163.800 307.800h0M163.800 307.800h0M163.800 307.800h0M164.520 307.800h0M164.520 307.800h0M164.520 307.800h0M165.240 307.800h0M165.240 307.800h0M165.240 307.800h0M165.960 307.800h0M165.960 307.800h0M166.680 307.800h0M166.680 307.800h0M166.680 307.800h0M167.400 307.800h0M167.400 307.800h0M167.400 307.800h0M168.120 307.800h0M168.120 307.800h0M168.120 307.800h0M168.840 307.800h0M168.840 307.800h0M168.840 307.800h0M169.560 307.800h0M169.560 307.800h0M169.560 307.800h0M170.280 307.800h0M170.280 307.800h0M170.280 307.800h0M171.000 307.800h0M171.000 307.800h0M171.000 307.800h0M171.720 307.800h0M171.720 307.800h0M171.720 307.800h0M172.440 307.800h0M172.440 307.800h0M172.440 307.800h0M173.160 307.800h0M173.160 307.800h0M173.880 307.800h0M173.880 307.800h0M173.880 307.800h0M174.600 307.800h0M174.600 307.800h0M174.600 307.800h0M175.320 307.800h0M175.320 307.800h0M175.320 307.800h0M176.040 307.800h0M176.040 307.800h0M176.040 307.800h0M176.760 307.800h0M176.760 307.800h0M176.760 307.800h0M177.480 307.800h0M177.480 307.800h0M177.480 307.080h0M178.200 307.080h0M178.200 306.360h0M178.200 307.080h0M178.920 307.080h0M178.920 307.080h0M178.920 307.080h0M179.640 307.080h0M179.640 307.080h0M179.640 307.080h0M180.360 307.080h0M180.360 306.360h0M181.080 307.080h0M181.080 306.360h0M181.080 306.360h0M181.800 306.360h0M181.800 306.360h0M181.800 306.360h0M182.520 307.080h0M182.520 307.080h0M182.520 307.080h0M183.240 306.360h0M183.240 306.360h0M183.240 306.360h0M183.960 306.360h0M183.960 306.360h0M183.960 307.080h0M184.680 307.080h0M184.680 306.360h0M184.680 306.360h0M185.400 306.360h0M185.400 306.360h0M185.400 305.640h0M186.120 305.640h0M186.120 306.360h0M186.120 304.920h0M186.840 305.640h0M186.840 306.360h0M186.840 304.920h0M187.560 305.640h0M187.560 304.920h0M187.560 305.640h0M188.280 305.640h0M188.280 305.640h0M189.000 305.640h0M189.000 304.920h0M189.000 305.640h0M189.720 305.640h0M189.720 304.920h0M189.720 304.920h0M190.440 303.480h0M190.440 304.920h0M190.440 304.200h0M191.160 304.920h0M191.160 304.920h0M191.160 304.920h0M191.880 304.920h0M191.880 304.920h0M191.880 304.920h0M192.600 304.920h0M192.600 304.920h0M192.600 304.200h0M193.320 304.920h0M193.320 303.480h0M193.320 304.920h0M194.040 302.760h0M194.040 303.480h0M194.040 303.480h0M194.760 303.480h0M194.760 304.920h0M194.760 302.760h0M195.480 304.200h0M195.480 303.480h0M196.200 304.200h0M196.200 302.040h0M196.200 302.760h0M196.920 302.760h0M196.920 302.760h0M196.920 302.040h0M197.640 299.160h0M197.640 299.160h0M197.640 299.160h0M198.360 297.720h0M198.360 298.440h0M198.360 296.280h0M199.080 299.880h0M199.080 297.720h0M199.080 297.000h0M199.800 299.880h0M199.800 299.880h0M199.800 299.880h0M200.520 299.880h0M200.520 299.160h0M200.520 298.440h0M201.240 298.440h0M201.240 297.720h0M201.240 298.440h0M201.960 297.720h0M201.960 297.000h0M201.960 297.720h0M202.680 299.160h0M202.680 297.720h0M203.400 298.440h0M203.400 298.440h0M203.400 297.720h0M204.120 299.160h0M204.120 297.000h0M204.120 298.440h0M204.840 297.000h0M204.840 297.720h0M204.840 298.440h0M205.560 297.720h0M205.560 297.000h0M205.560 297.000h0M206.280 296.280h0M206.280 297.720h0M206.280 297.000h0M207.000 297.000h0M207.000 297.000h0M207.000 298.440h0M207.720 298.440h0M207.720 296.280h0M207.720 296.280h0M208.440 297.720h0M208.440 299.160h0M208.440 295.560h0M209.160 297.720h0M209.160 296.280h0M209.160 299.160h0M209.880 299.160h0M209.880 297.720h0M209.880 297.720h0M210.600 294.120h0M210.600 293.400h0M211.320 295.560h0M211.320 292.680h0M211.320 294.120h0M212.040 295.560h0M212.040 295.560h0M212.040 292.680h0M212.760 294.840h0M212.760 294.840h0M212.760 295.560h0M213.480 296.280h0M213.480 296.280h0M213.480 294.840h0M214.200 294.120h0M214.200 295.560h0M214.200 296.280h0M214.920 294.120h0M214.920 292.680h0M214.920 290.520h0M215.640 281.160h0M215.640 283.320h0M215.640 287.640h0M216.360 285.480h0M216.360 283.320h0M216.360 280.440h0M217.080 285.480h0M217.080 282.600h0M217.080 281.880h0M217.800 284.760h0M217.800 286.200h0M218.520 282.600h0M218.520 283.320h0M218.520 284.040h0M219.240 283.320h0M219.240 285.480h0M219.240 286.200h0M219.960 284.040h0M219.960 288.360h0M219.960 289.080h0M220.680 288.360h0M220.680 286.920h0M220.680 288.360h0M221.400 286.200h0M221.400 287.640h0M221.400 286.200h0M222.120 289.080h0M222.120 289.800h0M222.120 291.240h0M222.840 289.800h0M222.840 284.760h0M222.840 280.440h0M223.560 288.360h0M223.560 279.720h0M223.560 287.640h0M224.280 288.360h0M224.280 289.800h0M224.280 288.360h0M225.000 289.080h0M225.000 288.360h0M225.720 287.640h0M225.720 286.920h0M225.720 287.640h0M226.440 287.640h0M226.440 287.640h0M226.440 286.920h0M227.160 287.640h0M227.160 288.360h0M227.160 287.640h0M227.880 286.920h0M227.880 287.640h0M227.880 288.360h0M228.600 286.200h0M228.600 286.200h0M228.600 286.200h0M229.320 287.640h0M229.320 287.640h0M229.320 286.920h0M230.040 287.640h0M230.040 286.920h0M230.040 286.920h0M230.760 286.200h0M230.760 284.760h0M230.760 287.640h0M231.480 285.480h0M231.480 286.920h0M231.480 281.880h0M232.200 285.480h0M232.200 286.200h0M232.200 284.760h0M232.920 286.920h0M232.920 286.200h0M233.640 281.880h0M233.640 282.600h0M233.640 279.000h0M234.360 279.720h0M234.360 282.600h0M234.360 284.040h0M235.080 285.480h0M235.080 281.880h0M235.080 282.600h0M235.800 281.880h0M235.800 282.600h0M235.800 283.320h0M236.520 284.040h0M236.520 282.600h0M236.520 281.880h0M237.240 282.600h0M237.240 281.160h0M237.240 281.160h0M237.960 283.320h0M237.960 282.600h0M237.960 283.320h0M238.680 281.160h0M238.680 282.600h0M238.680 283.320h0M239.400 283.320h0M239.400 281.880h0M239.400 280.440h0M240.120 281.160h0M240.120 281.160h0M240.840 280.440h0M240.840 282.600h0M240.840 281.160h0M241.560 280.440h0M241.560 281.160h0M241.560 281.160h0M242.280 279.720h0M242.280 280.440h0M242.280 280.440h0M243.000 279.720h0M243.000 279.000h0M243.000 279.720h0M243.720 279.720h0M243.720 279.000h0M243.720 278.280h0M244.440 278.280h0M244.440 279.720h0M244.440 278.280h0M245.160 278.280h0M245.160 279.000h0M245.160 278.280h0M245.880 277.560h0M245.880 277.560h0M245.880 279.720h0M246.600 278.280h0M246.600 277.560h0M246.600 278.280h0M247.320 277.560h0M247.320 277.560h0M248.040 279.000h0M248.040 278.280h0M248.040 278.280h0M248.760 281.160h0M248.760 278.280h0M248.760 278.280h0M249.480 276.840h0M249.480 276.840h0M249.480 276.120h0M250.200 278.280h0M250.200 279.000h0M250.200 276.840h0M250.920 279.000h0M250.920 279.000h0M250.920 281.160h0M251.640 276.840h0M251.640 277.560h0M251.640 277.560h0M252.360 278.280h0M252.360 279.000h0M252.360 279.000h0M253.080 279.720h0M253.080 277.560h0M253.080 276.840h0M253.800 275.400h0M253.800 278.280h0M253.800 278.280h0M254.520 279.720h0M254.520 276.840h0M254.520 278.280h0M255.240 276.840h0M255.240 276.120h0M255.960 278.280h0M255.960 278.280h0M255.960 278.280h0M256.680 279.000h0M256.680 279.720h0M256.680 278.280h0M257.400 278.280h0M257.400 279.000h0M257.400 279.720h0M258.120 276.840h0M258.120 277.560h0M258.120 277.560h0M258.840 278.280h0M258.840 276.840h0M258.840 276.840h0M259.560 277.560h0M259.560 273.240h0M259.560 274.680h0M260.280 271.800h0M260.280 274.680h0M260.280 273.960h0M261.000 276.840h0M261.000 273.240h0M261.000 271.080h0M261.720 272.520h0M261.720 269.640h0M261.720 271.800h0M262.440 275.400h0M262.440 271.080h0M263.160 271.080h0M263.160 273.240h0M263.160 271.800h0M263.880 269.640h0M263.880 271.080h0M263.880 269.640h0M264.600 268.200h0M264.600 273.240h0M264.600 270.360h0M265.320 271.080h0M265.320 271.080h0M265.320 266.760h0M266.040 266.760h0M266.040 277.560h0M266.040 278.280h0M266.760 282.600h0M266.760 284.760h0M266.760 283.320h0M267.480 281.880h0M267.480 283.320h0M267.480 284.040h0M268.200 286.200h0M268.200 282.600h0M268.200 283.320h0M268.920 283.320h0M268.920 284.760h0M268.920 284.040h0M269.640 284.040h0M269.640 284.040h0M269.640 286.200h0M270.360 284.760h0M270.360 286.200h0M271.080 282.600h0M271.080 281.880h0M271.080 281.160h0M271.800 279.000h0M271.800 276.120h0M271.800 273.240h0M272.520 273.240h0M272.520 282.600h0M272.520 284.040h0M273.240 283.320h0M273.240 281.880h0M273.240 280.440h0M273.960 281.160h0M273.960 281.160h0M273.960 281.880h0M274.680 282.600h0M274.680 284.040h0M274.680 285.480h0M275.400 285.480h0M275.400 286.200h0M275.400 286.200h0M276.120 286.200h0M276.120 285.480h0M276.120 287.640h0M276.840 288.360h0M276.840 289.080h0M276.840 285.480h0M277.560 288.360h0M277.560 287.640h0M278.280 286.920h0M278.280 288.360h0M278.280 287.640h0M279.000 289.800h0M279.000 288.360h0M279.000 289.800h0M279.720 288.360h0M279.720 289.800h0M279.720 291.960h0M280.440 291.960h0M280.440 290.520h0M280.440 291.240h0M281.160 290.520h0M281.160 290.520h0M281.160 290.520h0M281.880 291.960h0M281.880 291.960h0M281.880 291.240h0M282.600 291.240h0M282.600 292.680h0M282.600 292.680h0M283.320 291.960h0M283.320 294.120h0M283.320 294.120h0M284.040 293.400h0M284.040 292.680h0M284.040 293.400h0M284.760 294.120h0M284.760 291.960h0M285.480 294.840h0M285.480 293.400h0M285.480 294.120h0M286.200 294.120h0M286.200 294.120h0M286.200 294.120h0M286.920 293.400h0M286.920 292.680h0M286.920 294.120h0M287.640 294.120h0M287.640 296.280h0M287.640 294.120h0M288.360 294.840h0M288.360 295.560h0M288.360 295.560h0M289.080 295.560h0M289.080 296.280h0M289.080 295.560h0M289.800 294.120h0M289.800 295.560h0M289.800 295.560h0M290.520 296.280h0M290.520 294.840h0M290.520 295.560h0M291.240 295.560h0M291.240 295.560h0M291.240 297.720h0M291.960 298.440h0M291.960 297.720h0M291.960 299.160h0M292.680 298.440h0M292.680 297.000h0M293.400 299.160h0M293.400 297.720h0M293.400 299.880h0M294.120 299.160h0M294.120 299.880h0M294.120 299.160h0M294.840 300.600h0M294.840 299.160h0M294.840 299.160h0M295.560 300.600h0M295.560 299.880h0M295.560 299.160h0M296.280 300.600h0M296.280 299.880h0M296.280 299.880h0M297.000 299.880h0M297.000 299.160h0M297.000 301.320h0M297.720 301.320h0M297.720 302.040h0M297.720 301.320h0M298.440 301.320h0M298.440 299.880h0M298.440 301.320h0M299.160 300.600h0M299.160 301.320h0M299.160 302.760h0M299.880 302.040h0M299.880 301.320h0M300.600 302.040h0M300.600 302.040h0M300.600 302.040h0M301.320 302.760h0M301.320 302.760h0M301.320 301.320h0M302.040 302.040h0M302.040 302.760h0M302.040 302.760h0M302.760 302.760h0M302.760 302.760h0M302.760 302.760h0M303.480 302.760h0M303.480 302.760h0M303.480 303.480h0M304.200 303.480h0M304.200 302.760h0M304.200 303.480h0M304.920 303.480h0M304.920 303.480h0M304.920 304.200h0M305.640 303.480h0M305.640 304.200h0M305.640 304.200h0M306.360 304.200h0M306.360 304.200h0M306.360 303.480h0M307.080 304.920h0M307.080 304.200h0M307.800 304.200h0M307.800 304.200h0M307.800 304.920h0M308.520 305.640h0M308.520 303.480h0M308.520 304.920h0M309.240 304.200h0M309.240 304.920h0M309.240 304.920h0M309.960 304.920h0M309.960 304.920h0M309.960 304.920h0M310.680 305.640h0M310.680 304.920h0M310.680 305.640h0M311.400 305.640h0M311.400 305.640h0M311.400 305.640h0M312.120 306.360h0M312.120 305.640h0M312.120 305.640h0M312.840 305.640h0M312.840 306.360h0M312.840 304.920h0M313.560 306.360h0M313.560 306.360h0M313.560 306.360h0M314.280 305.640h0M314.280 307.080h0M314.280 305.640h0M315.000 306.360h0M315.000 306.360h0M315.720 306.360h0M315.720 305.640h0M315.720 305.640h0M316.440 306.360h0M316.440 306.360h0M316.440 305.640h0M317.160 307.080h0M317.160 307.080h0M317.160 307.080h0M317.880 305.640h0M317.880 307.080h0M317.880 306.360h0M318.600 307.080h0M318.600 307.080h0M318.600 307.080h0M319.320 307.080h0M319.320 307.080h0M319.320 306.360h0M320.040 306.360h0M320.040 307.080h0M320.040 307.080h0M320.760 307.080h0M320.760 307.080h0M320.760 307.080h0M321.480 307.080h0M321.480 307.080h0M321.480 307.800h0M322.200 307.080h0M322.200 307.800h0M322.920 307.080h0M322.920 307.080h0M322.920 307.800h0M323.640 306.360h0M323.640 307.800h0M323.640 307.800h0M324.360 307.800h0M324.360 307.800h0M324.360 307.800h0M325.080 307.800h0M325.080 307.800h0M325.080 307.800h0M325.800 307.800h0M325.800 307.800h0M325.800 307.800h0M326.520 307.800h0M326.520 307.800h0M326.520 307.800h0M327.240 307.800h0M327.240 307.800h0M327.240 307.800h0M327.960 307.800h0M327.960 307.800h0M327.960 307.800h0M328.680 307.800h0M328.680 307.800h0M328.680 307.800h0M329.400 307.800h0M329.400 307.800h0M330.120 307.800h0M330.120 307.800h0M330.120 307.800h0M330.840 307.800h0M330.840 307.800h0M330.840 307.800h0M331.560 307.800h0M331.560 307.800h0M331.560 307.800h0M332.280 307.800h0M332.280 307.800h0M332.280 307.800h0M333.000 307.800h0M333.000 307.800h0M333.000 307.800h0M333.720 307.800h0M333.720 307.800h0M333.720 307.800h0M334.440 307.800h0M334.440 307.800h0M334.440 307.800h0M335.160 307.800h0M335.160 307.800h0M335.160 307.800h0M335.880 307.800h0M335.880 307.800h0M335.880 307.800h0M336.600 307.800h0M336.600 307.800h0M337.320 307.800h0M337.320 307.800h0M337.320 307.800h0M338.040 307.800h0M338.040 307.800h0M338.040 307.800h0M338.760 307.800h0M338.760 307.800h0M338.760 307.800h0M339.480 307.800h0M339.480 307.800h0M339.480 307.800h0M340.200 307.800h0M340.200 307.800h0M340.200 307.800h0M340.920 307.800h0M340.920 307.800h0M340.920 307.800h0M341.640 307.800h0M341.640 307.800h0M341.640 307.800h0M342.360 307.800h0M342.360 307.800h0M342.360 307.800h0M343.080 307.800h0M343.080 307.800h0M343.080 307.800h0M343.800 307.800h0M343.800 307.800h0M343.800 307.800h0M344.520 307.800h0M344.520 307.800h0M345.240 307.800h0M345.240 307.800h0M345.240 307.800h0M345.960 307.800h0M345.960 307.800h0M345.960 307.800h0M346.680 307.800h0M346.680 307.800h0M346.680 307.800h0M347.400 307.800h0M347.400 307.800h0M347.400 307.800h0M348.120 307.800h0M348.120 307.800h0M348.120 307.800h0M348.840 307.800h0M348.840 307.800h0M348.840 307.800h0M349.560 307.800h0M349.560 307.800h0M349.560 307.800h0M350.280 307.800h0M350.280 307.800h0M350.280 307.800h0M351.000 307.800h0M351.000 307.800h0M351.000 307.800h0M351.720 307.800h0M351.720 307.800h0M352.440 307.800h0M352.440 307.800h0M352.440 307.800h0M353.160 307.800h0M353.160 307.800h0M353.160 307.800h0M353.880 307.800h0M353.880 307.800h0M353.880 307.800h0M354.600 307.800h0M354.600 307.800h0M354.600 307.800h0M355.320 307.800h0M355.320 307.800h0M355.320 307.800h0M356.040 307.800h0M356.040 307.800h0M356.040 307.800h0M356.760 307.800h0M356.760 307.800h0M356.760 307.800h0M357.480 307.800h0M357.480 307.800h0M357.480 307.800h0M358.200 307.800h0M358.200 307.800h0M358.200 307.800h0M358.920 307.800h0M358.920 307.800h0M359.640 307.800h0M359.640 307.800h0M359.640 307.800h0M360.360 307.800h0M360.360 307.800h0M360.360 307.800h0M361.080 307.800h0M361.080 307.800h0M361.080 307.800h0M361.800 307.800h0M361.800 307.800h0M361.800 307.800h0M362.520 307.800h0M362.520 307.800h0M362.520 307.800h0M363.240 307.800h0M363.240 307.800h0M363.240 307.800h0M363.960 307.800h0M363.960 307.800h0M363.960 307.800h0M364.680 307.800h0M364.680 307.800h0M364.680 307.800h0M365.400 307.800h0M365.400 307.800h0M365.400 307.800h0M366.120 307.800h0M366.120 307.800h0M366.120 307.800h0M366.840 307.800h0M366.840 307.800h0M367.560 307.800h0M367.560 307.800h0M367.560 307.800h0M368.280 307.800h0M368.280 307.800h0M368.280 307.800h0M369.000 307.800h0M369.000 307.800h0M369.000 307.800h0M369.720 307.800h0M369.720 307.800h0M369.720 307.800h0M370.440 307.800h0M370.440 307.800h0M370.440 307.800h0M371.160 307.800h0M371.160 307.800h0M371.160 307.800h0M371.880 307.800h0M371.880 307.800h0M371.880 307.800h0M372.600 307.800h0M372.600 307.800h0M372.600 307.800h0M373.320 307.800h0M373.320 307.800h0M373.320 307.800h0M374.040 307.800h0M374.040 307.800h0M374.760 307.800h0M374.760 307.800h0M374.760 307.800h0M375.480 307.800h0M375.480 307.800h0M375.480 307.800h0M376.200 307.800h0M376.200 307.800h0M376.200 307.800h0M376.920 307.800h0M376.920 307.800h0M376.920 307.800h0M377.640 307.800h0M377.640 307.800h0M377.640 307.800h0M378.360 307.800h0M378.360 307.800h0M378.360 307.800h0M379.080 307.800h0M379.080 307.800h0M379.080 307.800h0M379.800 307.800h0M379.800 307.800h0M379.800 307.800h0M380.520 307.800h0M380.520 307.800h0M380.520 307.800h0M381.240 307.800h0M381.240 307.800h0M381.960 307.800h0M381.960 307.800h0M381.960 307.800h0M382.680 307.800h0M382.680 307.800h0M382.680 307.800h0M383.400 307.800h0M383.400 307.800h0M383.400 307.800h0M384.120 307.800h0M384.120 307.800h0M384.120 307.800h0M384.840 307.800h0M384.840 307.800h0M384.840 307.800h0M385.560 307.800h0M385.560 307.800h0M385.560 307.800h0M386.280 307.800h0M386.280 307.800h0M386.280 307.800h0M387.000 307.800h0M387.000 307.800h0M387.000 307.800h0M387.720 307.800h0M387.720 307.800h0M387.720 307.800h0M388.440 307.800h0M388.440 307.800h0M388.440 307.800h0M389.160 307.800h0M389.160 307.800h0M389.880 307.800h0M389.880 307.800h0M389.880 307.800h0M390.600 307.800h0M390.600 307.800h0M390.600 307.800h0M391.320 307.800h0M391.320 307.800h0M391.320 307.800h0M392.040 307.800h0M392.040 307.800h0M392.040 307.800h0M392.760 307.800h0M392.760 307.800h0M392.760 307.800h0M393.480 307.800h0M393.480 307.800h0M393.480 307.800h0M394.200 307.800h0M394.200 307.800h0M394.200 307.800h0M394.920 307.800h0M394.920 307.800h0M394.920 307.800h0M395.640 307.800h0M395.640 307.800h0M395.640 307.800h0M396.360 307.800h0M396.360 307.800h0M397.080 307.800h0M397.080 307.800h0M397.080 307.800h0M397.800 307.800h0M397.800 307.800h0M397.800 307.800h0M398.520 307.800h0M398.520 307.800h0M398.520 307.800h0M399.240 307.800h0M399.240 307.800h0M399.240 307.800h0M399.960 307.800h0M399.960 307.800h0M399.960 307.800h0M400.680 307.800h0M400.680 307.800h0M400.680 307.800h0M401.400 307.800h0M401.400 307.800h0M401.400 307.800h0M402.120 307.800h0M402.120 307.800h0M402.120 307.800h0M402.840 307.800h0M402.840 307.800h0M402.840 307.800h0M403.560 307.800h0M403.560 307.800h0M404.280 307.800h0M404.280 307.800h0M404.280 307.800h0M405.000 307.800h0M405.000 307.800h0M405.000 307.800h0M405.720 307.800h0M405.720 307.800h0M405.720 307.800h0M406.440 307.800h0M406.440 307.800h0M406.440 307.800h0M407.160 307.800h0M407.160 307.800h0M407.160 307.800h0M407.880 307.800h0M407.880 307.800h0M407.880 307.800h0M408.600 307.800h0M408.600 307.800h0M408.600 307.800h0M409.320 307.800h0M409.320 307.800h0M409.320 307.800h0M410.040 307.800h0M410.040 307.800h0M410.040 307.800h0M410.760 307.800h0M410.760 307.800h0M410.760 307.800h0M411.480 307.800h0M411.480 307.800h0M412.200 307.800h0M412.200 307.800h0M412.200 307.800h0M412.920 307.800h0M412.920 307.800h0M412.920 307.800h0M413.640 307.800h0M413.640 307.800h0M413.640 307.800h0M414.360 307.800h0M414.360 307.800h0M414.360 307.800h0M415.080 307.800h0" style="fill:none;stroke:#0000ff;stroke-width:3.500;stroke-linecap:round"/></g>
   </g>
   <g id="patch_20">
    <path d="M 57.9600 307.5840 L 57.9600 245.6975" style="fill: none; stroke: #000000; stroke-width: 0.72; stroke-linejoin: miter; stroke-linecap: square"/>
   </g>
   <g id="patch_21">
    <path d="M 415.0800 307.5840 L 415.0800 245.6975" style="fill: none; stroke: #000000; stroke-width: 0.72; stroke-linejoin: miter; stroke-linecap: square"/>
   </g>
   <g id="patch_22">
    <path d="M 57.6000 307.8000 L 414.7200 307.8000" style="fill: none; stroke: #000000; stroke-width: 0.72; stroke-linejoin: miter; stroke-linecap: square"/>
   </g>
   <g id="patch_23">
    <path d="M 57.6000 245.8800 L 414.7200 245.8800" style="fill: none; stroke: #000000; stroke-width: 0.72; stroke-linejoin: miter; stroke-linecap: square"/>
   </g>
  </g>
 </g>
 <defs>
  <clipPath id="p2f8685d507">
   <rect x="57.6000" y="41.7600" width="357.1200" height="61.9200"/>
  </clipPath>
  <clipPath id="p28a8ff1680">
   <rect x="57.6000" y="109.4400" width="357.1200" height="61.9200"/>
  </clipPath>
  <clipPath id="p414f6a44b0">
   <rect x="57.6000" y="177.8400" width="357.1200" height="61.9200"/>
  </clipPath>
  <clipPath id="pf45eeb8b34">
   <rect x="57.6000" y="245.5200" width="357.1200" height="61.9200"/>
  </clipPath>
 </defs>
</svg>
</body></html>
